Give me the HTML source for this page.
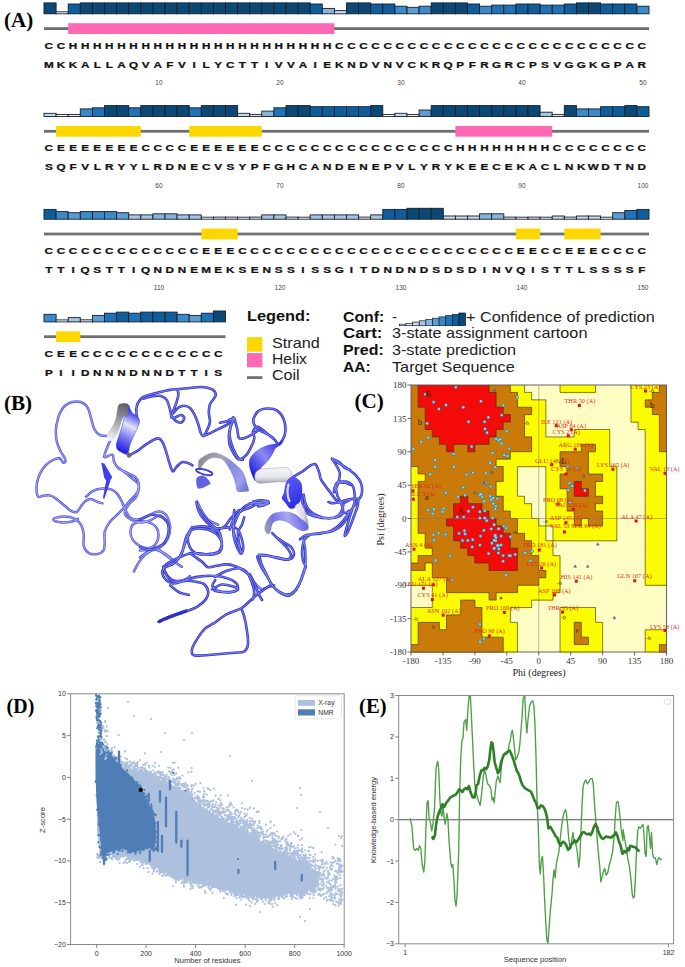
<!DOCTYPE html>
<html><head><meta charset="utf-8">
<style>
html,body{margin:0;padding:0;background:#fff;}
body{width:685px;height:967px;overflow:hidden;position:relative;font-family:"Liberation Sans",sans-serif;}
svg{position:absolute;left:0;top:0;}
.sl{font-family:"Liberation Sans",sans-serif;font-weight:bold;font-size:9.6px;fill:#111;stroke:#111;stroke-width:0.25px;text-anchor:middle;}
.nl{font-family:"Liberation Sans",sans-serif;font-size:6.5px;fill:#444;text-anchor:middle;}
.lg{font-family:"Liberation Sans",sans-serif;font-size:14px;fill:#111;}
.lt{font-family:"Liberation Sans",sans-serif;font-size:15px;fill:#222;}
.ax{font-family:"Liberation Serif",serif;font-size:9px;fill:#333;}
.axt{font-family:"Liberation Serif",serif;font-size:10px;fill:#222;}
.mp{font-family:"Liberation Sans",sans-serif;font-size:7px;fill:#333;}
.mpt{font-family:"Liberation Sans",sans-serif;font-size:7.6px;fill:#333;}
.mp2{font-family:"Liberation Sans",sans-serif;font-size:6.8px;fill:#333;}
.rl{font-family:"Liberation Serif",serif;font-size:6.3px;fill:#e02a1a;}
.rg{font-family:"Liberation Serif",serif;font-size:9px;fill:#3a2000;}
.rt{font-family:"Liberation Serif",serif;font-size:6px;fill:#3a2a00;}
.pl{font-family:"Liberation Serif",serif;font-weight:bold;font-size:20.5px;fill:#000;}
</style></head><body>
<svg width="685" height="967" viewBox="0 0 685 967">
<text x="4" y="26.5" class="pl" textLength="29.2" lengthAdjust="spacingAndGlyphs">(A)</text>
<rect x="44.00" y="2.90" width="12.10" height="10.90" fill="#0b4876" stroke="#15202c" stroke-width="0.9"/>
<rect x="56.10" y="11.80" width="12.10" height="2.00" fill="#ffffff" stroke="#15202c" stroke-width="0.9"/>
<rect x="68.20" y="4.00" width="12.10" height="9.80" fill="#0f5d9b" stroke="#15202c" stroke-width="0.9"/>
<rect x="80.30" y="2.90" width="12.10" height="10.90" fill="#0b4876" stroke="#15202c" stroke-width="0.9"/>
<rect x="92.40" y="2.90" width="12.10" height="10.90" fill="#0b4876" stroke="#15202c" stroke-width="0.9"/>
<rect x="104.50" y="2.90" width="12.10" height="10.90" fill="#0b4876" stroke="#15202c" stroke-width="0.9"/>
<rect x="116.60" y="2.90" width="12.10" height="10.90" fill="#0b4876" stroke="#15202c" stroke-width="0.9"/>
<rect x="128.70" y="2.90" width="12.10" height="10.90" fill="#0b4876" stroke="#15202c" stroke-width="0.9"/>
<rect x="140.80" y="2.90" width="12.10" height="10.90" fill="#0b4876" stroke="#15202c" stroke-width="0.9"/>
<rect x="152.90" y="2.90" width="12.10" height="10.90" fill="#0b4876" stroke="#15202c" stroke-width="0.9"/>
<rect x="165.00" y="2.90" width="12.10" height="10.90" fill="#0b4876" stroke="#15202c" stroke-width="0.9"/>
<rect x="177.10" y="2.90" width="12.10" height="10.90" fill="#0b4876" stroke="#15202c" stroke-width="0.9"/>
<rect x="189.20" y="2.90" width="12.10" height="10.90" fill="#0b4876" stroke="#15202c" stroke-width="0.9"/>
<rect x="201.30" y="2.90" width="12.10" height="10.90" fill="#0b4876" stroke="#15202c" stroke-width="0.9"/>
<rect x="213.40" y="2.90" width="12.10" height="10.90" fill="#0b4876" stroke="#15202c" stroke-width="0.9"/>
<rect x="225.50" y="2.90" width="12.10" height="10.90" fill="#0b4876" stroke="#15202c" stroke-width="0.9"/>
<rect x="237.60" y="2.90" width="12.10" height="10.90" fill="#0b4876" stroke="#15202c" stroke-width="0.9"/>
<rect x="249.70" y="2.90" width="12.10" height="10.90" fill="#0b4876" stroke="#15202c" stroke-width="0.9"/>
<rect x="261.80" y="2.90" width="12.10" height="10.90" fill="#0b4876" stroke="#15202c" stroke-width="0.9"/>
<rect x="273.90" y="2.90" width="12.10" height="10.90" fill="#0b4876" stroke="#15202c" stroke-width="0.9"/>
<rect x="286.00" y="2.90" width="12.10" height="10.90" fill="#0b4876" stroke="#15202c" stroke-width="0.9"/>
<rect x="298.10" y="2.90" width="12.10" height="10.90" fill="#0b4876" stroke="#15202c" stroke-width="0.9"/>
<rect x="310.20" y="4.00" width="12.10" height="9.80" fill="#0f5d9b" stroke="#15202c" stroke-width="0.9"/>
<rect x="322.30" y="8.40" width="12.10" height="5.40" fill="#88b3dd" stroke="#15202c" stroke-width="0.9"/>
<rect x="334.40" y="10.60" width="12.10" height="3.20" fill="#c9d5ea" stroke="#15202c" stroke-width="0.9"/>
<rect x="346.50" y="2.90" width="12.10" height="10.90" fill="#0b4876" stroke="#15202c" stroke-width="0.9"/>
<rect x="358.60" y="2.90" width="12.10" height="10.90" fill="#0b4876" stroke="#15202c" stroke-width="0.9"/>
<rect x="370.70" y="4.00" width="12.10" height="9.80" fill="#0f5d9b" stroke="#15202c" stroke-width="0.9"/>
<rect x="382.80" y="4.00" width="12.10" height="9.80" fill="#0f5d9b" stroke="#15202c" stroke-width="0.9"/>
<rect x="394.90" y="6.20" width="12.10" height="7.60" fill="#3b89c8" stroke="#15202c" stroke-width="0.9"/>
<rect x="407.00" y="7.30" width="12.10" height="6.50" fill="#5f9cd2" stroke="#15202c" stroke-width="0.9"/>
<rect x="419.10" y="6.20" width="12.10" height="7.60" fill="#3b89c8" stroke="#15202c" stroke-width="0.9"/>
<rect x="431.20" y="2.90" width="12.10" height="10.90" fill="#0b4876" stroke="#15202c" stroke-width="0.9"/>
<rect x="443.30" y="2.90" width="12.10" height="10.90" fill="#0b4876" stroke="#15202c" stroke-width="0.9"/>
<rect x="455.40" y="2.90" width="12.10" height="10.90" fill="#0b4876" stroke="#15202c" stroke-width="0.9"/>
<rect x="467.50" y="4.00" width="12.10" height="9.80" fill="#0f5d9b" stroke="#15202c" stroke-width="0.9"/>
<rect x="479.60" y="6.20" width="12.10" height="7.60" fill="#3b89c8" stroke="#15202c" stroke-width="0.9"/>
<rect x="491.70" y="5.10" width="12.10" height="8.70" fill="#1f72b5" stroke="#15202c" stroke-width="0.9"/>
<rect x="503.80" y="5.10" width="12.10" height="8.70" fill="#1f72b5" stroke="#15202c" stroke-width="0.9"/>
<rect x="515.90" y="4.00" width="12.10" height="9.80" fill="#0f5d9b" stroke="#15202c" stroke-width="0.9"/>
<rect x="528.00" y="4.00" width="12.10" height="9.80" fill="#0f5d9b" stroke="#15202c" stroke-width="0.9"/>
<rect x="540.10" y="5.10" width="12.10" height="8.70" fill="#1f72b5" stroke="#15202c" stroke-width="0.9"/>
<rect x="552.20" y="5.10" width="12.10" height="8.70" fill="#1f72b5" stroke="#15202c" stroke-width="0.9"/>
<rect x="564.30" y="4.00" width="12.10" height="9.80" fill="#0f5d9b" stroke="#15202c" stroke-width="0.9"/>
<rect x="576.40" y="2.90" width="12.10" height="10.90" fill="#0b4876" stroke="#15202c" stroke-width="0.9"/>
<rect x="588.50" y="2.90" width="12.10" height="10.90" fill="#0b4876" stroke="#15202c" stroke-width="0.9"/>
<rect x="600.60" y="4.00" width="12.10" height="9.80" fill="#0f5d9b" stroke="#15202c" stroke-width="0.9"/>
<rect x="612.70" y="4.00" width="12.10" height="9.80" fill="#0f5d9b" stroke="#15202c" stroke-width="0.9"/>
<rect x="624.80" y="4.00" width="12.10" height="9.80" fill="#0f5d9b" stroke="#15202c" stroke-width="0.9"/>
<rect x="636.90" y="6.20" width="12.10" height="7.60" fill="#3b89c8" stroke="#15202c" stroke-width="0.9"/>
<rect x="44.00" y="27.20" width="605.00" height="2.8" fill="#707070"/>
<rect x="68.20" y="23.20" width="266.20" height="10.8" fill="#ff69b4"/>
<text x="40.04" y="48.80" class="sl" transform="scale(1.22,1)">C</text>
<text x="49.96" y="48.80" class="sl" transform="scale(1.22,1)">C</text>
<text x="59.88" y="48.80" class="sl" transform="scale(1.22,1)">H</text>
<text x="69.80" y="48.80" class="sl" transform="scale(1.22,1)">H</text>
<text x="79.71" y="48.80" class="sl" transform="scale(1.22,1)">H</text>
<text x="89.63" y="48.80" class="sl" transform="scale(1.22,1)">H</text>
<text x="99.55" y="48.80" class="sl" transform="scale(1.22,1)">H</text>
<text x="109.47" y="48.80" class="sl" transform="scale(1.22,1)">H</text>
<text x="119.39" y="48.80" class="sl" transform="scale(1.22,1)">H</text>
<text x="129.30" y="48.80" class="sl" transform="scale(1.22,1)">H</text>
<text x="139.22" y="48.80" class="sl" transform="scale(1.22,1)">H</text>
<text x="149.14" y="48.80" class="sl" transform="scale(1.22,1)">H</text>
<text x="159.06" y="48.80" class="sl" transform="scale(1.22,1)">H</text>
<text x="168.98" y="48.80" class="sl" transform="scale(1.22,1)">H</text>
<text x="178.89" y="48.80" class="sl" transform="scale(1.22,1)">H</text>
<text x="188.81" y="48.80" class="sl" transform="scale(1.22,1)">H</text>
<text x="198.73" y="48.80" class="sl" transform="scale(1.22,1)">H</text>
<text x="208.65" y="48.80" class="sl" transform="scale(1.22,1)">H</text>
<text x="218.57" y="48.80" class="sl" transform="scale(1.22,1)">H</text>
<text x="228.48" y="48.80" class="sl" transform="scale(1.22,1)">H</text>
<text x="238.40" y="48.80" class="sl" transform="scale(1.22,1)">H</text>
<text x="248.32" y="48.80" class="sl" transform="scale(1.22,1)">H</text>
<text x="258.24" y="48.80" class="sl" transform="scale(1.22,1)">H</text>
<text x="268.16" y="48.80" class="sl" transform="scale(1.22,1)">H</text>
<text x="278.07" y="48.80" class="sl" transform="scale(1.22,1)">C</text>
<text x="287.99" y="48.80" class="sl" transform="scale(1.22,1)">C</text>
<text x="297.91" y="48.80" class="sl" transform="scale(1.22,1)">C</text>
<text x="307.83" y="48.80" class="sl" transform="scale(1.22,1)">C</text>
<text x="317.75" y="48.80" class="sl" transform="scale(1.22,1)">C</text>
<text x="327.66" y="48.80" class="sl" transform="scale(1.22,1)">C</text>
<text x="337.58" y="48.80" class="sl" transform="scale(1.22,1)">C</text>
<text x="347.50" y="48.80" class="sl" transform="scale(1.22,1)">C</text>
<text x="357.42" y="48.80" class="sl" transform="scale(1.22,1)">C</text>
<text x="367.34" y="48.80" class="sl" transform="scale(1.22,1)">C</text>
<text x="377.25" y="48.80" class="sl" transform="scale(1.22,1)">C</text>
<text x="387.17" y="48.80" class="sl" transform="scale(1.22,1)">C</text>
<text x="397.09" y="48.80" class="sl" transform="scale(1.22,1)">C</text>
<text x="407.01" y="48.80" class="sl" transform="scale(1.22,1)">C</text>
<text x="416.93" y="48.80" class="sl" transform="scale(1.22,1)">C</text>
<text x="426.84" y="48.80" class="sl" transform="scale(1.22,1)">C</text>
<text x="436.76" y="48.80" class="sl" transform="scale(1.22,1)">C</text>
<text x="446.68" y="48.80" class="sl" transform="scale(1.22,1)">C</text>
<text x="456.60" y="48.80" class="sl" transform="scale(1.22,1)">C</text>
<text x="466.52" y="48.80" class="sl" transform="scale(1.22,1)">C</text>
<text x="476.43" y="48.80" class="sl" transform="scale(1.22,1)">C</text>
<text x="486.35" y="48.80" class="sl" transform="scale(1.22,1)">C</text>
<text x="496.27" y="48.80" class="sl" transform="scale(1.22,1)">C</text>
<text x="506.19" y="48.80" class="sl" transform="scale(1.22,1)">C</text>
<text x="516.11" y="48.80" class="sl" transform="scale(1.22,1)">C</text>
<text x="526.02" y="48.80" class="sl" transform="scale(1.22,1)">C</text>
<text x="40.04" y="67.80" class="sl" transform="scale(1.22,1)">M</text>
<text x="49.96" y="67.80" class="sl" transform="scale(1.22,1)">K</text>
<text x="59.88" y="67.80" class="sl" transform="scale(1.22,1)">K</text>
<text x="69.80" y="67.80" class="sl" transform="scale(1.22,1)">A</text>
<text x="79.71" y="67.80" class="sl" transform="scale(1.22,1)">L</text>
<text x="89.63" y="67.80" class="sl" transform="scale(1.22,1)">L</text>
<text x="99.55" y="67.80" class="sl" transform="scale(1.22,1)">A</text>
<text x="109.47" y="67.80" class="sl" transform="scale(1.22,1)">Q</text>
<text x="119.39" y="67.80" class="sl" transform="scale(1.22,1)">V</text>
<text x="129.30" y="67.80" class="sl" transform="scale(1.22,1)">A</text>
<text x="139.22" y="67.80" class="sl" transform="scale(1.22,1)">F</text>
<text x="149.14" y="67.80" class="sl" transform="scale(1.22,1)">V</text>
<text x="159.06" y="67.80" class="sl" transform="scale(1.22,1)">I</text>
<text x="168.98" y="67.80" class="sl" transform="scale(1.22,1)">L</text>
<text x="178.89" y="67.80" class="sl" transform="scale(1.22,1)">Y</text>
<text x="188.81" y="67.80" class="sl" transform="scale(1.22,1)">C</text>
<text x="198.73" y="67.80" class="sl" transform="scale(1.22,1)">T</text>
<text x="208.65" y="67.80" class="sl" transform="scale(1.22,1)">T</text>
<text x="218.57" y="67.80" class="sl" transform="scale(1.22,1)">I</text>
<text x="228.48" y="67.80" class="sl" transform="scale(1.22,1)">V</text>
<text x="238.40" y="67.80" class="sl" transform="scale(1.22,1)">V</text>
<text x="248.32" y="67.80" class="sl" transform="scale(1.22,1)">A</text>
<text x="258.24" y="67.80" class="sl" transform="scale(1.22,1)">I</text>
<text x="268.16" y="67.80" class="sl" transform="scale(1.22,1)">E</text>
<text x="278.07" y="67.80" class="sl" transform="scale(1.22,1)">K</text>
<text x="287.99" y="67.80" class="sl" transform="scale(1.22,1)">N</text>
<text x="297.91" y="67.80" class="sl" transform="scale(1.22,1)">D</text>
<text x="307.83" y="67.80" class="sl" transform="scale(1.22,1)">V</text>
<text x="317.75" y="67.80" class="sl" transform="scale(1.22,1)">N</text>
<text x="327.66" y="67.80" class="sl" transform="scale(1.22,1)">V</text>
<text x="337.58" y="67.80" class="sl" transform="scale(1.22,1)">C</text>
<text x="347.50" y="67.80" class="sl" transform="scale(1.22,1)">K</text>
<text x="357.42" y="67.80" class="sl" transform="scale(1.22,1)">R</text>
<text x="367.34" y="67.80" class="sl" transform="scale(1.22,1)">Q</text>
<text x="377.25" y="67.80" class="sl" transform="scale(1.22,1)">P</text>
<text x="387.17" y="67.80" class="sl" transform="scale(1.22,1)">F</text>
<text x="397.09" y="67.80" class="sl" transform="scale(1.22,1)">R</text>
<text x="407.01" y="67.80" class="sl" transform="scale(1.22,1)">G</text>
<text x="416.93" y="67.80" class="sl" transform="scale(1.22,1)">R</text>
<text x="426.84" y="67.80" class="sl" transform="scale(1.22,1)">C</text>
<text x="436.76" y="67.80" class="sl" transform="scale(1.22,1)">P</text>
<text x="446.68" y="67.80" class="sl" transform="scale(1.22,1)">S</text>
<text x="456.60" y="67.80" class="sl" transform="scale(1.22,1)">V</text>
<text x="466.52" y="67.80" class="sl" transform="scale(1.22,1)">G</text>
<text x="476.43" y="67.80" class="sl" transform="scale(1.22,1)">G</text>
<text x="486.35" y="67.80" class="sl" transform="scale(1.22,1)">K</text>
<text x="496.27" y="67.80" class="sl" transform="scale(1.22,1)">G</text>
<text x="506.19" y="67.80" class="sl" transform="scale(1.22,1)">P</text>
<text x="516.11" y="67.80" class="sl" transform="scale(1.22,1)">A</text>
<text x="526.02" y="67.80" class="sl" transform="scale(1.22,1)">R</text>
<text x="158.95" y="84.80" class="nl">10</text>
<text x="279.95" y="84.80" class="nl">20</text>
<text x="400.95" y="84.80" class="nl">30</text>
<text x="521.95" y="84.80" class="nl">40</text>
<text x="642.95" y="84.80" class="nl">50</text>
<rect x="44.00" y="113.30" width="12.10" height="3.20" fill="#c9d5ea" stroke="#15202c" stroke-width="0.9"/>
<rect x="56.10" y="114.50" width="12.10" height="2.00" fill="#ffffff" stroke="#15202c" stroke-width="0.9"/>
<rect x="68.20" y="114.40" width="12.10" height="2.10" fill="#e4e6f2" stroke="#15202c" stroke-width="0.9"/>
<rect x="80.30" y="108.90" width="12.10" height="7.60" fill="#3b89c8" stroke="#15202c" stroke-width="0.9"/>
<rect x="92.40" y="107.80" width="12.10" height="8.70" fill="#1f72b5" stroke="#15202c" stroke-width="0.9"/>
<rect x="104.50" y="105.60" width="12.10" height="10.90" fill="#0b4876" stroke="#15202c" stroke-width="0.9"/>
<rect x="116.60" y="105.60" width="12.10" height="10.90" fill="#0b4876" stroke="#15202c" stroke-width="0.9"/>
<rect x="128.70" y="107.80" width="12.10" height="8.70" fill="#1f72b5" stroke="#15202c" stroke-width="0.9"/>
<rect x="140.80" y="105.60" width="12.10" height="10.90" fill="#0b4876" stroke="#15202c" stroke-width="0.9"/>
<rect x="152.90" y="105.60" width="12.10" height="10.90" fill="#0b4876" stroke="#15202c" stroke-width="0.9"/>
<rect x="165.00" y="105.60" width="12.10" height="10.90" fill="#0b4876" stroke="#15202c" stroke-width="0.9"/>
<rect x="177.10" y="105.60" width="12.10" height="10.90" fill="#0b4876" stroke="#15202c" stroke-width="0.9"/>
<rect x="189.20" y="107.80" width="12.10" height="8.70" fill="#1f72b5" stroke="#15202c" stroke-width="0.9"/>
<rect x="201.30" y="105.60" width="12.10" height="10.90" fill="#0b4876" stroke="#15202c" stroke-width="0.9"/>
<rect x="213.40" y="105.60" width="12.10" height="10.90" fill="#0b4876" stroke="#15202c" stroke-width="0.9"/>
<rect x="225.50" y="105.60" width="12.10" height="10.90" fill="#0b4876" stroke="#15202c" stroke-width="0.9"/>
<rect x="237.60" y="113.30" width="12.10" height="3.20" fill="#c9d5ea" stroke="#15202c" stroke-width="0.9"/>
<rect x="249.70" y="114.40" width="12.10" height="2.10" fill="#e4e6f2" stroke="#15202c" stroke-width="0.9"/>
<rect x="261.80" y="111.10" width="12.10" height="5.40" fill="#88b3dd" stroke="#15202c" stroke-width="0.9"/>
<rect x="273.90" y="107.80" width="12.10" height="8.70" fill="#1f72b5" stroke="#15202c" stroke-width="0.9"/>
<rect x="286.00" y="105.60" width="12.10" height="10.90" fill="#0b4876" stroke="#15202c" stroke-width="0.9"/>
<rect x="298.10" y="105.60" width="12.10" height="10.90" fill="#0b4876" stroke="#15202c" stroke-width="0.9"/>
<rect x="310.20" y="106.70" width="12.10" height="9.80" fill="#0f5d9b" stroke="#15202c" stroke-width="0.9"/>
<rect x="322.30" y="106.70" width="12.10" height="9.80" fill="#0f5d9b" stroke="#15202c" stroke-width="0.9"/>
<rect x="334.40" y="106.70" width="12.10" height="9.80" fill="#0f5d9b" stroke="#15202c" stroke-width="0.9"/>
<rect x="346.50" y="106.70" width="12.10" height="9.80" fill="#0f5d9b" stroke="#15202c" stroke-width="0.9"/>
<rect x="358.60" y="106.70" width="12.10" height="9.80" fill="#0f5d9b" stroke="#15202c" stroke-width="0.9"/>
<rect x="370.70" y="105.60" width="12.10" height="10.90" fill="#0b4876" stroke="#15202c" stroke-width="0.9"/>
<rect x="382.80" y="114.50" width="12.10" height="2.00" fill="#ffffff" stroke="#15202c" stroke-width="0.9"/>
<rect x="394.90" y="113.30" width="12.10" height="3.20" fill="#c9d5ea" stroke="#15202c" stroke-width="0.9"/>
<rect x="407.00" y="114.40" width="12.10" height="2.10" fill="#e4e6f2" stroke="#15202c" stroke-width="0.9"/>
<rect x="419.10" y="110.00" width="12.10" height="6.50" fill="#5f9cd2" stroke="#15202c" stroke-width="0.9"/>
<rect x="431.20" y="105.60" width="12.10" height="10.90" fill="#0b4876" stroke="#15202c" stroke-width="0.9"/>
<rect x="443.30" y="105.60" width="12.10" height="10.90" fill="#0b4876" stroke="#15202c" stroke-width="0.9"/>
<rect x="455.40" y="105.60" width="12.10" height="10.90" fill="#0b4876" stroke="#15202c" stroke-width="0.9"/>
<rect x="467.50" y="105.60" width="12.10" height="10.90" fill="#0b4876" stroke="#15202c" stroke-width="0.9"/>
<rect x="479.60" y="105.60" width="12.10" height="10.90" fill="#0b4876" stroke="#15202c" stroke-width="0.9"/>
<rect x="491.70" y="105.60" width="12.10" height="10.90" fill="#0b4876" stroke="#15202c" stroke-width="0.9"/>
<rect x="503.80" y="105.60" width="12.10" height="10.90" fill="#0b4876" stroke="#15202c" stroke-width="0.9"/>
<rect x="515.90" y="105.60" width="12.10" height="10.90" fill="#0b4876" stroke="#15202c" stroke-width="0.9"/>
<rect x="528.00" y="105.60" width="12.10" height="10.90" fill="#0b4876" stroke="#15202c" stroke-width="0.9"/>
<rect x="540.10" y="112.20" width="12.10" height="4.30" fill="#a9c5e5" stroke="#15202c" stroke-width="0.9"/>
<rect x="552.20" y="114.40" width="12.10" height="2.10" fill="#e4e6f2" stroke="#15202c" stroke-width="0.9"/>
<rect x="564.30" y="105.60" width="12.10" height="10.90" fill="#0b4876" stroke="#15202c" stroke-width="0.9"/>
<rect x="576.40" y="108.90" width="12.10" height="7.60" fill="#3b89c8" stroke="#15202c" stroke-width="0.9"/>
<rect x="588.50" y="108.90" width="12.10" height="7.60" fill="#3b89c8" stroke="#15202c" stroke-width="0.9"/>
<rect x="600.60" y="106.70" width="12.10" height="9.80" fill="#0f5d9b" stroke="#15202c" stroke-width="0.9"/>
<rect x="612.70" y="106.70" width="12.10" height="9.80" fill="#0f5d9b" stroke="#15202c" stroke-width="0.9"/>
<rect x="624.80" y="105.60" width="12.10" height="10.90" fill="#0b4876" stroke="#15202c" stroke-width="0.9"/>
<rect x="636.90" y="106.70" width="12.10" height="9.80" fill="#0f5d9b" stroke="#15202c" stroke-width="0.9"/>
<rect x="44.00" y="129.90" width="605.00" height="2.8" fill="#707070"/>
<rect x="56.10" y="125.90" width="84.70" height="10.8" fill="#ffd700"/>
<rect x="189.20" y="125.90" width="72.60" height="10.8" fill="#ffd700"/>
<rect x="455.40" y="125.90" width="96.80" height="10.8" fill="#ff69b4"/>
<text x="40.04" y="151.50" class="sl" transform="scale(1.22,1)">C</text>
<text x="49.96" y="151.50" class="sl" transform="scale(1.22,1)">E</text>
<text x="59.88" y="151.50" class="sl" transform="scale(1.22,1)">E</text>
<text x="69.80" y="151.50" class="sl" transform="scale(1.22,1)">E</text>
<text x="79.71" y="151.50" class="sl" transform="scale(1.22,1)">E</text>
<text x="89.63" y="151.50" class="sl" transform="scale(1.22,1)">E</text>
<text x="99.55" y="151.50" class="sl" transform="scale(1.22,1)">E</text>
<text x="109.47" y="151.50" class="sl" transform="scale(1.22,1)">E</text>
<text x="119.39" y="151.50" class="sl" transform="scale(1.22,1)">C</text>
<text x="129.30" y="151.50" class="sl" transform="scale(1.22,1)">C</text>
<text x="139.22" y="151.50" class="sl" transform="scale(1.22,1)">C</text>
<text x="149.14" y="151.50" class="sl" transform="scale(1.22,1)">C</text>
<text x="159.06" y="151.50" class="sl" transform="scale(1.22,1)">E</text>
<text x="168.98" y="151.50" class="sl" transform="scale(1.22,1)">E</text>
<text x="178.89" y="151.50" class="sl" transform="scale(1.22,1)">E</text>
<text x="188.81" y="151.50" class="sl" transform="scale(1.22,1)">E</text>
<text x="198.73" y="151.50" class="sl" transform="scale(1.22,1)">E</text>
<text x="208.65" y="151.50" class="sl" transform="scale(1.22,1)">E</text>
<text x="218.57" y="151.50" class="sl" transform="scale(1.22,1)">C</text>
<text x="228.48" y="151.50" class="sl" transform="scale(1.22,1)">C</text>
<text x="238.40" y="151.50" class="sl" transform="scale(1.22,1)">C</text>
<text x="248.32" y="151.50" class="sl" transform="scale(1.22,1)">C</text>
<text x="258.24" y="151.50" class="sl" transform="scale(1.22,1)">C</text>
<text x="268.16" y="151.50" class="sl" transform="scale(1.22,1)">C</text>
<text x="278.07" y="151.50" class="sl" transform="scale(1.22,1)">C</text>
<text x="287.99" y="151.50" class="sl" transform="scale(1.22,1)">C</text>
<text x="297.91" y="151.50" class="sl" transform="scale(1.22,1)">C</text>
<text x="307.83" y="151.50" class="sl" transform="scale(1.22,1)">C</text>
<text x="317.75" y="151.50" class="sl" transform="scale(1.22,1)">C</text>
<text x="327.66" y="151.50" class="sl" transform="scale(1.22,1)">C</text>
<text x="337.58" y="151.50" class="sl" transform="scale(1.22,1)">C</text>
<text x="347.50" y="151.50" class="sl" transform="scale(1.22,1)">C</text>
<text x="357.42" y="151.50" class="sl" transform="scale(1.22,1)">C</text>
<text x="367.34" y="151.50" class="sl" transform="scale(1.22,1)">C</text>
<text x="377.25" y="151.50" class="sl" transform="scale(1.22,1)">H</text>
<text x="387.17" y="151.50" class="sl" transform="scale(1.22,1)">H</text>
<text x="397.09" y="151.50" class="sl" transform="scale(1.22,1)">H</text>
<text x="407.01" y="151.50" class="sl" transform="scale(1.22,1)">H</text>
<text x="416.93" y="151.50" class="sl" transform="scale(1.22,1)">H</text>
<text x="426.84" y="151.50" class="sl" transform="scale(1.22,1)">H</text>
<text x="436.76" y="151.50" class="sl" transform="scale(1.22,1)">H</text>
<text x="446.68" y="151.50" class="sl" transform="scale(1.22,1)">H</text>
<text x="456.60" y="151.50" class="sl" transform="scale(1.22,1)">C</text>
<text x="466.52" y="151.50" class="sl" transform="scale(1.22,1)">C</text>
<text x="476.43" y="151.50" class="sl" transform="scale(1.22,1)">C</text>
<text x="486.35" y="151.50" class="sl" transform="scale(1.22,1)">C</text>
<text x="496.27" y="151.50" class="sl" transform="scale(1.22,1)">C</text>
<text x="506.19" y="151.50" class="sl" transform="scale(1.22,1)">C</text>
<text x="516.11" y="151.50" class="sl" transform="scale(1.22,1)">C</text>
<text x="526.02" y="151.50" class="sl" transform="scale(1.22,1)">C</text>
<text x="40.04" y="170.50" class="sl" transform="scale(1.22,1)">S</text>
<text x="49.96" y="170.50" class="sl" transform="scale(1.22,1)">Q</text>
<text x="59.88" y="170.50" class="sl" transform="scale(1.22,1)">F</text>
<text x="69.80" y="170.50" class="sl" transform="scale(1.22,1)">V</text>
<text x="79.71" y="170.50" class="sl" transform="scale(1.22,1)">L</text>
<text x="89.63" y="170.50" class="sl" transform="scale(1.22,1)">R</text>
<text x="99.55" y="170.50" class="sl" transform="scale(1.22,1)">Y</text>
<text x="109.47" y="170.50" class="sl" transform="scale(1.22,1)">Y</text>
<text x="119.39" y="170.50" class="sl" transform="scale(1.22,1)">L</text>
<text x="129.30" y="170.50" class="sl" transform="scale(1.22,1)">R</text>
<text x="139.22" y="170.50" class="sl" transform="scale(1.22,1)">D</text>
<text x="149.14" y="170.50" class="sl" transform="scale(1.22,1)">N</text>
<text x="159.06" y="170.50" class="sl" transform="scale(1.22,1)">E</text>
<text x="168.98" y="170.50" class="sl" transform="scale(1.22,1)">C</text>
<text x="178.89" y="170.50" class="sl" transform="scale(1.22,1)">V</text>
<text x="188.81" y="170.50" class="sl" transform="scale(1.22,1)">S</text>
<text x="198.73" y="170.50" class="sl" transform="scale(1.22,1)">Y</text>
<text x="208.65" y="170.50" class="sl" transform="scale(1.22,1)">P</text>
<text x="218.57" y="170.50" class="sl" transform="scale(1.22,1)">F</text>
<text x="228.48" y="170.50" class="sl" transform="scale(1.22,1)">G</text>
<text x="238.40" y="170.50" class="sl" transform="scale(1.22,1)">H</text>
<text x="248.32" y="170.50" class="sl" transform="scale(1.22,1)">C</text>
<text x="258.24" y="170.50" class="sl" transform="scale(1.22,1)">A</text>
<text x="268.16" y="170.50" class="sl" transform="scale(1.22,1)">N</text>
<text x="278.07" y="170.50" class="sl" transform="scale(1.22,1)">D</text>
<text x="287.99" y="170.50" class="sl" transform="scale(1.22,1)">E</text>
<text x="297.91" y="170.50" class="sl" transform="scale(1.22,1)">N</text>
<text x="307.83" y="170.50" class="sl" transform="scale(1.22,1)">E</text>
<text x="317.75" y="170.50" class="sl" transform="scale(1.22,1)">P</text>
<text x="327.66" y="170.50" class="sl" transform="scale(1.22,1)">V</text>
<text x="337.58" y="170.50" class="sl" transform="scale(1.22,1)">L</text>
<text x="347.50" y="170.50" class="sl" transform="scale(1.22,1)">Y</text>
<text x="357.42" y="170.50" class="sl" transform="scale(1.22,1)">R</text>
<text x="367.34" y="170.50" class="sl" transform="scale(1.22,1)">Y</text>
<text x="377.25" y="170.50" class="sl" transform="scale(1.22,1)">K</text>
<text x="387.17" y="170.50" class="sl" transform="scale(1.22,1)">E</text>
<text x="397.09" y="170.50" class="sl" transform="scale(1.22,1)">E</text>
<text x="407.01" y="170.50" class="sl" transform="scale(1.22,1)">C</text>
<text x="416.93" y="170.50" class="sl" transform="scale(1.22,1)">E</text>
<text x="426.84" y="170.50" class="sl" transform="scale(1.22,1)">K</text>
<text x="436.76" y="170.50" class="sl" transform="scale(1.22,1)">A</text>
<text x="446.68" y="170.50" class="sl" transform="scale(1.22,1)">C</text>
<text x="456.60" y="170.50" class="sl" transform="scale(1.22,1)">L</text>
<text x="466.52" y="170.50" class="sl" transform="scale(1.22,1)">N</text>
<text x="476.43" y="170.50" class="sl" transform="scale(1.22,1)">K</text>
<text x="486.35" y="170.50" class="sl" transform="scale(1.22,1)">W</text>
<text x="496.27" y="170.50" class="sl" transform="scale(1.22,1)">D</text>
<text x="506.19" y="170.50" class="sl" transform="scale(1.22,1)">T</text>
<text x="516.11" y="170.50" class="sl" transform="scale(1.22,1)">N</text>
<text x="526.02" y="170.50" class="sl" transform="scale(1.22,1)">D</text>
<text x="158.95" y="187.50" class="nl">60</text>
<text x="279.95" y="187.50" class="nl">70</text>
<text x="400.95" y="187.50" class="nl">80</text>
<text x="521.95" y="187.50" class="nl">90</text>
<text x="642.95" y="187.50" class="nl">100</text>
<rect x="44.00" y="209.40" width="12.10" height="9.80" fill="#0f5d9b" stroke="#15202c" stroke-width="0.9"/>
<rect x="56.10" y="211.60" width="12.10" height="7.60" fill="#3b89c8" stroke="#15202c" stroke-width="0.9"/>
<rect x="68.20" y="212.70" width="12.10" height="6.50" fill="#5f9cd2" stroke="#15202c" stroke-width="0.9"/>
<rect x="80.30" y="211.60" width="12.10" height="7.60" fill="#3b89c8" stroke="#15202c" stroke-width="0.9"/>
<rect x="92.40" y="211.60" width="12.10" height="7.60" fill="#3b89c8" stroke="#15202c" stroke-width="0.9"/>
<rect x="104.50" y="211.60" width="12.10" height="7.60" fill="#3b89c8" stroke="#15202c" stroke-width="0.9"/>
<rect x="116.60" y="212.70" width="12.10" height="6.50" fill="#5f9cd2" stroke="#15202c" stroke-width="0.9"/>
<rect x="128.70" y="214.90" width="12.10" height="4.30" fill="#a9c5e5" stroke="#15202c" stroke-width="0.9"/>
<rect x="140.80" y="214.90" width="12.10" height="4.30" fill="#a9c5e5" stroke="#15202c" stroke-width="0.9"/>
<rect x="152.90" y="213.80" width="12.10" height="5.40" fill="#88b3dd" stroke="#15202c" stroke-width="0.9"/>
<rect x="165.00" y="213.80" width="12.10" height="5.40" fill="#88b3dd" stroke="#15202c" stroke-width="0.9"/>
<rect x="177.10" y="214.90" width="12.10" height="4.30" fill="#a9c5e5" stroke="#15202c" stroke-width="0.9"/>
<rect x="189.20" y="214.90" width="12.10" height="4.30" fill="#a9c5e5" stroke="#15202c" stroke-width="0.9"/>
<rect x="201.30" y="217.20" width="12.10" height="2.00" fill="#ffffff" stroke="#15202c" stroke-width="0.9"/>
<rect x="213.40" y="217.10" width="12.10" height="2.10" fill="#e4e6f2" stroke="#15202c" stroke-width="0.9"/>
<rect x="225.50" y="217.10" width="12.10" height="2.10" fill="#e4e6f2" stroke="#15202c" stroke-width="0.9"/>
<rect x="237.60" y="217.20" width="12.10" height="2.00" fill="#ffffff" stroke="#15202c" stroke-width="0.9"/>
<rect x="249.70" y="217.10" width="12.10" height="2.10" fill="#e4e6f2" stroke="#15202c" stroke-width="0.9"/>
<rect x="261.80" y="214.90" width="12.10" height="4.30" fill="#a9c5e5" stroke="#15202c" stroke-width="0.9"/>
<rect x="273.90" y="214.90" width="12.10" height="4.30" fill="#a9c5e5" stroke="#15202c" stroke-width="0.9"/>
<rect x="286.00" y="217.10" width="12.10" height="2.10" fill="#e4e6f2" stroke="#15202c" stroke-width="0.9"/>
<rect x="298.10" y="217.20" width="12.10" height="2.00" fill="#ffffff" stroke="#15202c" stroke-width="0.9"/>
<rect x="310.20" y="214.90" width="12.10" height="4.30" fill="#a9c5e5" stroke="#15202c" stroke-width="0.9"/>
<rect x="322.30" y="214.90" width="12.10" height="4.30" fill="#a9c5e5" stroke="#15202c" stroke-width="0.9"/>
<rect x="334.40" y="214.90" width="12.10" height="4.30" fill="#a9c5e5" stroke="#15202c" stroke-width="0.9"/>
<rect x="346.50" y="214.90" width="12.10" height="4.30" fill="#a9c5e5" stroke="#15202c" stroke-width="0.9"/>
<rect x="358.60" y="217.10" width="12.10" height="2.10" fill="#e4e6f2" stroke="#15202c" stroke-width="0.9"/>
<rect x="370.70" y="214.90" width="12.10" height="4.30" fill="#a9c5e5" stroke="#15202c" stroke-width="0.9"/>
<rect x="382.80" y="209.40" width="12.10" height="9.80" fill="#0f5d9b" stroke="#15202c" stroke-width="0.9"/>
<rect x="394.90" y="209.40" width="12.10" height="9.80" fill="#0f5d9b" stroke="#15202c" stroke-width="0.9"/>
<rect x="407.00" y="208.30" width="12.10" height="10.90" fill="#0b4876" stroke="#15202c" stroke-width="0.9"/>
<rect x="419.10" y="208.30" width="12.10" height="10.90" fill="#0b4876" stroke="#15202c" stroke-width="0.9"/>
<rect x="431.20" y="208.30" width="12.10" height="10.90" fill="#0b4876" stroke="#15202c" stroke-width="0.9"/>
<rect x="443.30" y="216.00" width="12.10" height="3.20" fill="#c9d5ea" stroke="#15202c" stroke-width="0.9"/>
<rect x="455.40" y="216.00" width="12.10" height="3.20" fill="#c9d5ea" stroke="#15202c" stroke-width="0.9"/>
<rect x="467.50" y="216.00" width="12.10" height="3.20" fill="#c9d5ea" stroke="#15202c" stroke-width="0.9"/>
<rect x="479.60" y="213.80" width="12.10" height="5.40" fill="#88b3dd" stroke="#15202c" stroke-width="0.9"/>
<rect x="491.70" y="213.80" width="12.10" height="5.40" fill="#88b3dd" stroke="#15202c" stroke-width="0.9"/>
<rect x="503.80" y="217.10" width="12.10" height="2.10" fill="#e4e6f2" stroke="#15202c" stroke-width="0.9"/>
<rect x="515.90" y="217.20" width="12.10" height="2.00" fill="#ffffff" stroke="#15202c" stroke-width="0.9"/>
<rect x="528.00" y="217.10" width="12.10" height="2.10" fill="#e4e6f2" stroke="#15202c" stroke-width="0.9"/>
<rect x="540.10" y="217.20" width="12.10" height="2.00" fill="#ffffff" stroke="#15202c" stroke-width="0.9"/>
<rect x="552.20" y="216.00" width="12.10" height="3.20" fill="#c9d5ea" stroke="#15202c" stroke-width="0.9"/>
<rect x="564.30" y="217.10" width="12.10" height="2.10" fill="#e4e6f2" stroke="#15202c" stroke-width="0.9"/>
<rect x="576.40" y="216.00" width="12.10" height="3.20" fill="#c9d5ea" stroke="#15202c" stroke-width="0.9"/>
<rect x="588.50" y="216.00" width="12.10" height="3.20" fill="#c9d5ea" stroke="#15202c" stroke-width="0.9"/>
<rect x="600.60" y="217.20" width="12.10" height="2.00" fill="#ffffff" stroke="#15202c" stroke-width="0.9"/>
<rect x="612.70" y="212.70" width="12.10" height="6.50" fill="#5f9cd2" stroke="#15202c" stroke-width="0.9"/>
<rect x="624.80" y="210.50" width="12.10" height="8.70" fill="#1f72b5" stroke="#15202c" stroke-width="0.9"/>
<rect x="636.90" y="209.40" width="12.10" height="9.80" fill="#0f5d9b" stroke="#15202c" stroke-width="0.9"/>
<rect x="44.00" y="232.60" width="605.00" height="2.8" fill="#707070"/>
<rect x="201.30" y="228.60" width="36.30" height="10.8" fill="#ffd700"/>
<rect x="515.90" y="228.60" width="24.20" height="10.8" fill="#ffd700"/>
<rect x="564.30" y="228.60" width="36.30" height="10.8" fill="#ffd700"/>
<text x="40.04" y="254.20" class="sl" transform="scale(1.22,1)">C</text>
<text x="49.96" y="254.20" class="sl" transform="scale(1.22,1)">C</text>
<text x="59.88" y="254.20" class="sl" transform="scale(1.22,1)">C</text>
<text x="69.80" y="254.20" class="sl" transform="scale(1.22,1)">C</text>
<text x="79.71" y="254.20" class="sl" transform="scale(1.22,1)">C</text>
<text x="89.63" y="254.20" class="sl" transform="scale(1.22,1)">C</text>
<text x="99.55" y="254.20" class="sl" transform="scale(1.22,1)">C</text>
<text x="109.47" y="254.20" class="sl" transform="scale(1.22,1)">C</text>
<text x="119.39" y="254.20" class="sl" transform="scale(1.22,1)">C</text>
<text x="129.30" y="254.20" class="sl" transform="scale(1.22,1)">C</text>
<text x="139.22" y="254.20" class="sl" transform="scale(1.22,1)">C</text>
<text x="149.14" y="254.20" class="sl" transform="scale(1.22,1)">C</text>
<text x="159.06" y="254.20" class="sl" transform="scale(1.22,1)">C</text>
<text x="168.98" y="254.20" class="sl" transform="scale(1.22,1)">E</text>
<text x="178.89" y="254.20" class="sl" transform="scale(1.22,1)">E</text>
<text x="188.81" y="254.20" class="sl" transform="scale(1.22,1)">E</text>
<text x="198.73" y="254.20" class="sl" transform="scale(1.22,1)">C</text>
<text x="208.65" y="254.20" class="sl" transform="scale(1.22,1)">C</text>
<text x="218.57" y="254.20" class="sl" transform="scale(1.22,1)">C</text>
<text x="228.48" y="254.20" class="sl" transform="scale(1.22,1)">C</text>
<text x="238.40" y="254.20" class="sl" transform="scale(1.22,1)">C</text>
<text x="248.32" y="254.20" class="sl" transform="scale(1.22,1)">C</text>
<text x="258.24" y="254.20" class="sl" transform="scale(1.22,1)">C</text>
<text x="268.16" y="254.20" class="sl" transform="scale(1.22,1)">C</text>
<text x="278.07" y="254.20" class="sl" transform="scale(1.22,1)">C</text>
<text x="287.99" y="254.20" class="sl" transform="scale(1.22,1)">C</text>
<text x="297.91" y="254.20" class="sl" transform="scale(1.22,1)">C</text>
<text x="307.83" y="254.20" class="sl" transform="scale(1.22,1)">C</text>
<text x="317.75" y="254.20" class="sl" transform="scale(1.22,1)">C</text>
<text x="327.66" y="254.20" class="sl" transform="scale(1.22,1)">C</text>
<text x="337.58" y="254.20" class="sl" transform="scale(1.22,1)">C</text>
<text x="347.50" y="254.20" class="sl" transform="scale(1.22,1)">C</text>
<text x="357.42" y="254.20" class="sl" transform="scale(1.22,1)">C</text>
<text x="367.34" y="254.20" class="sl" transform="scale(1.22,1)">C</text>
<text x="377.25" y="254.20" class="sl" transform="scale(1.22,1)">C</text>
<text x="387.17" y="254.20" class="sl" transform="scale(1.22,1)">C</text>
<text x="397.09" y="254.20" class="sl" transform="scale(1.22,1)">C</text>
<text x="407.01" y="254.20" class="sl" transform="scale(1.22,1)">C</text>
<text x="416.93" y="254.20" class="sl" transform="scale(1.22,1)">C</text>
<text x="426.84" y="254.20" class="sl" transform="scale(1.22,1)">E</text>
<text x="436.76" y="254.20" class="sl" transform="scale(1.22,1)">E</text>
<text x="446.68" y="254.20" class="sl" transform="scale(1.22,1)">C</text>
<text x="456.60" y="254.20" class="sl" transform="scale(1.22,1)">C</text>
<text x="466.52" y="254.20" class="sl" transform="scale(1.22,1)">E</text>
<text x="476.43" y="254.20" class="sl" transform="scale(1.22,1)">E</text>
<text x="486.35" y="254.20" class="sl" transform="scale(1.22,1)">E</text>
<text x="496.27" y="254.20" class="sl" transform="scale(1.22,1)">C</text>
<text x="506.19" y="254.20" class="sl" transform="scale(1.22,1)">C</text>
<text x="516.11" y="254.20" class="sl" transform="scale(1.22,1)">C</text>
<text x="526.02" y="254.20" class="sl" transform="scale(1.22,1)">C</text>
<text x="40.04" y="273.20" class="sl" transform="scale(1.22,1)">T</text>
<text x="49.96" y="273.20" class="sl" transform="scale(1.22,1)">T</text>
<text x="59.88" y="273.20" class="sl" transform="scale(1.22,1)">I</text>
<text x="69.80" y="273.20" class="sl" transform="scale(1.22,1)">Q</text>
<text x="79.71" y="273.20" class="sl" transform="scale(1.22,1)">S</text>
<text x="89.63" y="273.20" class="sl" transform="scale(1.22,1)">T</text>
<text x="99.55" y="273.20" class="sl" transform="scale(1.22,1)">T</text>
<text x="109.47" y="273.20" class="sl" transform="scale(1.22,1)">I</text>
<text x="119.39" y="273.20" class="sl" transform="scale(1.22,1)">Q</text>
<text x="129.30" y="273.20" class="sl" transform="scale(1.22,1)">N</text>
<text x="139.22" y="273.20" class="sl" transform="scale(1.22,1)">D</text>
<text x="149.14" y="273.20" class="sl" transform="scale(1.22,1)">N</text>
<text x="159.06" y="273.20" class="sl" transform="scale(1.22,1)">E</text>
<text x="168.98" y="273.20" class="sl" transform="scale(1.22,1)">M</text>
<text x="178.89" y="273.20" class="sl" transform="scale(1.22,1)">E</text>
<text x="188.81" y="273.20" class="sl" transform="scale(1.22,1)">K</text>
<text x="198.73" y="273.20" class="sl" transform="scale(1.22,1)">S</text>
<text x="208.65" y="273.20" class="sl" transform="scale(1.22,1)">E</text>
<text x="218.57" y="273.20" class="sl" transform="scale(1.22,1)">N</text>
<text x="228.48" y="273.20" class="sl" transform="scale(1.22,1)">S</text>
<text x="238.40" y="273.20" class="sl" transform="scale(1.22,1)">S</text>
<text x="248.32" y="273.20" class="sl" transform="scale(1.22,1)">I</text>
<text x="258.24" y="273.20" class="sl" transform="scale(1.22,1)">S</text>
<text x="268.16" y="273.20" class="sl" transform="scale(1.22,1)">S</text>
<text x="278.07" y="273.20" class="sl" transform="scale(1.22,1)">G</text>
<text x="287.99" y="273.20" class="sl" transform="scale(1.22,1)">I</text>
<text x="297.91" y="273.20" class="sl" transform="scale(1.22,1)">T</text>
<text x="307.83" y="273.20" class="sl" transform="scale(1.22,1)">D</text>
<text x="317.75" y="273.20" class="sl" transform="scale(1.22,1)">N</text>
<text x="327.66" y="273.20" class="sl" transform="scale(1.22,1)">D</text>
<text x="337.58" y="273.20" class="sl" transform="scale(1.22,1)">N</text>
<text x="347.50" y="273.20" class="sl" transform="scale(1.22,1)">D</text>
<text x="357.42" y="273.20" class="sl" transform="scale(1.22,1)">S</text>
<text x="367.34" y="273.20" class="sl" transform="scale(1.22,1)">D</text>
<text x="377.25" y="273.20" class="sl" transform="scale(1.22,1)">S</text>
<text x="387.17" y="273.20" class="sl" transform="scale(1.22,1)">D</text>
<text x="397.09" y="273.20" class="sl" transform="scale(1.22,1)">I</text>
<text x="407.01" y="273.20" class="sl" transform="scale(1.22,1)">N</text>
<text x="416.93" y="273.20" class="sl" transform="scale(1.22,1)">V</text>
<text x="426.84" y="273.20" class="sl" transform="scale(1.22,1)">Q</text>
<text x="436.76" y="273.20" class="sl" transform="scale(1.22,1)">I</text>
<text x="446.68" y="273.20" class="sl" transform="scale(1.22,1)">S</text>
<text x="456.60" y="273.20" class="sl" transform="scale(1.22,1)">T</text>
<text x="466.52" y="273.20" class="sl" transform="scale(1.22,1)">T</text>
<text x="476.43" y="273.20" class="sl" transform="scale(1.22,1)">L</text>
<text x="486.35" y="273.20" class="sl" transform="scale(1.22,1)">S</text>
<text x="496.27" y="273.20" class="sl" transform="scale(1.22,1)">S</text>
<text x="506.19" y="273.20" class="sl" transform="scale(1.22,1)">S</text>
<text x="516.11" y="273.20" class="sl" transform="scale(1.22,1)">S</text>
<text x="526.02" y="273.20" class="sl" transform="scale(1.22,1)">F</text>
<text x="158.95" y="290.20" class="nl">110</text>
<text x="279.95" y="290.20" class="nl">120</text>
<text x="400.95" y="290.20" class="nl">130</text>
<text x="521.95" y="290.20" class="nl">140</text>
<text x="642.95" y="290.20" class="nl">150</text>
<rect x="44.00" y="314.30" width="12.10" height="7.60" fill="#3b89c8" stroke="#15202c" stroke-width="0.9"/>
<rect x="56.10" y="319.90" width="12.10" height="2.00" fill="#ffffff" stroke="#15202c" stroke-width="0.9"/>
<rect x="68.20" y="317.60" width="12.10" height="4.30" fill="#a9c5e5" stroke="#15202c" stroke-width="0.9"/>
<rect x="80.30" y="319.80" width="12.10" height="2.10" fill="#e4e6f2" stroke="#15202c" stroke-width="0.9"/>
<rect x="92.40" y="315.40" width="12.10" height="6.50" fill="#5f9cd2" stroke="#15202c" stroke-width="0.9"/>
<rect x="104.50" y="313.20" width="12.10" height="8.70" fill="#1f72b5" stroke="#15202c" stroke-width="0.9"/>
<rect x="116.60" y="312.10" width="12.10" height="9.80" fill="#0f5d9b" stroke="#15202c" stroke-width="0.9"/>
<rect x="128.70" y="313.20" width="12.10" height="8.70" fill="#1f72b5" stroke="#15202c" stroke-width="0.9"/>
<rect x="140.80" y="312.10" width="12.10" height="9.80" fill="#0f5d9b" stroke="#15202c" stroke-width="0.9"/>
<rect x="152.90" y="312.10" width="12.10" height="9.80" fill="#0f5d9b" stroke="#15202c" stroke-width="0.9"/>
<rect x="165.00" y="312.10" width="12.10" height="9.80" fill="#0f5d9b" stroke="#15202c" stroke-width="0.9"/>
<rect x="177.10" y="314.30" width="12.10" height="7.60" fill="#3b89c8" stroke="#15202c" stroke-width="0.9"/>
<rect x="189.20" y="315.40" width="12.10" height="6.50" fill="#5f9cd2" stroke="#15202c" stroke-width="0.9"/>
<rect x="201.30" y="313.20" width="12.10" height="8.70" fill="#1f72b5" stroke="#15202c" stroke-width="0.9"/>
<rect x="213.40" y="311.00" width="12.10" height="10.90" fill="#0b4876" stroke="#15202c" stroke-width="0.9"/>
<rect x="44.00" y="335.30" width="181.50" height="2.8" fill="#707070"/>
<rect x="56.10" y="331.30" width="24.20" height="10.8" fill="#ffd700"/>
<text x="40.04" y="356.90" class="sl" transform="scale(1.22,1)">C</text>
<text x="49.96" y="356.90" class="sl" transform="scale(1.22,1)">E</text>
<text x="59.88" y="356.90" class="sl" transform="scale(1.22,1)">E</text>
<text x="69.80" y="356.90" class="sl" transform="scale(1.22,1)">C</text>
<text x="79.71" y="356.90" class="sl" transform="scale(1.22,1)">C</text>
<text x="89.63" y="356.90" class="sl" transform="scale(1.22,1)">C</text>
<text x="99.55" y="356.90" class="sl" transform="scale(1.22,1)">C</text>
<text x="109.47" y="356.90" class="sl" transform="scale(1.22,1)">C</text>
<text x="119.39" y="356.90" class="sl" transform="scale(1.22,1)">C</text>
<text x="129.30" y="356.90" class="sl" transform="scale(1.22,1)">C</text>
<text x="139.22" y="356.90" class="sl" transform="scale(1.22,1)">C</text>
<text x="149.14" y="356.90" class="sl" transform="scale(1.22,1)">C</text>
<text x="159.06" y="356.90" class="sl" transform="scale(1.22,1)">C</text>
<text x="168.98" y="356.90" class="sl" transform="scale(1.22,1)">C</text>
<text x="178.89" y="356.90" class="sl" transform="scale(1.22,1)">C</text>
<text x="40.04" y="375.90" class="sl" transform="scale(1.22,1)">P</text>
<text x="49.96" y="375.90" class="sl" transform="scale(1.22,1)">I</text>
<text x="59.88" y="375.90" class="sl" transform="scale(1.22,1)">I</text>
<text x="69.80" y="375.90" class="sl" transform="scale(1.22,1)">D</text>
<text x="79.71" y="375.90" class="sl" transform="scale(1.22,1)">N</text>
<text x="89.63" y="375.90" class="sl" transform="scale(1.22,1)">N</text>
<text x="99.55" y="375.90" class="sl" transform="scale(1.22,1)">N</text>
<text x="109.47" y="375.90" class="sl" transform="scale(1.22,1)">D</text>
<text x="119.39" y="375.90" class="sl" transform="scale(1.22,1)">N</text>
<text x="129.30" y="375.90" class="sl" transform="scale(1.22,1)">N</text>
<text x="139.22" y="375.90" class="sl" transform="scale(1.22,1)">D</text>
<text x="149.14" y="375.90" class="sl" transform="scale(1.22,1)">T</text>
<text x="159.06" y="375.90" class="sl" transform="scale(1.22,1)">T</text>
<text x="168.98" y="375.90" class="sl" transform="scale(1.22,1)">I</text>
<text x="178.89" y="375.90" class="sl" transform="scale(1.22,1)">S</text>

<text x="247" y="321.4" class="lg" font-weight="bold" textLength="63.5" lengthAdjust="spacingAndGlyphs">Legend:</text>
<rect x="247" y="337.1" width="15.4" height="14.6" fill="#ffd700"/>
<rect x="247" y="353.1" width="15.4" height="14.2" fill="#ff69b4"/>
<rect x="247" y="376.2" width="15.4" height="2.8" fill="#707070"/>
<text x="272" y="348.2" class="lt" textLength="47.7" lengthAdjust="spacingAndGlyphs">Strand</text>
<text x="272" y="364" class="lt" textLength="35" lengthAdjust="spacingAndGlyphs">Helix</text>
<text x="272" y="380.2" class="lt" textLength="27.7" lengthAdjust="spacingAndGlyphs">Coil</text>
<text x="343" y="322.3" class="lg" font-weight="bold" textLength="41.2" lengthAdjust="spacingAndGlyphs">Conf:</text>
<text x="343" y="338.3" class="lg" font-weight="bold" textLength="39.4" lengthAdjust="spacingAndGlyphs">Cart:</text>
<text x="343" y="355.2" class="lg" font-weight="bold" textLength="40.7" lengthAdjust="spacingAndGlyphs">Pred:</text>
<text x="343" y="371.5" class="lg" font-weight="bold" textLength="27.6" lengthAdjust="spacingAndGlyphs">AA:</text>
<text x="392" y="322.3" class="lt">-</text>
<text x="466" y="322.3" class="lt" textLength="188.7" lengthAdjust="spacingAndGlyphs">+ Confidence of prediction</text>
<text x="392" y="338.3" class="lt" textLength="195.4" lengthAdjust="spacingAndGlyphs">3-state assignment cartoon</text>
<text x="392" y="355.2" class="lt" textLength="124" lengthAdjust="spacingAndGlyphs">3-state prediction</text>
<text x="392" y="371.5" class="lt" textLength="122.7" lengthAdjust="spacingAndGlyphs">Target Sequence</text>
<rect x="399.40" y="324.20" width="6.62" height="1.50" fill="#ffffff" stroke="#15202c" stroke-width="0.7"/>
<rect x="406.02" y="323.40" width="6.62" height="2.30" fill="#e4e6f2" stroke="#15202c" stroke-width="0.7"/>
<rect x="412.64" y="322.10" width="6.62" height="3.60" fill="#c9d5ea" stroke="#15202c" stroke-width="0.7"/>
<rect x="419.26" y="320.80" width="6.62" height="4.90" fill="#a9c5e5" stroke="#15202c" stroke-width="0.7"/>
<rect x="425.88" y="319.50" width="6.62" height="6.20" fill="#88b3dd" stroke="#15202c" stroke-width="0.7"/>
<rect x="432.50" y="318.20" width="6.62" height="7.50" fill="#5f9cd2" stroke="#15202c" stroke-width="0.7"/>
<rect x="439.12" y="316.90" width="6.62" height="8.80" fill="#3b89c8" stroke="#15202c" stroke-width="0.7"/>
<rect x="445.74" y="315.60" width="6.62" height="10.10" fill="#1f72b5" stroke="#15202c" stroke-width="0.7"/>
<rect x="452.36" y="314.30" width="6.62" height="11.40" fill="#0f5d9b" stroke="#15202c" stroke-width="0.7"/>
<rect x="458.98" y="313.00" width="6.62" height="12.70" fill="#0b4876" stroke="#15202c" stroke-width="0.7"/>
<g>
<path d="M107.1 436.1C105.9 435.9 102.2 436.2 100.1 435.1C98.0 434.0 95.9 432.1 94.5 429.5C93.0 427.0 92.4 423.1 91.4 419.7C90.4 416.3 89.7 411.9 88.4 409.2C87.1 406.5 85.7 404.6 83.7 403.4C81.8 402.1 79.2 401.5 76.7 401.5C74.2 401.5 71.0 402.1 68.5 403.4C66.1 404.6 63.8 406.7 62.0 409.2C60.2 411.7 59.0 415.0 58.0 418.5C57.0 422.0 56.1 426.3 55.9 430.2C55.7 434.1 56.1 438.4 56.9 441.9C57.6 445.4 59.3 448.6 60.6 451.2C61.9 453.9 63.8 456.1 64.6 457.8C65.4 459.5 65.7 460.5 65.5 461.3C65.3 462.1 63.9 463.0 63.2 462.7C62.4 462.4 61.7 460.2 60.8 459.4C60.0 458.7 59.9 457.8 58.0 458.2C56.2 458.6 52.4 459.9 49.9 461.7C47.3 463.4 44.8 466.0 42.8 468.7C40.9 471.4 39.2 474.9 38.2 478.0C37.1 481.1 36.5 484.3 36.5 487.4C36.5 490.5 36.9 495.4 38.2 496.7C39.4 498.1 41.9 495.7 44.0 495.6C46.2 495.4 48.7 494.8 51.0 495.6C53.4 496.3 55.7 498.5 58.0 500.2C60.4 502.0 62.8 504.2 65.0 506.1C67.3 507.9 69.6 510.2 71.6 511.2C73.5 512.2 75.2 512.7 76.7 511.9C78.3 511.1 79.4 508.4 80.9 506.5C82.4 504.7 84.0 502.2 85.6 500.9C87.2 499.7 88.8 498.9 90.7 499.1C92.7 499.2 95.3 501.2 97.3 501.9C99.2 502.6 101.6 503.0 102.4 503.3 M110.6 439.6C110.0 440.9 108.1 444.8 107.1 447.7C106.0 450.7 103.4 455.9 104.3 457.1C105.1 458.2 110.6 453.9 112.2 454.7C113.9 455.4 113.1 459.5 114.1 461.7C115.1 463.9 116.4 466.2 118.3 468.0C120.2 469.7 123.0 470.7 125.8 472.2C128.6 473.7 133.0 475.1 135.1 476.9C137.3 478.6 138.2 480.2 138.6 482.7C139.0 485.2 138.8 489.1 137.5 492.0C136.1 495.0 132.8 497.5 130.4 500.2C128.1 502.9 125.8 505.9 123.4 508.4C121.1 510.9 118.8 513.1 116.4 515.4C114.1 517.7 111.4 519.7 109.4 522.4C107.5 525.1 105.5 528.3 104.7 531.8C104.0 535.3 104.9 540.3 104.7 543.4C104.6 546.6 104.7 548.7 103.6 550.4C102.4 552.2 100.3 553.6 97.7 553.9C95.2 554.3 90.7 554.1 88.4 552.8C86.1 551.4 84.5 548.9 83.7 545.8C82.9 542.7 84.3 537.8 83.7 534.1C83.1 530.4 82.2 526.3 80.2 523.6C78.3 520.9 74.6 518.9 72.0 517.7C69.5 516.6 67.4 516.7 65.0 516.6C62.7 516.5 60.0 516.8 58.0 517.3C56.1 517.7 53.4 518.6 53.4 519.4C53.4 520.2 56.1 521.4 58.0 521.9C60.0 522.5 62.5 522.5 65.0 522.4C67.6 522.3 71.1 521.8 73.2 521.2C75.4 520.7 77.1 519.3 77.9 518.9 M86.1 496.7C87.2 495.7 90.3 492.2 93.1 490.9C95.8 489.5 99.3 488.7 102.4 488.5C105.5 488.3 109.2 488.7 111.8 489.7C114.3 490.7 115.8 492.2 117.6 494.4C119.3 496.5 120.9 499.8 122.3 502.6C123.6 505.3 124.4 508.2 125.8 510.7C127.1 513.3 128.5 516.3 130.4 517.7C132.4 519.2 134.7 519.8 137.5 519.6C140.2 519.4 143.7 517.9 146.8 516.6C149.9 515.3 153.4 512.6 156.1 511.9C158.9 511.2 161.2 511.6 163.1 512.6C165.1 513.6 166.7 515.3 167.8 517.7C169.0 520.2 170.2 523.6 170.2 527.1C170.2 530.6 169.4 535.5 167.8 538.8C166.3 542.1 163.1 545.2 160.8 546.9C158.5 548.7 155.9 548.3 153.8 549.3C151.7 550.2 149.9 551.3 148.0 552.8C146.0 554.2 143.9 556.0 142.1 557.9C140.4 559.9 138.8 562.2 137.5 564.5C136.1 566.7 134.5 570.3 133.9 571.5 M139.8 521.2C138.6 521.8 134.3 523.0 132.8 524.7C131.2 526.5 130.4 529.2 130.4 531.8C130.4 534.3 131.2 537.6 132.8 539.9C134.3 542.3 137.1 544.4 139.8 545.8C142.5 547.1 146.4 548.5 149.1 548.1C151.9 547.7 154.6 545.7 156.1 543.4C157.7 541.2 158.5 537.3 158.5 534.6C158.5 531.8 157.7 529.1 156.1 527.1C154.6 525.1 151.9 523.4 149.1 522.4C146.4 521.4 141.3 521.4 139.8 521.2 M139.8 550.4C141.0 550.4 144.1 550.4 146.8 550.0C149.5 549.6 153.0 547.3 156.1 548.1C159.3 549.0 162.4 552.8 165.5 555.1C168.6 557.5 172.1 560.2 174.8 562.1C177.6 564.1 180.7 566.0 181.8 566.8 M163.1 566.8C163.9 568.4 165.9 573.8 167.8 576.1C169.8 578.5 172.1 580.2 174.8 580.8C177.6 581.4 181.6 580.4 184.2 579.6C186.7 578.9 189.0 576.7 190.0 576.1 M120.0 468.8C121.9 470.3 128.6 475.4 131.7 478.1C134.8 480.8 137.9 482.0 138.7 485.1C139.5 488.2 137.9 493.7 136.4 496.8C134.8 499.9 131.3 501.1 129.3 503.8C127.4 506.5 124.3 510.4 124.7 513.1C125.1 515.9 129.0 518.6 131.7 520.2C134.4 521.7 137.9 522.5 141.0 522.5C144.1 522.5 147.3 521.3 150.4 520.2C153.5 519.0 157.2 515.5 159.7 515.5C162.2 515.5 164.6 519.4 165.6 520.2 M197.1 501.5C197.9 503.0 199.8 507.7 201.8 510.8C203.7 513.9 206.0 517.8 208.8 520.2C211.5 522.5 216.6 524.0 218.1 524.8 M250.0 574.1C250.6 575.3 251.9 579.0 253.7 581.5C255.6 584.0 258.7 588.0 261.2 589.0C263.7 589.9 266.4 587.7 268.6 587.1C270.8 586.5 273.3 585.6 274.2 585.3 M140.0 557.2C141.2 556.3 145.0 553.4 147.4 552.2C149.9 551.0 152.4 549.7 154.9 549.7C157.4 549.7 159.9 551.0 162.3 552.2C164.8 553.4 167.7 555.5 169.8 557.2C171.9 558.8 173.9 561.3 174.7 562.1" stroke="#5458d8" stroke-width="2.5" fill="none" stroke-linecap="round" stroke-linejoin="round"/>
<path d="M107.1 436.1C105.9 435.9 102.2 436.2 100.1 435.1C98.0 434.0 95.9 432.1 94.5 429.5C93.0 427.0 92.4 423.1 91.4 419.7C90.4 416.3 89.7 411.9 88.4 409.2C87.1 406.5 85.7 404.6 83.7 403.4C81.8 402.1 79.2 401.5 76.7 401.5C74.2 401.5 71.0 402.1 68.5 403.4C66.1 404.6 63.8 406.7 62.0 409.2C60.2 411.7 59.0 415.0 58.0 418.5C57.0 422.0 56.1 426.3 55.9 430.2C55.7 434.1 56.1 438.4 56.9 441.9C57.6 445.4 59.3 448.6 60.6 451.2C61.9 453.9 63.8 456.1 64.6 457.8C65.4 459.5 65.7 460.5 65.5 461.3C65.3 462.1 63.9 463.0 63.2 462.7C62.4 462.4 61.7 460.2 60.8 459.4C60.0 458.7 59.9 457.8 58.0 458.2C56.2 458.6 52.4 459.9 49.9 461.7C47.3 463.4 44.8 466.0 42.8 468.7C40.9 471.4 39.2 474.9 38.2 478.0C37.1 481.1 36.5 484.3 36.5 487.4C36.5 490.5 36.9 495.4 38.2 496.7C39.4 498.1 41.9 495.7 44.0 495.6C46.2 495.4 48.7 494.8 51.0 495.6C53.4 496.3 55.7 498.5 58.0 500.2C60.4 502.0 62.8 504.2 65.0 506.1C67.3 507.9 69.6 510.2 71.6 511.2C73.5 512.2 75.2 512.7 76.7 511.9C78.3 511.1 79.4 508.4 80.9 506.5C82.4 504.7 84.0 502.2 85.6 500.9C87.2 499.7 88.8 498.9 90.7 499.1C92.7 499.2 95.3 501.2 97.3 501.9C99.2 502.6 101.6 503.0 102.4 503.3 M110.6 439.6C110.0 440.9 108.1 444.8 107.1 447.7C106.0 450.7 103.4 455.9 104.3 457.1C105.1 458.2 110.6 453.9 112.2 454.7C113.9 455.4 113.1 459.5 114.1 461.7C115.1 463.9 116.4 466.2 118.3 468.0C120.2 469.7 123.0 470.7 125.8 472.2C128.6 473.7 133.0 475.1 135.1 476.9C137.3 478.6 138.2 480.2 138.6 482.7C139.0 485.2 138.8 489.1 137.5 492.0C136.1 495.0 132.8 497.5 130.4 500.2C128.1 502.9 125.8 505.9 123.4 508.4C121.1 510.9 118.8 513.1 116.4 515.4C114.1 517.7 111.4 519.7 109.4 522.4C107.5 525.1 105.5 528.3 104.7 531.8C104.0 535.3 104.9 540.3 104.7 543.4C104.6 546.6 104.7 548.7 103.6 550.4C102.4 552.2 100.3 553.6 97.7 553.9C95.2 554.3 90.7 554.1 88.4 552.8C86.1 551.4 84.5 548.9 83.7 545.8C82.9 542.7 84.3 537.8 83.7 534.1C83.1 530.4 82.2 526.3 80.2 523.6C78.3 520.9 74.6 518.9 72.0 517.7C69.5 516.6 67.4 516.7 65.0 516.6C62.7 516.5 60.0 516.8 58.0 517.3C56.1 517.7 53.4 518.6 53.4 519.4C53.4 520.2 56.1 521.4 58.0 521.9C60.0 522.5 62.5 522.5 65.0 522.4C67.6 522.3 71.1 521.8 73.2 521.2C75.4 520.7 77.1 519.3 77.9 518.9 M86.1 496.7C87.2 495.7 90.3 492.2 93.1 490.9C95.8 489.5 99.3 488.7 102.4 488.5C105.5 488.3 109.2 488.7 111.8 489.7C114.3 490.7 115.8 492.2 117.6 494.4C119.3 496.5 120.9 499.8 122.3 502.6C123.6 505.3 124.4 508.2 125.8 510.7C127.1 513.3 128.5 516.3 130.4 517.7C132.4 519.2 134.7 519.8 137.5 519.6C140.2 519.4 143.7 517.9 146.8 516.6C149.9 515.3 153.4 512.6 156.1 511.9C158.9 511.2 161.2 511.6 163.1 512.6C165.1 513.6 166.7 515.3 167.8 517.7C169.0 520.2 170.2 523.6 170.2 527.1C170.2 530.6 169.4 535.5 167.8 538.8C166.3 542.1 163.1 545.2 160.8 546.9C158.5 548.7 155.9 548.3 153.8 549.3C151.7 550.2 149.9 551.3 148.0 552.8C146.0 554.2 143.9 556.0 142.1 557.9C140.4 559.9 138.8 562.2 137.5 564.5C136.1 566.7 134.5 570.3 133.9 571.5 M139.8 521.2C138.6 521.8 134.3 523.0 132.8 524.7C131.2 526.5 130.4 529.2 130.4 531.8C130.4 534.3 131.2 537.6 132.8 539.9C134.3 542.3 137.1 544.4 139.8 545.8C142.5 547.1 146.4 548.5 149.1 548.1C151.9 547.7 154.6 545.7 156.1 543.4C157.7 541.2 158.5 537.3 158.5 534.6C158.5 531.8 157.7 529.1 156.1 527.1C154.6 525.1 151.9 523.4 149.1 522.4C146.4 521.4 141.3 521.4 139.8 521.2 M139.8 550.4C141.0 550.4 144.1 550.4 146.8 550.0C149.5 549.6 153.0 547.3 156.1 548.1C159.3 549.0 162.4 552.8 165.5 555.1C168.6 557.5 172.1 560.2 174.8 562.1C177.6 564.1 180.7 566.0 181.8 566.8 M163.1 566.8C163.9 568.4 165.9 573.8 167.8 576.1C169.8 578.5 172.1 580.2 174.8 580.8C177.6 581.4 181.6 580.4 184.2 579.6C186.7 578.9 189.0 576.7 190.0 576.1 M120.0 468.8C121.9 470.3 128.6 475.4 131.7 478.1C134.8 480.8 137.9 482.0 138.7 485.1C139.5 488.2 137.9 493.7 136.4 496.8C134.8 499.9 131.3 501.1 129.3 503.8C127.4 506.5 124.3 510.4 124.7 513.1C125.1 515.9 129.0 518.6 131.7 520.2C134.4 521.7 137.9 522.5 141.0 522.5C144.1 522.5 147.3 521.3 150.4 520.2C153.5 519.0 157.2 515.5 159.7 515.5C162.2 515.5 164.6 519.4 165.6 520.2 M197.1 501.5C197.9 503.0 199.8 507.7 201.8 510.8C203.7 513.9 206.0 517.8 208.8 520.2C211.5 522.5 216.6 524.0 218.1 524.8 M250.0 574.1C250.6 575.3 251.9 579.0 253.7 581.5C255.6 584.0 258.7 588.0 261.2 589.0C263.7 589.9 266.4 587.7 268.6 587.1C270.8 586.5 273.3 585.6 274.2 585.3 M140.0 557.2C141.2 556.3 145.0 553.4 147.4 552.2C149.9 551.0 152.4 549.7 154.9 549.7C157.4 549.7 159.9 551.0 162.3 552.2C164.8 553.4 167.7 555.5 169.8 557.2C171.9 558.8 173.9 561.3 174.7 562.1" stroke="#aeb2f2" stroke-width="0.9" fill="none" stroke-linecap="round" stroke-linejoin="round"/>
<path d="M170.2 585.5C171.7 586.7 176.4 590.9 179.5 592.5C182.6 594.0 187.3 594.4 188.8 594.8 M137.5 422.0C137.3 419.7 135.8 411.9 136.4 408.0C136.9 404.1 139.1 400.8 141.0 398.7C143.0 396.5 145.3 396.2 148.0 395.2C150.8 394.2 154.3 393.6 157.4 392.8C160.5 392.1 163.6 391.1 166.7 390.5C169.8 389.9 174.1 388.8 176.1 389.3C178.0 389.9 178.4 391.7 178.4 394.0C178.4 396.4 177.2 399.9 176.1 403.4C175.0 406.9 172.2 412.6 171.9 415.0C171.5 417.5 172.7 417.8 174.2 417.8C175.7 417.8 179.1 415.0 180.7 415.0C182.4 415.0 184.2 416.6 184.2 417.8C184.3 419.1 182.6 422.0 181.2 422.5C179.8 423.1 177.5 422.0 176.1 421.1C174.6 420.3 173.1 418.0 172.6 417.4 M143.4 398.7C144.7 398.3 148.6 396.8 151.5 396.4C154.5 395.9 158.3 395.3 160.9 395.9C163.4 396.5 165.2 397.4 166.7 399.9C168.3 402.3 169.4 407.4 170.2 410.4C171.0 413.3 171.2 416.2 171.4 417.4 M176.1 389.3C178.0 389.1 183.5 388.6 187.7 388.2C192.0 387.8 197.7 386.8 201.8 387.0C205.8 387.2 209.9 388.1 212.3 389.3C214.6 390.6 215.6 392.8 215.8 394.5C216.0 396.1 214.4 397.5 213.4 399.2C212.5 400.8 210.7 402.3 209.9 404.5C209.2 406.8 208.8 409.8 208.8 412.7C208.8 415.6 210.3 418.9 209.9 422.0C209.5 425.2 207.6 429.1 206.4 431.4C205.3 433.7 203.9 435.9 202.9 436.1C202.0 436.3 201.4 434.5 200.6 432.6C199.8 430.6 199.2 427.3 198.3 424.4C197.3 421.5 196.1 417.8 194.7 415.0C193.4 412.3 191.8 409.6 190.1 408.0C188.3 406.5 186.2 405.8 184.2 405.7C182.3 405.6 180.1 406.4 178.4 407.6C176.6 408.7 174.5 411.8 173.7 412.7 M202.9 436.1C203.9 435.7 206.2 434.9 208.8 433.7C211.3 432.6 215.0 430.6 218.1 429.1C221.2 427.5 224.9 426.3 227.5 424.4C230.0 422.4 232.8 417.0 233.3 417.4C233.8 417.8 231.0 423.6 230.3 426.7C229.5 429.8 228.9 432.9 228.9 436.1C228.8 439.2 228.9 442.3 229.8 445.4C230.7 448.5 232.9 452.4 234.5 454.7C236.0 457.1 237.2 459.3 239.1 459.4C241.1 459.5 244.2 457.2 246.1 455.2C248.1 453.3 249.4 450.5 250.8 447.7C252.2 444.9 253.9 441.1 254.3 438.4C254.7 435.7 252.6 433.3 253.1 431.4C253.7 429.4 255.7 426.5 257.8 426.7C260.0 426.9 263.5 430.6 266.0 432.6C268.5 434.5 271.8 437.4 273.0 438.4 M130.5 454.7C131.9 454.0 135.8 452.0 138.7 450.1C141.6 448.1 144.9 445.0 148.0 443.1C151.1 441.1 155.0 438.7 157.4 438.4C159.7 438.1 160.7 439.3 162.0 441.2C163.4 443.1 164.4 446.7 165.6 450.1C166.7 453.5 167.9 458.3 169.1 461.8C170.2 465.3 171.3 470.2 172.6 471.1C173.8 472.0 175.0 468.4 176.5 466.9C178.1 465.4 180.0 462.9 181.9 462.2C183.8 461.6 186.0 462.4 187.7 462.9C189.5 463.4 191.6 464.9 192.4 465.3 M253.1 501.5C254.3 501.3 257.6 500.3 260.2 500.3C262.7 500.3 267.6 500.8 268.3 501.5C269.1 502.1 266.6 503.9 264.8 504.3C263.1 504.7 260.2 503.3 257.8 503.8C255.5 504.3 253.5 506.1 250.8 507.3C248.1 508.5 243.8 509.4 241.5 510.8C239.1 512.2 238.4 513.5 236.8 515.5C235.2 517.4 233.3 520.2 232.1 522.5C231.0 524.8 230.2 528.3 229.8 529.5 M272.3 533.1C273.6 534.4 277.3 538.1 279.8 540.6C282.3 543.0 285.4 545.5 287.2 548.0C289.1 550.5 291.0 553.6 291.0 555.5C291.0 557.3 289.7 558.9 287.2 559.2C284.8 559.5 279.8 557.9 276.1 557.3C272.3 556.7 268.0 555.6 264.9 555.5C261.8 555.3 258.1 554.5 257.4 556.4C256.8 558.2 259.6 563.4 261.2 566.6C262.7 569.9 264.9 572.8 266.8 575.9C268.6 579.0 270.5 582.8 272.3 585.3C274.2 587.7 275.5 589.3 277.9 590.8C280.4 592.4 284.5 594.6 287.2 594.6C290.0 594.6 292.5 593.0 294.7 590.8C296.9 588.7 298.7 584.9 300.3 581.5C301.8 578.1 303.1 572.8 304.0 570.4C304.9 567.9 306.0 568.2 305.9 566.6C305.7 565.1 303.7 563.5 303.1 561.0C302.5 558.6 302.0 555.1 302.1 551.7C302.3 548.3 302.8 543.4 304.0 540.6C305.2 537.8 306.8 536.2 309.6 535.0C312.4 533.7 317.0 533.7 320.8 533.1C324.5 532.5 328.5 532.5 331.9 531.2C335.4 530.0 338.8 527.8 341.2 525.7C343.7 523.5 345.6 520.7 346.8 518.2C348.1 515.7 348.4 512.0 348.7 510.8 M292.8 477.2C294.4 476.3 299.3 473.5 302.1 471.7C304.9 469.8 307.4 467.3 309.6 466.1C311.8 464.8 313.6 463.3 315.2 464.2C316.7 465.1 318.0 469.2 318.9 471.7C319.8 474.1 319.8 476.9 320.8 479.1C321.7 481.3 322.9 482.5 324.5 484.7C326.0 486.9 328.2 489.7 330.1 492.1C331.9 494.6 333.8 497.7 335.7 499.6C337.5 501.5 339.4 503.0 341.2 503.3C343.1 503.6 345.4 502.1 346.8 501.5C348.3 500.8 349.5 499.9 350.0 499.6 M302.1 507.0C302.8 508.0 303.7 511.1 305.9 512.6C308.0 514.2 311.5 515.4 315.2 516.4C318.9 517.3 324.2 518.2 328.2 518.2C332.2 518.2 336.9 517.6 339.4 516.4C341.9 515.1 342.8 512.9 343.1 510.8C343.4 508.6 342.2 505.8 341.2 503.3C340.3 500.8 338.5 498.7 337.5 495.9C336.6 493.1 335.7 488.7 335.7 486.6C335.7 484.4 336.0 483.5 337.5 482.8C339.1 482.2 342.9 482.5 345.0 482.8C347.1 483.1 349.2 484.4 350.0 484.7 M331.9 458.6C333.2 459.2 337.2 460.8 339.4 462.3C341.6 463.9 343.2 466.7 345.0 467.9C346.7 469.2 349.2 469.5 350.0 469.8 M250.0 503.3C251.6 503.2 256.5 502.7 259.3 502.4C262.1 502.1 265.2 501.3 266.8 501.5C268.3 501.6 269.2 502.8 268.6 503.3C268.0 503.8 265.2 504.5 263.0 504.6C260.9 504.8 256.8 504.3 255.6 504.2 M253.2 419.0C254.0 417.7 255.6 413.1 258.0 411.4C260.3 409.6 264.3 408.7 267.4 408.5C270.6 408.4 274.2 408.7 276.9 410.4C279.6 412.2 282.2 415.7 283.6 419.0C285.0 422.3 285.6 426.9 285.5 430.4C285.3 433.8 284.1 437.3 282.6 439.9C281.2 442.4 278.8 444.5 276.9 445.5C275.0 446.6 273.1 445.5 271.2 445.9C269.3 446.3 266.5 447.5 265.5 447.8 M253.2 419.0C253.4 419.9 253.1 422.8 254.2 424.7C255.3 426.6 257.6 428.8 259.9 430.4C262.1 431.9 265.2 432.9 267.4 434.2C269.7 435.4 271.6 436.5 273.1 438.0C274.7 439.4 276.3 441.9 276.9 442.7 M220.0 422.8C221.3 422.5 225.2 421.7 227.6 420.9C230.0 420.1 233.6 417.4 234.2 418.0C234.9 418.7 232.2 422.0 231.4 424.7C230.6 427.4 229.5 431.0 229.5 434.2C229.5 437.3 230.4 440.5 231.4 443.7C232.3 446.8 233.9 450.6 235.2 453.1C236.4 455.7 237.7 457.7 239.0 458.8C240.2 459.9 242.1 459.6 242.8 459.8 M234.2 418.0C234.7 419.8 236.3 425.1 237.1 428.5C237.9 431.8 237.7 436.4 239.0 438.0C240.2 439.5 242.5 438.6 244.7 438.0C246.9 437.3 250.0 435.4 252.3 434.2C254.5 432.9 257.0 431.0 258.0 430.4 M301.6 494.9C301.9 496.8 301.9 503.1 303.5 506.3C305.1 509.4 307.9 512.0 311.1 513.9C314.3 515.8 318.7 517.0 322.5 517.7C326.3 518.3 330.7 518.3 333.9 517.7C337.0 517.0 338.8 514.8 341.5 513.9C344.2 512.9 348.6 512.3 350.0 512.0 M258.0 506.3C259.5 505.6 266.3 502.7 267.4 502.5C268.6 502.3 266.0 504.3 264.6 505.0C263.2 505.6 259.9 506.1 258.9 506.3 M239.0 510.1C237.7 511.3 233.6 515.1 231.4 517.7C229.2 520.2 227.6 523.4 225.7 525.3C223.8 527.2 220.9 528.4 220.0 529.1 M214.5 622.9C212.8 624.0 207.4 626.4 204.5 629.1C201.6 631.8 199.2 635.8 197.1 639.1C195.0 642.4 192.7 646.3 192.1 649.0C191.5 651.7 191.3 654.2 193.4 655.2C195.4 656.2 200.2 655.4 204.5 655.2C208.9 655.0 214.5 654.4 219.4 654.0C224.4 653.5 230.2 653.1 234.3 652.7C238.5 652.3 242.0 652.9 244.2 651.5C246.5 650.0 247.6 647.8 248.0 644.0C248.4 640.3 247.3 633.7 246.7 629.1C246.1 624.6 245.1 620.0 244.2 616.7C243.4 613.4 242.2 610.5 241.8 609.3 M214.5 622.9C216.5 621.5 222.3 616.7 226.9 614.2C231.4 611.8 237.2 610.9 241.8 608.0C246.3 605.1 250.4 600.0 254.2 596.9C257.9 593.8 261.2 591.5 264.1 589.4C267.0 587.4 270.3 585.3 271.5 584.5 M158.6 621.7C160.5 620.9 165.4 618.4 169.8 616.7C174.1 615.1 180.1 613.4 184.7 611.8C189.2 610.1 193.6 608.9 197.1 606.8C200.6 604.7 203.9 601.8 205.8 599.4C207.6 596.9 208.5 594.4 208.3 591.9C208.0 589.4 206.4 586.1 204.5 584.5C202.7 582.8 200.0 582.6 197.1 582.0C194.2 581.4 190.5 580.7 187.2 580.7C183.8 580.7 180.1 582.2 177.2 582.0C174.3 581.8 171.9 581.2 169.8 579.5C167.7 577.8 165.9 574.1 164.8 572.1C163.8 570.0 162.8 568.7 163.6 567.1C164.4 565.4 167.1 563.8 169.8 562.1C172.5 560.5 176.4 558.6 179.7 557.2C183.0 555.7 186.3 554.1 189.6 553.4C192.9 552.8 196.3 553.2 199.6 553.4C202.9 553.6 206.2 554.9 209.5 554.7C212.8 554.5 217.4 553.8 219.4 552.2C221.5 550.5 221.9 547.2 221.9 544.7C221.9 542.3 221.1 539.6 219.4 537.3C217.8 535.0 214.9 532.5 212.0 531.1C209.1 529.6 205.4 528.8 202.1 528.6C198.7 528.4 194.6 528.8 192.1 529.9C189.6 530.9 188.4 532.8 187.2 534.8C185.9 536.9 185.5 539.4 184.7 542.3C183.8 545.2 183.4 549.3 182.2 552.2C181.0 555.1 178.9 557.6 177.2 559.6C175.6 561.7 173.1 563.8 172.3 564.6 M212.0 589.4C213.6 588.6 218.2 584.9 221.9 584.5C225.6 584.0 231.6 586.1 234.3 586.9C237.0 587.8 238.5 588.6 238.0 589.4C237.6 590.3 234.5 591.5 231.8 591.9C229.1 592.3 224.8 592.1 221.9 591.9C219.0 591.7 215.7 590.9 214.5 590.7 M214.5 577.0C216.5 576.0 222.7 572.3 226.9 570.8C231.0 569.4 236.0 568.1 239.3 568.3C242.6 568.5 244.7 569.8 246.7 572.1C248.8 574.3 250.4 578.7 251.7 582.0C252.9 585.3 254.0 589.0 254.2 591.9C254.4 594.8 253.1 598.1 252.9 599.4 M140.0 519.9C141.7 519.1 146.6 515.6 149.9 515.0C153.2 514.3 157.0 515.0 159.9 516.2C162.8 517.4 165.9 519.7 167.3 522.4C168.7 525.1 169.0 529.0 168.5 532.3C168.1 535.6 166.7 539.8 164.8 542.3C163.0 544.7 159.9 546.0 157.4 547.2C154.9 548.5 152.8 549.7 149.9 549.7C147.0 549.7 141.7 547.6 140.0 547.2 M199.6 510.0C200.4 511.2 202.5 515.0 204.5 517.4C206.6 519.9 209.5 522.4 212.0 524.9C214.5 527.4 217.8 529.4 219.4 532.3C221.1 535.2 221.5 540.6 221.9 542.3 M234.3 510.0C234.1 512.1 233.1 518.3 233.1 522.4C233.1 526.5 233.3 530.7 234.3 534.8C235.4 539.0 238.0 544.1 239.3 547.2C240.5 550.3 241.8 553.8 241.8 553.4C241.8 553.0 239.9 548.3 239.3 544.7C238.7 541.2 237.6 535.6 238.0 532.3C238.5 529.0 240.7 527.4 241.8 524.9C242.8 522.4 243.8 518.7 244.2 517.4 M259.1 554.7C260.8 554.9 265.8 555.3 269.1 555.9C272.4 556.5 275.7 557.8 279.0 558.4C282.3 559.0 286.4 560.3 288.9 559.6C291.4 559.0 293.5 556.7 293.9 554.7C294.3 552.6 293.1 549.3 291.4 547.2C289.7 545.2 286.4 543.9 284.0 542.3C281.5 540.6 277.8 538.1 276.5 537.3 M259.1 554.7C259.5 556.3 260.4 561.3 261.6 564.6C262.9 567.9 264.9 571.2 266.6 574.5C268.2 577.8 269.5 581.6 271.5 584.5C273.6 587.4 276.1 590.0 279.0 591.9C281.9 593.8 286.0 596.0 288.9 595.6C291.8 595.2 294.3 592.1 296.4 589.4C298.4 586.7 299.9 583.2 301.3 579.5C302.8 575.8 304.4 572.1 305.1 567.1C305.7 562.1 305.3 554.3 305.1 549.7C304.8 545.2 303.4 542.3 303.8 539.8C304.2 537.3 306.9 535.6 307.5 534.8 M196.4 501.9C196.7 503.2 197.2 507.2 198.2 509.8C199.2 512.4 200.7 515.2 202.6 517.7C204.5 520.1 207.2 522.9 209.6 524.7C211.9 526.4 213.9 527.7 216.6 528.2C219.2 528.7 222.6 528.0 225.3 527.7C228.1 527.3 231.3 527.6 233.2 525.9C235.1 524.2 235.3 520.5 236.7 517.7C238.2 514.8 239.8 511.2 242.0 508.9C244.2 506.6 247.1 504.7 249.9 503.7C252.6 502.6 255.8 502.7 258.6 502.4C261.4 502.1 265.2 502.0 266.5 501.9 M233.2 525.9C233.3 527.6 233.2 532.6 233.7 536.1C234.3 539.5 235.5 543.7 236.7 546.6C237.9 549.5 240.0 553.4 241.1 553.6C242.2 553.7 243.1 550.1 243.2 547.4C243.3 544.8 242.2 540.6 241.5 537.8C240.7 535.0 239.6 532.6 238.5 530.8C237.3 529.0 235.1 527.6 234.4 527.0 M192.0 527.3C193.5 527.2 197.9 526.4 200.8 526.4C203.7 526.4 206.9 526.6 209.6 527.3C212.2 528.0 214.7 529.1 216.6 530.8C218.5 532.6 220.1 535.3 221.0 537.8C221.8 540.3 221.9 543.4 221.5 545.7C221.0 548.0 220.3 550.5 218.3 551.8C216.3 553.2 212.8 553.5 209.6 553.9C206.4 554.3 202.0 554.9 199.1 554.3C196.1 553.6 193.5 552.1 191.7 550.1C189.9 548.1 188.7 545.0 188.2 542.2C187.7 539.4 187.9 535.9 188.5 533.4C189.2 531.0 191.5 528.3 192.0 527.3 M190.6 530.8C189.9 532.6 187.3 538.0 185.9 541.3C184.5 544.7 183.7 548.0 182.4 551.0C181.1 553.9 179.8 556.9 178.0 559.2C176.3 561.4 174.2 563.0 171.9 564.4C169.6 565.9 166.0 566.5 164.4 567.9C162.8 569.4 162.0 571.2 162.3 573.2C162.5 575.2 164.0 578.2 165.8 579.9C167.5 581.6 170.1 583.1 172.8 583.4C175.4 583.7 178.6 582.4 181.5 581.6C184.5 580.8 187.1 579.3 190.3 578.5C193.5 577.6 197.3 576.8 200.8 576.4C204.3 575.9 207.8 575.6 211.3 575.7C214.8 575.7 218.4 575.9 221.8 576.7C225.3 577.5 229.4 578.8 232.0 580.2C234.6 581.7 237.0 583.7 237.6 585.5C238.2 587.2 237.6 589.6 235.8 590.7C234.1 591.9 230.2 592.5 227.1 592.5C223.9 592.4 219.4 591.5 216.9 590.4C214.5 589.2 212.7 587.2 212.4 585.5C212.1 583.8 214.7 581.1 215.2 580.2 M190.6 553.6C191.5 554.2 193.9 556.0 195.9 557.4C197.9 558.9 200.5 560.7 202.6 562.3C204.6 564.0 205.8 566.7 208.2 567.2C210.5 567.8 213.7 566.3 216.6 565.8C219.4 565.4 222.4 564.4 225.3 564.4C228.3 564.4 230.9 564.7 234.1 565.8C237.3 567.0 241.7 569.1 244.6 571.1C247.5 573.1 249.9 575.8 251.6 578.1C253.4 580.4 253.9 582.5 255.1 585.1C256.3 587.7 257.5 591.4 258.6 593.9C259.8 596.4 261.5 599.0 262.1 600.0 M332.3 459.6C333.5 460.3 337.0 462.0 339.7 463.6C342.4 465.2 345.7 467.2 348.4 469.2C351.1 471.1 353.8 473.1 355.9 475.4C357.9 477.6 359.8 480.2 360.8 482.8C361.9 485.4 362.3 488.3 362.1 490.9C361.9 493.5 360.8 497.1 359.6 498.3C358.3 499.6 356.7 498.3 354.6 498.6C352.5 498.8 349.6 499.2 347.2 499.8C344.7 500.4 342.0 501.5 339.7 502.1C337.4 502.6 335.4 503.3 333.5 503.3C331.6 503.3 329.4 502.3 328.5 502.1 M332.3 459.6C332.9 460.5 334.8 462.7 336.0 464.8C337.2 466.9 339.2 469.8 339.7 472.3C340.2 474.8 339.6 477.2 339.1 479.7C338.6 482.2 337.4 485.1 336.6 487.2C335.8 489.2 334.4 492.1 334.1 492.1C333.8 492.1 334.2 488.7 334.8 487.2C335.3 485.6 335.8 483.8 337.2 482.8C338.7 481.9 341.4 481.6 343.4 481.6C345.5 481.6 348.0 481.9 349.6 482.8C351.3 483.8 352.5 485.2 353.4 487.2C354.2 489.1 354.4 492.1 354.6 494.6C354.8 497.1 355.0 499.6 354.6 502.1C354.2 504.5 353.0 507.0 352.1 509.5C351.3 512.0 350.5 514.3 349.6 517.0C348.8 519.6 348.0 522.5 347.2 525.6C346.3 528.7 344.6 534.5 344.7 535.6C344.8 536.6 346.8 533.7 347.8 531.8C348.8 530.0 349.7 527.3 350.9 524.4C352.0 521.5 353.5 517.6 354.6 514.5C355.7 511.4 357.1 508.3 357.7 505.8C358.3 503.3 358.2 500.6 358.3 499.6 M303.7 494.6C303.9 495.9 304.1 499.6 305.0 502.1C305.8 504.5 307.0 507.4 308.7 509.5C310.3 511.6 312.6 513.1 314.9 514.5C317.2 515.8 319.7 517.0 322.3 517.6C325.0 518.2 328.3 518.5 331.0 518.2C333.7 517.9 336.6 517.2 338.5 515.7C340.3 514.3 341.4 511.4 342.2 509.5C343.0 507.6 343.2 505.4 343.4 504.5 M300.0 539.3C300.8 538.7 302.9 536.4 305.0 535.6C307.0 534.7 309.5 534.7 312.4 534.3C315.3 533.9 319.2 533.7 322.3 533.1C325.4 532.5 328.5 531.6 331.0 530.6C333.5 529.6 335.4 528.3 337.2 526.9C339.1 525.4 340.8 523.6 342.2 521.9C343.6 520.3 344.7 518.6 345.9 517.0C347.2 515.3 348.4 513.6 349.6 512.0C350.9 510.3 352.1 508.9 353.4 507.0C354.6 505.2 356.5 501.9 357.1 500.8" stroke="#3034cc" stroke-width="2.6" fill="none" stroke-linecap="round" stroke-linejoin="round"/>
<path d="M170.2 585.5C171.7 586.7 176.4 590.9 179.5 592.5C182.6 594.0 187.3 594.4 188.8 594.8 M137.5 422.0C137.3 419.7 135.8 411.9 136.4 408.0C136.9 404.1 139.1 400.8 141.0 398.7C143.0 396.5 145.3 396.2 148.0 395.2C150.8 394.2 154.3 393.6 157.4 392.8C160.5 392.1 163.6 391.1 166.7 390.5C169.8 389.9 174.1 388.8 176.1 389.3C178.0 389.9 178.4 391.7 178.4 394.0C178.4 396.4 177.2 399.9 176.1 403.4C175.0 406.9 172.2 412.6 171.9 415.0C171.5 417.5 172.7 417.8 174.2 417.8C175.7 417.8 179.1 415.0 180.7 415.0C182.4 415.0 184.2 416.6 184.2 417.8C184.3 419.1 182.6 422.0 181.2 422.5C179.8 423.1 177.5 422.0 176.1 421.1C174.6 420.3 173.1 418.0 172.6 417.4 M143.4 398.7C144.7 398.3 148.6 396.8 151.5 396.4C154.5 395.9 158.3 395.3 160.9 395.9C163.4 396.5 165.2 397.4 166.7 399.9C168.3 402.3 169.4 407.4 170.2 410.4C171.0 413.3 171.2 416.2 171.4 417.4 M176.1 389.3C178.0 389.1 183.5 388.6 187.7 388.2C192.0 387.8 197.7 386.8 201.8 387.0C205.8 387.2 209.9 388.1 212.3 389.3C214.6 390.6 215.6 392.8 215.8 394.5C216.0 396.1 214.4 397.5 213.4 399.2C212.5 400.8 210.7 402.3 209.9 404.5C209.2 406.8 208.8 409.8 208.8 412.7C208.8 415.6 210.3 418.9 209.9 422.0C209.5 425.2 207.6 429.1 206.4 431.4C205.3 433.7 203.9 435.9 202.9 436.1C202.0 436.3 201.4 434.5 200.6 432.6C199.8 430.6 199.2 427.3 198.3 424.4C197.3 421.5 196.1 417.8 194.7 415.0C193.4 412.3 191.8 409.6 190.1 408.0C188.3 406.5 186.2 405.8 184.2 405.7C182.3 405.6 180.1 406.4 178.4 407.6C176.6 408.7 174.5 411.8 173.7 412.7 M202.9 436.1C203.9 435.7 206.2 434.9 208.8 433.7C211.3 432.6 215.0 430.6 218.1 429.1C221.2 427.5 224.9 426.3 227.5 424.4C230.0 422.4 232.8 417.0 233.3 417.4C233.8 417.8 231.0 423.6 230.3 426.7C229.5 429.8 228.9 432.9 228.9 436.1C228.8 439.2 228.9 442.3 229.8 445.4C230.7 448.5 232.9 452.4 234.5 454.7C236.0 457.1 237.2 459.3 239.1 459.4C241.1 459.5 244.2 457.2 246.1 455.2C248.1 453.3 249.4 450.5 250.8 447.7C252.2 444.9 253.9 441.1 254.3 438.4C254.7 435.7 252.6 433.3 253.1 431.4C253.7 429.4 255.7 426.5 257.8 426.7C260.0 426.9 263.5 430.6 266.0 432.6C268.5 434.5 271.8 437.4 273.0 438.4 M130.5 454.7C131.9 454.0 135.8 452.0 138.7 450.1C141.6 448.1 144.9 445.0 148.0 443.1C151.1 441.1 155.0 438.7 157.4 438.4C159.7 438.1 160.7 439.3 162.0 441.2C163.4 443.1 164.4 446.7 165.6 450.1C166.7 453.5 167.9 458.3 169.1 461.8C170.2 465.3 171.3 470.2 172.6 471.1C173.8 472.0 175.0 468.4 176.5 466.9C178.1 465.4 180.0 462.9 181.9 462.2C183.8 461.6 186.0 462.4 187.7 462.9C189.5 463.4 191.6 464.9 192.4 465.3 M253.1 501.5C254.3 501.3 257.6 500.3 260.2 500.3C262.7 500.3 267.6 500.8 268.3 501.5C269.1 502.1 266.6 503.9 264.8 504.3C263.1 504.7 260.2 503.3 257.8 503.8C255.5 504.3 253.5 506.1 250.8 507.3C248.1 508.5 243.8 509.4 241.5 510.8C239.1 512.2 238.4 513.5 236.8 515.5C235.2 517.4 233.3 520.2 232.1 522.5C231.0 524.8 230.2 528.3 229.8 529.5 M272.3 533.1C273.6 534.4 277.3 538.1 279.8 540.6C282.3 543.0 285.4 545.5 287.2 548.0C289.1 550.5 291.0 553.6 291.0 555.5C291.0 557.3 289.7 558.9 287.2 559.2C284.8 559.5 279.8 557.9 276.1 557.3C272.3 556.7 268.0 555.6 264.9 555.5C261.8 555.3 258.1 554.5 257.4 556.4C256.8 558.2 259.6 563.4 261.2 566.6C262.7 569.9 264.9 572.8 266.8 575.9C268.6 579.0 270.5 582.8 272.3 585.3C274.2 587.7 275.5 589.3 277.9 590.8C280.4 592.4 284.5 594.6 287.2 594.6C290.0 594.6 292.5 593.0 294.7 590.8C296.9 588.7 298.7 584.9 300.3 581.5C301.8 578.1 303.1 572.8 304.0 570.4C304.9 567.9 306.0 568.2 305.9 566.6C305.7 565.1 303.7 563.5 303.1 561.0C302.5 558.6 302.0 555.1 302.1 551.7C302.3 548.3 302.8 543.4 304.0 540.6C305.2 537.8 306.8 536.2 309.6 535.0C312.4 533.7 317.0 533.7 320.8 533.1C324.5 532.5 328.5 532.5 331.9 531.2C335.4 530.0 338.8 527.8 341.2 525.7C343.7 523.5 345.6 520.7 346.8 518.2C348.1 515.7 348.4 512.0 348.7 510.8 M292.8 477.2C294.4 476.3 299.3 473.5 302.1 471.7C304.9 469.8 307.4 467.3 309.6 466.1C311.8 464.8 313.6 463.3 315.2 464.2C316.7 465.1 318.0 469.2 318.9 471.7C319.8 474.1 319.8 476.9 320.8 479.1C321.7 481.3 322.9 482.5 324.5 484.7C326.0 486.9 328.2 489.7 330.1 492.1C331.9 494.6 333.8 497.7 335.7 499.6C337.5 501.5 339.4 503.0 341.2 503.3C343.1 503.6 345.4 502.1 346.8 501.5C348.3 500.8 349.5 499.9 350.0 499.6 M302.1 507.0C302.8 508.0 303.7 511.1 305.9 512.6C308.0 514.2 311.5 515.4 315.2 516.4C318.9 517.3 324.2 518.2 328.2 518.2C332.2 518.2 336.9 517.6 339.4 516.4C341.9 515.1 342.8 512.9 343.1 510.8C343.4 508.6 342.2 505.8 341.2 503.3C340.3 500.8 338.5 498.7 337.5 495.9C336.6 493.1 335.7 488.7 335.7 486.6C335.7 484.4 336.0 483.5 337.5 482.8C339.1 482.2 342.9 482.5 345.0 482.8C347.1 483.1 349.2 484.4 350.0 484.7 M331.9 458.6C333.2 459.2 337.2 460.8 339.4 462.3C341.6 463.9 343.2 466.7 345.0 467.9C346.7 469.2 349.2 469.5 350.0 469.8 M250.0 503.3C251.6 503.2 256.5 502.7 259.3 502.4C262.1 502.1 265.2 501.3 266.8 501.5C268.3 501.6 269.2 502.8 268.6 503.3C268.0 503.8 265.2 504.5 263.0 504.6C260.9 504.8 256.8 504.3 255.6 504.2 M253.2 419.0C254.0 417.7 255.6 413.1 258.0 411.4C260.3 409.6 264.3 408.7 267.4 408.5C270.6 408.4 274.2 408.7 276.9 410.4C279.6 412.2 282.2 415.7 283.6 419.0C285.0 422.3 285.6 426.9 285.5 430.4C285.3 433.8 284.1 437.3 282.6 439.9C281.2 442.4 278.8 444.5 276.9 445.5C275.0 446.6 273.1 445.5 271.2 445.9C269.3 446.3 266.5 447.5 265.5 447.8 M253.2 419.0C253.4 419.9 253.1 422.8 254.2 424.7C255.3 426.6 257.6 428.8 259.9 430.4C262.1 431.9 265.2 432.9 267.4 434.2C269.7 435.4 271.6 436.5 273.1 438.0C274.7 439.4 276.3 441.9 276.9 442.7 M220.0 422.8C221.3 422.5 225.2 421.7 227.6 420.9C230.0 420.1 233.6 417.4 234.2 418.0C234.9 418.7 232.2 422.0 231.4 424.7C230.6 427.4 229.5 431.0 229.5 434.2C229.5 437.3 230.4 440.5 231.4 443.7C232.3 446.8 233.9 450.6 235.2 453.1C236.4 455.7 237.7 457.7 239.0 458.8C240.2 459.9 242.1 459.6 242.8 459.8 M234.2 418.0C234.7 419.8 236.3 425.1 237.1 428.5C237.9 431.8 237.7 436.4 239.0 438.0C240.2 439.5 242.5 438.6 244.7 438.0C246.9 437.3 250.0 435.4 252.3 434.2C254.5 432.9 257.0 431.0 258.0 430.4 M301.6 494.9C301.9 496.8 301.9 503.1 303.5 506.3C305.1 509.4 307.9 512.0 311.1 513.9C314.3 515.8 318.7 517.0 322.5 517.7C326.3 518.3 330.7 518.3 333.9 517.7C337.0 517.0 338.8 514.8 341.5 513.9C344.2 512.9 348.6 512.3 350.0 512.0 M258.0 506.3C259.5 505.6 266.3 502.7 267.4 502.5C268.6 502.3 266.0 504.3 264.6 505.0C263.2 505.6 259.9 506.1 258.9 506.3 M239.0 510.1C237.7 511.3 233.6 515.1 231.4 517.7C229.2 520.2 227.6 523.4 225.7 525.3C223.8 527.2 220.9 528.4 220.0 529.1 M214.5 622.9C212.8 624.0 207.4 626.4 204.5 629.1C201.6 631.8 199.2 635.8 197.1 639.1C195.0 642.4 192.7 646.3 192.1 649.0C191.5 651.7 191.3 654.2 193.4 655.2C195.4 656.2 200.2 655.4 204.5 655.2C208.9 655.0 214.5 654.4 219.4 654.0C224.4 653.5 230.2 653.1 234.3 652.7C238.5 652.3 242.0 652.9 244.2 651.5C246.5 650.0 247.6 647.8 248.0 644.0C248.4 640.3 247.3 633.7 246.7 629.1C246.1 624.6 245.1 620.0 244.2 616.7C243.4 613.4 242.2 610.5 241.8 609.3 M214.5 622.9C216.5 621.5 222.3 616.7 226.9 614.2C231.4 611.8 237.2 610.9 241.8 608.0C246.3 605.1 250.4 600.0 254.2 596.9C257.9 593.8 261.2 591.5 264.1 589.4C267.0 587.4 270.3 585.3 271.5 584.5 M158.6 621.7C160.5 620.9 165.4 618.4 169.8 616.7C174.1 615.1 180.1 613.4 184.7 611.8C189.2 610.1 193.6 608.9 197.1 606.8C200.6 604.7 203.9 601.8 205.8 599.4C207.6 596.9 208.5 594.4 208.3 591.9C208.0 589.4 206.4 586.1 204.5 584.5C202.7 582.8 200.0 582.6 197.1 582.0C194.2 581.4 190.5 580.7 187.2 580.7C183.8 580.7 180.1 582.2 177.2 582.0C174.3 581.8 171.9 581.2 169.8 579.5C167.7 577.8 165.9 574.1 164.8 572.1C163.8 570.0 162.8 568.7 163.6 567.1C164.4 565.4 167.1 563.8 169.8 562.1C172.5 560.5 176.4 558.6 179.7 557.2C183.0 555.7 186.3 554.1 189.6 553.4C192.9 552.8 196.3 553.2 199.6 553.4C202.9 553.6 206.2 554.9 209.5 554.7C212.8 554.5 217.4 553.8 219.4 552.2C221.5 550.5 221.9 547.2 221.9 544.7C221.9 542.3 221.1 539.6 219.4 537.3C217.8 535.0 214.9 532.5 212.0 531.1C209.1 529.6 205.4 528.8 202.1 528.6C198.7 528.4 194.6 528.8 192.1 529.9C189.6 530.9 188.4 532.8 187.2 534.8C185.9 536.9 185.5 539.4 184.7 542.3C183.8 545.2 183.4 549.3 182.2 552.2C181.0 555.1 178.9 557.6 177.2 559.6C175.6 561.7 173.1 563.8 172.3 564.6 M212.0 589.4C213.6 588.6 218.2 584.9 221.9 584.5C225.6 584.0 231.6 586.1 234.3 586.9C237.0 587.8 238.5 588.6 238.0 589.4C237.6 590.3 234.5 591.5 231.8 591.9C229.1 592.3 224.8 592.1 221.9 591.9C219.0 591.7 215.7 590.9 214.5 590.7 M214.5 577.0C216.5 576.0 222.7 572.3 226.9 570.8C231.0 569.4 236.0 568.1 239.3 568.3C242.6 568.5 244.7 569.8 246.7 572.1C248.8 574.3 250.4 578.7 251.7 582.0C252.9 585.3 254.0 589.0 254.2 591.9C254.4 594.8 253.1 598.1 252.9 599.4 M140.0 519.9C141.7 519.1 146.6 515.6 149.9 515.0C153.2 514.3 157.0 515.0 159.9 516.2C162.8 517.4 165.9 519.7 167.3 522.4C168.7 525.1 169.0 529.0 168.5 532.3C168.1 535.6 166.7 539.8 164.8 542.3C163.0 544.7 159.9 546.0 157.4 547.2C154.9 548.5 152.8 549.7 149.9 549.7C147.0 549.7 141.7 547.6 140.0 547.2 M199.6 510.0C200.4 511.2 202.5 515.0 204.5 517.4C206.6 519.9 209.5 522.4 212.0 524.9C214.5 527.4 217.8 529.4 219.4 532.3C221.1 535.2 221.5 540.6 221.9 542.3 M234.3 510.0C234.1 512.1 233.1 518.3 233.1 522.4C233.1 526.5 233.3 530.7 234.3 534.8C235.4 539.0 238.0 544.1 239.3 547.2C240.5 550.3 241.8 553.8 241.8 553.4C241.8 553.0 239.9 548.3 239.3 544.7C238.7 541.2 237.6 535.6 238.0 532.3C238.5 529.0 240.7 527.4 241.8 524.9C242.8 522.4 243.8 518.7 244.2 517.4 M259.1 554.7C260.8 554.9 265.8 555.3 269.1 555.9C272.4 556.5 275.7 557.8 279.0 558.4C282.3 559.0 286.4 560.3 288.9 559.6C291.4 559.0 293.5 556.7 293.9 554.7C294.3 552.6 293.1 549.3 291.4 547.2C289.7 545.2 286.4 543.9 284.0 542.3C281.5 540.6 277.8 538.1 276.5 537.3 M259.1 554.7C259.5 556.3 260.4 561.3 261.6 564.6C262.9 567.9 264.9 571.2 266.6 574.5C268.2 577.8 269.5 581.6 271.5 584.5C273.6 587.4 276.1 590.0 279.0 591.9C281.9 593.8 286.0 596.0 288.9 595.6C291.8 595.2 294.3 592.1 296.4 589.4C298.4 586.7 299.9 583.2 301.3 579.5C302.8 575.8 304.4 572.1 305.1 567.1C305.7 562.1 305.3 554.3 305.1 549.7C304.8 545.2 303.4 542.3 303.8 539.8C304.2 537.3 306.9 535.6 307.5 534.8 M196.4 501.9C196.7 503.2 197.2 507.2 198.2 509.8C199.2 512.4 200.7 515.2 202.6 517.7C204.5 520.1 207.2 522.9 209.6 524.7C211.9 526.4 213.9 527.7 216.6 528.2C219.2 528.7 222.6 528.0 225.3 527.7C228.1 527.3 231.3 527.6 233.2 525.9C235.1 524.2 235.3 520.5 236.7 517.7C238.2 514.8 239.8 511.2 242.0 508.9C244.2 506.6 247.1 504.7 249.9 503.7C252.6 502.6 255.8 502.7 258.6 502.4C261.4 502.1 265.2 502.0 266.5 501.9 M233.2 525.9C233.3 527.6 233.2 532.6 233.7 536.1C234.3 539.5 235.5 543.7 236.7 546.6C237.9 549.5 240.0 553.4 241.1 553.6C242.2 553.7 243.1 550.1 243.2 547.4C243.3 544.8 242.2 540.6 241.5 537.8C240.7 535.0 239.6 532.6 238.5 530.8C237.3 529.0 235.1 527.6 234.4 527.0 M192.0 527.3C193.5 527.2 197.9 526.4 200.8 526.4C203.7 526.4 206.9 526.6 209.6 527.3C212.2 528.0 214.7 529.1 216.6 530.8C218.5 532.6 220.1 535.3 221.0 537.8C221.8 540.3 221.9 543.4 221.5 545.7C221.0 548.0 220.3 550.5 218.3 551.8C216.3 553.2 212.8 553.5 209.6 553.9C206.4 554.3 202.0 554.9 199.1 554.3C196.1 553.6 193.5 552.1 191.7 550.1C189.9 548.1 188.7 545.0 188.2 542.2C187.7 539.4 187.9 535.9 188.5 533.4C189.2 531.0 191.5 528.3 192.0 527.3 M190.6 530.8C189.9 532.6 187.3 538.0 185.9 541.3C184.5 544.7 183.7 548.0 182.4 551.0C181.1 553.9 179.8 556.9 178.0 559.2C176.3 561.4 174.2 563.0 171.9 564.4C169.6 565.9 166.0 566.5 164.4 567.9C162.8 569.4 162.0 571.2 162.3 573.2C162.5 575.2 164.0 578.2 165.8 579.9C167.5 581.6 170.1 583.1 172.8 583.4C175.4 583.7 178.6 582.4 181.5 581.6C184.5 580.8 187.1 579.3 190.3 578.5C193.5 577.6 197.3 576.8 200.8 576.4C204.3 575.9 207.8 575.6 211.3 575.7C214.8 575.7 218.4 575.9 221.8 576.7C225.3 577.5 229.4 578.8 232.0 580.2C234.6 581.7 237.0 583.7 237.6 585.5C238.2 587.2 237.6 589.6 235.8 590.7C234.1 591.9 230.2 592.5 227.1 592.5C223.9 592.4 219.4 591.5 216.9 590.4C214.5 589.2 212.7 587.2 212.4 585.5C212.1 583.8 214.7 581.1 215.2 580.2 M190.6 553.6C191.5 554.2 193.9 556.0 195.9 557.4C197.9 558.9 200.5 560.7 202.6 562.3C204.6 564.0 205.8 566.7 208.2 567.2C210.5 567.8 213.7 566.3 216.6 565.8C219.4 565.4 222.4 564.4 225.3 564.4C228.3 564.4 230.9 564.7 234.1 565.8C237.3 567.0 241.7 569.1 244.6 571.1C247.5 573.1 249.9 575.8 251.6 578.1C253.4 580.4 253.9 582.5 255.1 585.1C256.3 587.7 257.5 591.4 258.6 593.9C259.8 596.4 261.5 599.0 262.1 600.0 M332.3 459.6C333.5 460.3 337.0 462.0 339.7 463.6C342.4 465.2 345.7 467.2 348.4 469.2C351.1 471.1 353.8 473.1 355.9 475.4C357.9 477.6 359.8 480.2 360.8 482.8C361.9 485.4 362.3 488.3 362.1 490.9C361.9 493.5 360.8 497.1 359.6 498.3C358.3 499.6 356.7 498.3 354.6 498.6C352.5 498.8 349.6 499.2 347.2 499.8C344.7 500.4 342.0 501.5 339.7 502.1C337.4 502.6 335.4 503.3 333.5 503.3C331.6 503.3 329.4 502.3 328.5 502.1 M332.3 459.6C332.9 460.5 334.8 462.7 336.0 464.8C337.2 466.9 339.2 469.8 339.7 472.3C340.2 474.8 339.6 477.2 339.1 479.7C338.6 482.2 337.4 485.1 336.6 487.2C335.8 489.2 334.4 492.1 334.1 492.1C333.8 492.1 334.2 488.7 334.8 487.2C335.3 485.6 335.8 483.8 337.2 482.8C338.7 481.9 341.4 481.6 343.4 481.6C345.5 481.6 348.0 481.9 349.6 482.8C351.3 483.8 352.5 485.2 353.4 487.2C354.2 489.1 354.4 492.1 354.6 494.6C354.8 497.1 355.0 499.6 354.6 502.1C354.2 504.5 353.0 507.0 352.1 509.5C351.3 512.0 350.5 514.3 349.6 517.0C348.8 519.6 348.0 522.5 347.2 525.6C346.3 528.7 344.6 534.5 344.7 535.6C344.8 536.6 346.8 533.7 347.8 531.8C348.8 530.0 349.7 527.3 350.9 524.4C352.0 521.5 353.5 517.6 354.6 514.5C355.7 511.4 357.1 508.3 357.7 505.8C358.3 503.3 358.2 500.6 358.3 499.6 M303.7 494.6C303.9 495.9 304.1 499.6 305.0 502.1C305.8 504.5 307.0 507.4 308.7 509.5C310.3 511.6 312.6 513.1 314.9 514.5C317.2 515.8 319.7 517.0 322.3 517.6C325.0 518.2 328.3 518.5 331.0 518.2C333.7 517.9 336.6 517.2 338.5 515.7C340.3 514.3 341.4 511.4 342.2 509.5C343.0 507.6 343.2 505.4 343.4 504.5 M300.0 539.3C300.8 538.7 302.9 536.4 305.0 535.6C307.0 534.7 309.5 534.7 312.4 534.3C315.3 533.9 319.2 533.7 322.3 533.1C325.4 532.5 328.5 531.6 331.0 530.6C333.5 529.6 335.4 528.3 337.2 526.9C339.1 525.4 340.8 523.6 342.2 521.9C343.6 520.3 344.7 518.6 345.9 517.0C347.2 515.3 348.4 513.6 349.6 512.0C350.9 510.3 352.1 508.9 353.4 507.0C354.6 505.2 356.5 501.9 357.1 500.8" stroke="#8a8eec" stroke-width="0.9" fill="none" stroke-linecap="round" stroke-linejoin="round"/>
<defs>
<linearGradient id="gGray1" gradientUnits="userSpaceOnUse" x1="124" y1="404" x2="109" y2="440"><stop offset="0" stop-color="#5e5e66"/><stop offset="0.35" stop-color="#8e8e96"/><stop offset="1" stop-color="#f6f6fa"/></linearGradient>
<linearGradient id="gBlue1" gradientUnits="userSpaceOnUse" x1="138" y1="414" x2="120" y2="450"><stop offset="0" stop-color="#3030e6"/><stop offset="0.35" stop-color="#e4e4fa"/><stop offset="0.7" stop-color="#7070ee"/><stop offset="1" stop-color="#2020e8"/></linearGradient>
<linearGradient id="gH2" gradientUnits="userSpaceOnUse" x1="200" y1="460" x2="248" y2="490"><stop offset="0" stop-color="#8e8e98"/><stop offset="0.3" stop-color="#a8a8b4"/><stop offset="0.5" stop-color="#8488e4"/><stop offset="0.8" stop-color="#9a9eec"/><stop offset="1" stop-color="#6a6ed8"/></linearGradient>
<linearGradient id="gH3a" gradientUnits="userSpaceOnUse" x1="250" y1="470" x2="280" y2="445"><stop offset="0" stop-color="#2424e0"/><stop offset="0.5" stop-color="#8a8af2"/><stop offset="1" stop-color="#3434e8"/></linearGradient>
<linearGradient id="gH3b" gradientUnits="userSpaceOnUse" x1="284" y1="480" x2="300" y2="506"><stop offset="0" stop-color="#5a5af0"/><stop offset="0.4" stop-color="#4848f2"/><stop offset="1" stop-color="#2a2ae0"/></linearGradient>
<linearGradient id="gWhite" gradientUnits="userSpaceOnUse" x1="0" y1="0" x2="0" y2="1" gradientTransform="translate(0 468) scale(1 15)"><stop offset="0" stop-color="#f4f4f8"/><stop offset="0.6" stop-color="#e6e6ee"/><stop offset="1" stop-color="#a8a8b0"/></linearGradient>
<linearGradient id="gWhite2" x1="0" y1="0" x2="1" y2="0"><stop offset="0" stop-color="#f2f2f6"/><stop offset="0.6" stop-color="#dcdce4"/><stop offset="1" stop-color="#a4a4ac"/></linearGradient>
<linearGradient id="gH4" gradientUnits="userSpaceOnUse" x1="266" y1="530" x2="308" y2="520"><stop offset="0" stop-color="#a0a0a8"/><stop offset="0.2" stop-color="#7476e6"/><stop offset="0.55" stop-color="#a6a8f2"/><stop offset="1" stop-color="#5c5ee0"/></linearGradient>
</defs>
<path d="M159.5 621.5C166 618 175 615 186 611" stroke="#2c30c8" stroke-width="3.4" fill="none" stroke-linecap="round"/>
<path d="M118.3 405.4C119.1 403.7 120.2 403.7 121.5 403.4C122.8 403.1 125.1 403.1 126.3 403.4C127.5 403.7 128.4 403.4 128.7 405.4C129.0 407.3 128.6 413.2 127.9 415.1C127.2 417.0 125.6 416.0 124.7 416.7C123.8 417.4 123.1 417.4 122.3 419.1C121.5 420.8 120.7 424.6 119.9 427.1C119.1 429.7 118.6 432.2 117.5 434.4C116.4 436.5 114.8 438.9 113.5 440.0C112.2 441.1 110.6 441.1 109.5 440.8C108.4 440.5 107.2 439.7 107.0 438.4C106.8 437.1 107.5 434.7 108.3 432.8C109.1 430.9 110.8 429.1 111.9 427.1C113.0 425.1 114.3 423.0 115.1 420.7C115.9 418.4 116.2 416.1 116.7 413.5C117.2 410.9 117.5 407.1 118.3 405.4Z" fill="url(#gGray1)" stroke="none" stroke-width="0"/>
<path d="M128.7 405.4C129.1 404.5 129.6 408.1 130.3 409.5C131.0 410.9 131.6 412.3 132.8 413.5C134.0 414.7 136.5 415.5 137.6 416.7C138.7 417.9 139.5 419.2 139.6 420.7C139.7 422.2 139.1 423.5 138.4 425.5C137.7 427.5 136.3 430.4 135.2 432.8C134.1 435.2 132.8 437.7 131.9 440.0C131.0 442.3 130.0 444.5 129.5 446.4C129.0 448.3 129.1 449.9 128.7 451.2C128.3 452.5 128.2 454.1 127.1 454.4C126.0 454.7 123.9 453.6 122.3 452.8C120.7 452.0 118.5 450.9 117.5 449.6C116.5 448.3 116.3 446.4 116.3 444.8C116.3 443.2 116.9 442.0 117.5 440.0C118.1 438.0 119.1 435.2 119.9 432.8C120.7 430.4 121.6 427.8 122.3 425.5C123.0 423.2 123.4 420.6 123.9 419.1C124.4 417.6 124.8 417.4 125.5 416.7C126.2 416.0 127.4 417.0 127.9 415.1C128.4 413.2 128.3 406.3 128.7 405.4Z" fill="url(#gBlue1)" stroke="#3a3ad8" stroke-width="0.5"/>
<path d="M127.1 452.8C127.7 452.2 129.7 452.8 130.5 453.2C131.3 453.6 132.2 454.8 132.0 455.5C131.8 456.2 130.3 457.5 129.5 457.7C128.7 457.9 127.4 457.3 127.0 456.5C126.6 455.7 126.5 453.4 127.1 452.8Z" fill="#6a6a72" stroke="none" stroke-width="0"/>
<path d="M101.2 462.8 L104.3 463.5 L112.2 476.9 L110.6 479.9 L104.3 499.1 L102.9 497.9 L106.2 480.4 L104.3 478.0Z" fill="#4040ea"/>
<path d="M198.5 461.1C199.1 458.9 200.7 458.5 202.3 457.3C203.9 456.1 206.1 454.8 208.0 454.0C209.9 453.2 211.9 452.7 213.7 452.6C215.4 452.5 216.9 453.0 218.5 453.5C220.1 454.0 221.6 454.6 223.2 455.4C224.8 456.2 226.4 457.2 228.0 458.3C229.6 459.4 231.1 460.8 232.7 462.1C234.3 463.4 235.8 464.5 237.4 465.9C239.0 467.3 240.9 468.9 242.2 470.6C243.5 472.3 244.2 474.2 245.0 476.3C245.8 478.4 246.3 480.6 246.9 483.0C247.5 485.4 249.0 489.1 248.8 490.5C248.7 491.9 247.9 491.3 246.0 491.5C244.1 491.7 239.2 492.6 237.4 491.5C235.7 490.4 236.1 487.0 235.5 484.8C234.9 482.6 234.4 480.4 233.6 478.2C232.8 476.0 231.9 473.8 230.8 471.6C229.7 469.4 228.3 466.8 227.0 464.9C225.7 463.0 224.6 461.3 223.2 460.2C221.8 459.1 220.1 458.7 218.5 458.3C216.9 457.9 215.3 457.7 213.7 457.8C212.1 457.9 210.4 458.5 209.0 459.2C207.6 459.9 206.3 461.0 205.2 462.1C204.1 463.2 203.1 464.8 202.3 465.9C201.5 467.0 201.0 467.9 200.4 468.7C199.8 469.5 198.8 471.9 198.5 470.6C198.2 469.3 197.9 463.3 198.5 461.1Z" fill="url(#gH2)" stroke="none" stroke-width="0"/>
<path d="M196.6 478.2C197.5 476.3 200.6 475.4 202.3 475.4C204.1 475.4 205.8 476.9 207.1 478.2C208.4 479.5 210.1 481.9 210.4 483.0C210.7 484.1 210.7 483.9 209.0 484.8C207.3 485.7 202.4 488.3 200.4 488.6C198.4 488.9 197.7 488.4 197.1 486.7C196.5 485.0 195.7 480.1 196.6 478.2Z" fill="#6064e4" stroke="none" stroke-width="0"/>
<ellipse cx="204.2" cy="472" rx="8.5" ry="2.4" transform="rotate(15 204.2 472)" fill="none" stroke="#3c40d8" stroke-width="1.8"/>
<path d="M249.1 462.5C249.3 460.3 249.7 458.4 251.1 456.3C252.5 454.2 254.9 451.9 257.3 450.2C259.7 448.5 262.7 447.1 265.4 446.1C268.1 445.1 271.4 444.6 273.6 444.1C275.8 443.6 277.2 443.8 278.7 443.1C280.2 442.4 282.3 439.8 282.8 440.0C283.3 440.2 283.0 442.7 281.8 444.1C280.6 445.5 277.2 446.5 275.7 448.2C274.2 449.9 273.8 452.3 272.6 454.3C271.4 456.3 270.2 458.3 268.5 460.4C266.8 462.4 263.9 464.9 262.4 466.6C260.9 468.3 260.3 469.4 259.3 470.7C258.3 472.0 256.9 473.0 256.2 474.7C255.5 476.4 255.7 480.4 255.2 480.9C254.7 481.4 254.0 479.7 253.2 477.8C252.3 475.9 250.8 472.2 250.1 469.6C249.4 467.1 248.9 464.7 249.1 462.5Z" fill="url(#gH3a)" stroke="none" stroke-width="0"/>
<path d="M255.2 473.7C255.9 472.0 257.6 470.5 259.3 469.6C261.0 468.8 262.7 468.9 265.4 468.6C268.1 468.4 272.3 468.3 275.7 468.1C279.1 467.9 283.5 467.4 285.9 467.6C288.3 467.9 289.0 468.6 290.0 469.6C291.0 470.6 292.0 471.8 292.0 473.7C292.0 475.6 291.4 479.5 290.0 480.9C288.6 482.3 286.2 481.7 283.8 481.9C281.4 482.1 278.8 481.7 275.7 481.9C272.6 482.1 268.3 482.7 265.4 482.9C262.5 483.1 260.0 483.4 258.3 482.9C256.6 482.4 255.7 481.4 255.2 479.9C254.7 478.4 254.5 475.4 255.2 473.7Z" fill="url(#gWhite)" stroke="#888" stroke-width="0.4"/>
<path d="M283.8 493.1C284.5 490.6 284.7 485.6 285.9 482.9C287.1 480.2 289.3 477.6 291.0 476.8C292.7 476.0 294.4 476.8 296.1 477.8C297.8 478.8 300.2 480.7 301.2 482.9C302.2 485.1 302.4 488.0 302.2 491.1C302.0 494.2 301.4 498.6 300.2 501.3C299.0 504.0 296.8 506.2 295.1 507.4C293.4 508.6 291.5 509.2 290.0 508.5C288.5 507.8 287.3 505.1 285.9 503.4C284.5 501.7 282.1 499.9 281.8 498.2C281.5 496.5 283.1 495.7 283.8 493.1Z" fill="url(#gH3b)" stroke="none" stroke-width="0"/>
<path d="M288.5 484.5C287 490 287.5 497 289.5 501" stroke="#dcdcf6" stroke-width="2.2" fill="none" stroke-linecap="round"/>
<path d="M295.1 506.4C295.5 504.7 298.7 502.9 300.2 503.4C301.7 503.9 303.1 507.1 304.3 509.5C305.5 511.9 306.6 515.2 307.3 517.7C308.0 520.2 308.9 524.1 308.4 524.8C307.9 525.5 306.0 523.7 304.3 521.8C302.6 519.9 299.6 516.2 298.1 513.6C296.6 511.0 294.8 508.1 295.1 506.4Z" fill="url(#gWhite2)" stroke="none" stroke-width="0"/>
<path d="M264.4 527.9C264.6 525.2 266.6 520.2 268.5 517.7C270.4 515.2 272.8 513.6 275.7 512.6C278.6 511.6 282.8 511.3 285.9 511.5C288.9 511.7 291.4 512.4 294.0 513.6C296.6 514.8 299.0 517.0 301.2 518.7C303.4 520.4 306.1 522.1 307.3 523.8C308.5 525.5 309.2 527.7 308.4 528.9C307.5 530.1 304.6 531.2 302.2 530.9C299.8 530.6 296.7 528.4 294.0 526.9C291.3 525.4 288.6 522.8 285.9 521.8C283.2 520.8 279.9 520.4 277.7 520.7C275.5 521.0 273.8 521.9 272.6 523.8C271.4 525.7 271.4 530.3 270.5 532.0C269.6 533.7 268.5 534.7 267.5 534.0C266.5 533.3 264.2 530.6 264.4 527.9Z" fill="url(#gH4)" stroke="none" stroke-width="0"/>
</g>
<rect x="411.0" y="385.0" width="255.5" height="267.0" fill="#fefec4"/>
<rect x="411.00" y="385.00" width="7.50" height="8.22" fill="#c97a08"/>
<rect x="418.10" y="385.00" width="71.37" height="8.22" fill="#f50a0a"/>
<rect x="489.07" y="385.00" width="21.69" height="8.22" fill="#c97a08"/>
<rect x="510.36" y="385.00" width="14.59" height="8.22" fill="#fcfc00"/>
<rect x="560.04" y="385.00" width="35.89" height="8.22" fill="#fcfc00"/>
<rect x="631.01" y="385.00" width="28.79" height="8.22" fill="#fcfc00"/>
<rect x="659.40" y="385.00" width="7.50" height="8.22" fill="#c97a08"/>
<rect x="411.00" y="392.42" width="7.50" height="8.22" fill="#c97a08"/>
<rect x="418.10" y="392.42" width="78.47" height="8.22" fill="#f50a0a"/>
<rect x="496.17" y="392.42" width="21.69" height="8.22" fill="#c97a08"/>
<rect x="517.46" y="392.42" width="14.59" height="8.22" fill="#fcfc00"/>
<rect x="631.01" y="392.42" width="21.69" height="8.22" fill="#fcfc00"/>
<rect x="652.31" y="392.42" width="14.59" height="8.22" fill="#c97a08"/>
<rect x="411.00" y="399.83" width="7.50" height="8.22" fill="#c97a08"/>
<rect x="418.10" y="399.83" width="78.47" height="8.22" fill="#f50a0a"/>
<rect x="496.17" y="399.83" width="21.69" height="8.22" fill="#c97a08"/>
<rect x="517.46" y="399.83" width="28.79" height="8.22" fill="#fcfc00"/>
<rect x="631.01" y="399.83" width="14.59" height="8.22" fill="#fcfc00"/>
<rect x="645.21" y="399.83" width="21.69" height="8.22" fill="#c97a08"/>
<rect x="411.00" y="407.25" width="14.59" height="8.22" fill="#c97a08"/>
<rect x="425.19" y="407.25" width="78.47" height="8.22" fill="#f50a0a"/>
<rect x="503.26" y="407.25" width="28.79" height="8.22" fill="#c97a08"/>
<rect x="531.65" y="407.25" width="14.59" height="8.22" fill="#fcfc00"/>
<rect x="631.01" y="407.25" width="21.69" height="8.22" fill="#fcfc00"/>
<rect x="652.31" y="407.25" width="14.59" height="8.22" fill="#c97a08"/>
<rect x="411.00" y="414.67" width="14.59" height="8.22" fill="#c97a08"/>
<rect x="425.19" y="414.67" width="85.57" height="8.22" fill="#f50a0a"/>
<rect x="510.36" y="414.67" width="14.59" height="8.22" fill="#c97a08"/>
<rect x="524.56" y="414.67" width="21.69" height="8.22" fill="#fcfc00"/>
<rect x="631.01" y="414.67" width="28.79" height="8.22" fill="#fcfc00"/>
<rect x="659.40" y="414.67" width="7.50" height="8.22" fill="#c97a08"/>
<rect x="411.00" y="422.08" width="14.59" height="8.22" fill="#c97a08"/>
<rect x="425.19" y="422.08" width="78.47" height="8.22" fill="#f50a0a"/>
<rect x="503.26" y="422.08" width="21.69" height="8.22" fill="#c97a08"/>
<rect x="524.56" y="422.08" width="21.69" height="8.22" fill="#fcfc00"/>
<rect x="638.11" y="422.08" width="21.69" height="8.22" fill="#fcfc00"/>
<rect x="659.40" y="422.08" width="7.50" height="8.22" fill="#c97a08"/>
<rect x="411.00" y="429.50" width="21.69" height="8.22" fill="#c97a08"/>
<rect x="432.29" y="429.50" width="64.28" height="8.22" fill="#f50a0a"/>
<rect x="496.17" y="429.50" width="28.79" height="8.22" fill="#c97a08"/>
<rect x="524.56" y="429.50" width="21.69" height="8.22" fill="#fcfc00"/>
<rect x="574.24" y="429.50" width="35.89" height="8.22" fill="#fcfc00"/>
<rect x="645.21" y="429.50" width="14.59" height="8.22" fill="#fcfc00"/>
<rect x="659.40" y="429.50" width="7.50" height="8.22" fill="#c97a08"/>
<rect x="411.00" y="436.92" width="28.79" height="8.22" fill="#c97a08"/>
<rect x="439.39" y="436.92" width="50.08" height="8.22" fill="#f50a0a"/>
<rect x="489.07" y="436.92" width="42.98" height="8.22" fill="#c97a08"/>
<rect x="531.65" y="436.92" width="78.47" height="8.22" fill="#fcfc00"/>
<rect x="645.21" y="436.92" width="14.59" height="8.22" fill="#fcfc00"/>
<rect x="659.40" y="436.92" width="7.50" height="8.22" fill="#c97a08"/>
<rect x="411.00" y="444.33" width="35.89" height="8.22" fill="#c97a08"/>
<rect x="446.49" y="444.33" width="7.50" height="8.22" fill="#f50a0a"/>
<rect x="453.58" y="444.33" width="14.59" height="8.22" fill="#c97a08"/>
<rect x="467.78" y="444.33" width="7.50" height="8.22" fill="#f50a0a"/>
<rect x="474.88" y="444.33" width="57.18" height="8.22" fill="#c97a08"/>
<rect x="531.65" y="444.33" width="50.08" height="8.22" fill="#fcfc00"/>
<rect x="581.33" y="444.33" width="14.59" height="8.22" fill="#c97a08"/>
<rect x="595.53" y="444.33" width="14.59" height="8.22" fill="#fcfc00"/>
<rect x="645.21" y="444.33" width="14.59" height="8.22" fill="#fcfc00"/>
<rect x="659.40" y="444.33" width="7.50" height="8.22" fill="#c97a08"/>
<rect x="411.00" y="451.75" width="99.76" height="8.22" fill="#c97a08"/>
<rect x="510.36" y="451.75" width="50.08" height="8.22" fill="#fcfc00"/>
<rect x="560.04" y="451.75" width="28.79" height="8.22" fill="#c97a08"/>
<rect x="588.43" y="451.75" width="21.69" height="8.22" fill="#fcfc00"/>
<rect x="645.21" y="451.75" width="21.69" height="8.22" fill="#fcfc00"/>
<rect x="411.00" y="459.17" width="85.57" height="8.22" fill="#c97a08"/>
<rect x="496.17" y="459.17" width="64.28" height="8.22" fill="#fcfc00"/>
<rect x="560.04" y="459.17" width="28.79" height="8.22" fill="#c97a08"/>
<rect x="588.43" y="459.17" width="21.69" height="8.22" fill="#fcfc00"/>
<rect x="645.21" y="459.17" width="21.69" height="8.22" fill="#fcfc00"/>
<rect x="411.00" y="466.58" width="7.50" height="8.22" fill="#fcfc00"/>
<rect x="418.10" y="466.58" width="85.57" height="8.22" fill="#c97a08"/>
<rect x="503.26" y="466.58" width="14.59" height="8.22" fill="#fcfc00"/>
<rect x="545.85" y="466.58" width="21.69" height="8.22" fill="#fcfc00"/>
<rect x="567.14" y="466.58" width="21.69" height="8.22" fill="#c97a08"/>
<rect x="588.43" y="466.58" width="28.79" height="8.22" fill="#fcfc00"/>
<rect x="645.21" y="466.58" width="21.69" height="8.22" fill="#fcfc00"/>
<rect x="411.00" y="474.00" width="14.59" height="8.22" fill="#fcfc00"/>
<rect x="425.19" y="474.00" width="78.47" height="8.22" fill="#c97a08"/>
<rect x="503.26" y="474.00" width="14.59" height="8.22" fill="#fcfc00"/>
<rect x="545.85" y="474.00" width="14.59" height="8.22" fill="#fcfc00"/>
<rect x="560.04" y="474.00" width="42.98" height="8.22" fill="#c97a08"/>
<rect x="602.62" y="474.00" width="14.59" height="8.22" fill="#fcfc00"/>
<rect x="645.21" y="474.00" width="21.69" height="8.22" fill="#fcfc00"/>
<rect x="411.00" y="481.42" width="7.50" height="8.22" fill="#fcfc00"/>
<rect x="418.10" y="481.42" width="78.47" height="8.22" fill="#c97a08"/>
<rect x="496.17" y="481.42" width="21.69" height="8.22" fill="#fcfc00"/>
<rect x="545.85" y="481.42" width="14.59" height="8.22" fill="#fcfc00"/>
<rect x="560.04" y="481.42" width="14.59" height="8.22" fill="#c97a08"/>
<rect x="574.24" y="481.42" width="7.50" height="8.22" fill="#f50a0a"/>
<rect x="581.33" y="481.42" width="14.59" height="8.22" fill="#c97a08"/>
<rect x="595.53" y="481.42" width="21.69" height="8.22" fill="#fcfc00"/>
<rect x="645.21" y="481.42" width="21.69" height="8.22" fill="#fcfc00"/>
<rect x="411.00" y="488.83" width="7.50" height="8.22" fill="#fcfc00"/>
<rect x="418.10" y="488.83" width="78.47" height="8.22" fill="#c97a08"/>
<rect x="496.17" y="488.83" width="21.69" height="8.22" fill="#fcfc00"/>
<rect x="545.85" y="488.83" width="21.69" height="8.22" fill="#fcfc00"/>
<rect x="567.14" y="488.83" width="7.50" height="8.22" fill="#c97a08"/>
<rect x="574.24" y="488.83" width="14.59" height="8.22" fill="#f50a0a"/>
<rect x="588.43" y="488.83" width="7.50" height="8.22" fill="#c97a08"/>
<rect x="595.53" y="488.83" width="21.69" height="8.22" fill="#fcfc00"/>
<rect x="645.21" y="488.83" width="21.69" height="8.22" fill="#fcfc00"/>
<rect x="411.00" y="496.25" width="7.50" height="8.22" fill="#fcfc00"/>
<rect x="418.10" y="496.25" width="42.98" height="8.22" fill="#c97a08"/>
<rect x="460.68" y="496.25" width="7.50" height="8.22" fill="#f50a0a"/>
<rect x="467.78" y="496.25" width="35.89" height="8.22" fill="#c97a08"/>
<rect x="503.26" y="496.25" width="21.69" height="8.22" fill="#fcfc00"/>
<rect x="545.85" y="496.25" width="21.69" height="8.22" fill="#fcfc00"/>
<rect x="567.14" y="496.25" width="35.89" height="8.22" fill="#c97a08"/>
<rect x="602.62" y="496.25" width="14.59" height="8.22" fill="#fcfc00"/>
<rect x="645.21" y="496.25" width="21.69" height="8.22" fill="#fcfc00"/>
<rect x="411.00" y="503.67" width="7.50" height="8.22" fill="#fcfc00"/>
<rect x="418.10" y="503.67" width="35.89" height="8.22" fill="#c97a08"/>
<rect x="453.58" y="503.67" width="28.79" height="8.22" fill="#f50a0a"/>
<rect x="481.97" y="503.67" width="21.69" height="8.22" fill="#c97a08"/>
<rect x="503.26" y="503.67" width="28.79" height="8.22" fill="#fcfc00"/>
<rect x="545.85" y="503.67" width="21.69" height="8.22" fill="#fcfc00"/>
<rect x="567.14" y="503.67" width="28.79" height="8.22" fill="#c97a08"/>
<rect x="595.53" y="503.67" width="21.69" height="8.22" fill="#fcfc00"/>
<rect x="645.21" y="503.67" width="21.69" height="8.22" fill="#fcfc00"/>
<rect x="411.00" y="511.08" width="7.50" height="8.22" fill="#fcfc00"/>
<rect x="418.10" y="511.08" width="35.89" height="8.22" fill="#c97a08"/>
<rect x="453.58" y="511.08" width="35.89" height="8.22" fill="#f50a0a"/>
<rect x="489.07" y="511.08" width="21.69" height="8.22" fill="#c97a08"/>
<rect x="510.36" y="511.08" width="21.69" height="8.22" fill="#fcfc00"/>
<rect x="545.85" y="511.08" width="28.79" height="8.22" fill="#fcfc00"/>
<rect x="574.24" y="511.08" width="28.79" height="8.22" fill="#c97a08"/>
<rect x="602.62" y="511.08" width="14.59" height="8.22" fill="#fcfc00"/>
<rect x="645.21" y="511.08" width="21.69" height="8.22" fill="#fcfc00"/>
<rect x="411.00" y="518.50" width="7.50" height="8.22" fill="#fcfc00"/>
<rect x="418.10" y="518.50" width="28.79" height="8.22" fill="#c97a08"/>
<rect x="446.49" y="518.50" width="50.08" height="8.22" fill="#f50a0a"/>
<rect x="496.17" y="518.50" width="21.69" height="8.22" fill="#c97a08"/>
<rect x="517.46" y="518.50" width="21.69" height="8.22" fill="#fcfc00"/>
<rect x="545.85" y="518.50" width="28.79" height="8.22" fill="#fcfc00"/>
<rect x="574.24" y="518.50" width="7.50" height="8.22" fill="#c97a08"/>
<rect x="581.33" y="518.50" width="7.50" height="8.22" fill="#fcfc00"/>
<rect x="588.43" y="518.50" width="14.59" height="8.22" fill="#c97a08"/>
<rect x="602.62" y="518.50" width="14.59" height="8.22" fill="#fcfc00"/>
<rect x="645.21" y="518.50" width="21.69" height="8.22" fill="#fcfc00"/>
<rect x="411.00" y="525.92" width="7.50" height="8.22" fill="#fcfc00"/>
<rect x="418.10" y="525.92" width="35.89" height="8.22" fill="#c97a08"/>
<rect x="453.58" y="525.92" width="50.08" height="8.22" fill="#f50a0a"/>
<rect x="503.26" y="525.92" width="14.59" height="8.22" fill="#c97a08"/>
<rect x="517.46" y="525.92" width="28.79" height="8.22" fill="#fcfc00"/>
<rect x="552.94" y="525.92" width="64.28" height="8.22" fill="#fcfc00"/>
<rect x="645.21" y="525.92" width="21.69" height="8.22" fill="#fcfc00"/>
<rect x="411.00" y="533.33" width="14.59" height="8.22" fill="#fcfc00"/>
<rect x="425.19" y="533.33" width="28.79" height="8.22" fill="#c97a08"/>
<rect x="453.58" y="533.33" width="57.18" height="8.22" fill="#f50a0a"/>
<rect x="510.36" y="533.33" width="14.59" height="8.22" fill="#c97a08"/>
<rect x="524.56" y="533.33" width="21.69" height="8.22" fill="#fcfc00"/>
<rect x="552.94" y="533.33" width="64.28" height="8.22" fill="#fcfc00"/>
<rect x="645.21" y="533.33" width="21.69" height="8.22" fill="#fcfc00"/>
<rect x="411.00" y="540.75" width="14.59" height="8.22" fill="#fcfc00"/>
<rect x="425.19" y="540.75" width="35.89" height="8.22" fill="#c97a08"/>
<rect x="460.68" y="540.75" width="50.08" height="8.22" fill="#f50a0a"/>
<rect x="510.36" y="540.75" width="21.69" height="8.22" fill="#c97a08"/>
<rect x="531.65" y="540.75" width="21.69" height="8.22" fill="#fcfc00"/>
<rect x="645.21" y="540.75" width="21.69" height="8.22" fill="#fcfc00"/>
<rect x="411.00" y="548.17" width="21.69" height="8.22" fill="#fcfc00"/>
<rect x="432.29" y="548.17" width="35.89" height="8.22" fill="#c97a08"/>
<rect x="467.78" y="548.17" width="50.08" height="8.22" fill="#f50a0a"/>
<rect x="517.46" y="548.17" width="14.59" height="8.22" fill="#c97a08"/>
<rect x="531.65" y="548.17" width="21.69" height="8.22" fill="#fcfc00"/>
<rect x="645.21" y="548.17" width="21.69" height="8.22" fill="#fcfc00"/>
<rect x="411.00" y="555.58" width="7.50" height="8.22" fill="#fcfc00"/>
<rect x="418.10" y="555.58" width="57.18" height="8.22" fill="#c97a08"/>
<rect x="474.88" y="555.58" width="42.98" height="8.22" fill="#f50a0a"/>
<rect x="517.46" y="555.58" width="21.69" height="8.22" fill="#c97a08"/>
<rect x="538.75" y="555.58" width="21.69" height="8.22" fill="#fcfc00"/>
<rect x="645.21" y="555.58" width="21.69" height="8.22" fill="#fcfc00"/>
<rect x="411.00" y="563.00" width="14.59" height="8.22" fill="#c97a08"/>
<rect x="425.19" y="563.00" width="7.50" height="8.22" fill="#fcfc00"/>
<rect x="432.29" y="563.00" width="57.18" height="8.22" fill="#c97a08"/>
<rect x="489.07" y="563.00" width="28.79" height="8.22" fill="#f50a0a"/>
<rect x="517.46" y="563.00" width="21.69" height="8.22" fill="#c97a08"/>
<rect x="538.75" y="563.00" width="21.69" height="8.22" fill="#fcfc00"/>
<rect x="645.21" y="563.00" width="21.69" height="8.22" fill="#fcfc00"/>
<rect x="411.00" y="570.42" width="21.69" height="8.22" fill="#fcfc00"/>
<rect x="432.29" y="570.42" width="113.96" height="8.22" fill="#c97a08"/>
<rect x="545.85" y="570.42" width="14.59" height="8.22" fill="#fcfc00"/>
<rect x="645.21" y="570.42" width="21.69" height="8.22" fill="#fcfc00"/>
<rect x="411.00" y="577.83" width="35.89" height="8.22" fill="#fcfc00"/>
<rect x="446.49" y="577.83" width="92.66" height="8.22" fill="#c97a08"/>
<rect x="538.75" y="577.83" width="21.69" height="8.22" fill="#fcfc00"/>
<rect x="645.21" y="577.83" width="21.69" height="8.22" fill="#fcfc00"/>
<rect x="432.29" y="585.25" width="14.59" height="8.22" fill="#fcfc00"/>
<rect x="446.49" y="585.25" width="71.37" height="8.22" fill="#c97a08"/>
<rect x="517.46" y="585.25" width="42.98" height="8.22" fill="#fcfc00"/>
<rect x="432.29" y="592.67" width="57.18" height="8.22" fill="#fcfc00"/>
<rect x="489.07" y="592.67" width="7.50" height="8.22" fill="#c97a08"/>
<rect x="496.17" y="592.67" width="57.18" height="8.22" fill="#fcfc00"/>
<rect x="432.29" y="600.08" width="28.79" height="8.22" fill="#fcfc00"/>
<rect x="460.68" y="600.08" width="14.59" height="8.22" fill="#c97a08"/>
<rect x="474.88" y="600.08" width="57.18" height="8.22" fill="#fcfc00"/>
<rect x="411.00" y="607.50" width="50.08" height="8.22" fill="#fcfc00"/>
<rect x="460.68" y="607.50" width="21.69" height="8.22" fill="#c97a08"/>
<rect x="481.97" y="607.50" width="28.79" height="8.22" fill="#fcfc00"/>
<rect x="560.04" y="607.50" width="35.89" height="8.22" fill="#fcfc00"/>
<rect x="411.00" y="614.92" width="35.89" height="8.22" fill="#fcfc00"/>
<rect x="446.49" y="614.92" width="35.89" height="8.22" fill="#c97a08"/>
<rect x="481.97" y="614.92" width="28.79" height="8.22" fill="#fcfc00"/>
<rect x="560.04" y="614.92" width="35.89" height="8.22" fill="#fcfc00"/>
<rect x="411.00" y="622.33" width="7.50" height="8.22" fill="#fcfc00"/>
<rect x="418.10" y="622.33" width="21.69" height="8.22" fill="#c97a08"/>
<rect x="439.39" y="622.33" width="7.50" height="8.22" fill="#fcfc00"/>
<rect x="446.49" y="622.33" width="35.89" height="8.22" fill="#c97a08"/>
<rect x="481.97" y="622.33" width="35.89" height="8.22" fill="#fcfc00"/>
<rect x="560.04" y="622.33" width="14.59" height="8.22" fill="#fcfc00"/>
<rect x="574.24" y="622.33" width="7.50" height="8.22" fill="#c97a08"/>
<rect x="581.33" y="622.33" width="21.69" height="8.22" fill="#fcfc00"/>
<rect x="411.00" y="629.75" width="7.50" height="8.22" fill="#fcfc00"/>
<rect x="418.10" y="629.75" width="64.28" height="8.22" fill="#c97a08"/>
<rect x="481.97" y="629.75" width="35.89" height="8.22" fill="#fcfc00"/>
<rect x="560.04" y="629.75" width="14.59" height="8.22" fill="#fcfc00"/>
<rect x="574.24" y="629.75" width="7.50" height="8.22" fill="#c97a08"/>
<rect x="581.33" y="629.75" width="21.69" height="8.22" fill="#fcfc00"/>
<rect x="645.21" y="629.75" width="21.69" height="8.22" fill="#fcfc00"/>
<rect x="411.00" y="637.17" width="7.50" height="8.22" fill="#fcfc00"/>
<rect x="418.10" y="637.17" width="85.57" height="8.22" fill="#c97a08"/>
<rect x="503.26" y="637.17" width="14.59" height="8.22" fill="#fcfc00"/>
<rect x="560.04" y="637.17" width="14.59" height="8.22" fill="#fcfc00"/>
<rect x="574.24" y="637.17" width="14.59" height="8.22" fill="#c97a08"/>
<rect x="588.43" y="637.17" width="14.59" height="8.22" fill="#fcfc00"/>
<rect x="645.21" y="637.17" width="21.69" height="8.22" fill="#fcfc00"/>
<rect x="411.00" y="644.58" width="92.66" height="8.22" fill="#c97a08"/>
<rect x="503.26" y="644.58" width="14.59" height="8.22" fill="#fcfc00"/>
<rect x="560.04" y="644.58" width="42.98" height="8.22" fill="#fcfc00"/>
<rect x="645.21" y="644.58" width="14.59" height="8.22" fill="#fcfc00"/>
<rect x="659.40" y="644.58" width="7.50" height="8.22" fill="#c97a08"/>
<path d="M418.10 385.00v7.42M489.07 385.00v7.42M489.07 392.42h7.10M510.36 385.00v7.42M510.36 392.42h7.10M524.56 385.00v7.42M524.56 392.42h7.10M560.04 385.00v7.42M560.04 392.42h7.10M567.14 392.42h7.10M574.24 392.42h7.10M581.33 392.42h7.10M595.53 385.00v7.42M588.43 392.42h7.10M631.01 385.00v7.42M659.40 385.00v7.42M652.31 392.42h7.10M418.10 392.42v7.42M496.17 392.42v7.42M517.46 392.42v7.42M531.65 392.42v7.42M531.65 399.83h7.10M538.75 399.83h7.10M631.01 392.42v7.42M652.31 392.42v7.42M645.21 399.83h7.10M418.10 399.83v7.42M418.10 407.25h7.10M496.17 399.83v7.42M496.17 407.25h7.10M517.46 399.83v7.42M517.46 407.25h7.10M524.56 407.25h7.10M545.85 399.83v7.42M631.01 399.83v7.42M645.21 399.83v7.42M645.21 407.25h7.10M425.19 407.25v7.42M503.26 407.25v7.42M503.26 414.67h7.10M531.65 407.25v7.42M524.56 414.67h7.10M545.85 407.25v7.42M631.01 407.25v7.42M652.31 407.25v7.42M652.31 414.67h7.10M425.19 414.67v7.42M510.36 414.67v7.42M503.26 422.08h7.10M524.56 414.67v7.42M545.85 414.67v7.42M631.01 414.67v7.42M631.01 422.08h7.10M659.40 414.67v7.42M425.19 422.08v7.42M425.19 429.50h7.10M503.26 422.08v7.42M496.17 429.50h7.10M524.56 422.08v7.42M545.85 422.08v7.42M574.24 429.50h7.10M581.33 429.50h7.10M588.43 429.50h7.10M595.53 429.50h7.10M602.62 429.50h7.10M638.11 422.08v7.42M638.11 429.50h7.10M659.40 422.08v7.42M432.29 429.50v7.42M432.29 436.92h7.10M496.17 429.50v7.42M489.07 436.92h7.10M524.56 429.50v7.42M524.56 436.92h7.10M545.85 429.50v7.42M545.85 436.92h7.10M552.94 436.92h7.10M560.04 436.92h7.10M574.24 429.50v7.42M567.14 436.92h7.10M609.72 429.50v7.42M645.21 429.50v7.42M659.40 429.50v7.42M439.39 436.92v7.42M439.39 444.33h7.10M453.58 444.33h7.10M460.68 444.33h7.10M474.88 444.33h7.10M489.07 436.92v7.42M481.97 444.33h7.10M531.65 436.92v7.42M581.33 444.33h7.10M588.43 444.33h7.10M609.72 436.92v7.42M645.21 436.92v7.42M659.40 436.92v7.42M446.49 444.33v7.42M453.58 444.33v7.42M446.49 451.75h7.10M467.78 444.33v7.42M474.88 444.33v7.42M467.78 451.75h7.10M510.36 451.75h7.10M517.46 451.75h7.10M531.65 444.33v7.42M524.56 451.75h7.10M560.04 451.75h7.10M567.14 451.75h7.10M581.33 444.33v7.42M574.24 451.75h7.10M595.53 444.33v7.42M588.43 451.75h7.10M609.72 444.33v7.42M645.21 444.33v7.42M659.40 444.33v7.42M659.40 451.75h7.10M496.17 459.17h7.10M510.36 451.75v7.42M503.26 459.17h7.10M560.04 451.75v7.42M588.43 451.75v7.42M609.72 451.75v7.42M645.21 451.75v7.42M411.00 466.58h7.10M496.17 459.17v7.42M496.17 466.58h7.10M517.46 466.58h7.10M524.56 466.58h7.10M531.65 466.58h7.10M538.75 466.58h7.10M560.04 459.17v7.42M560.04 466.58h7.10M588.43 459.17v7.42M609.72 459.17v7.42M609.72 466.58h7.10M645.21 459.17v7.42M418.10 466.58v7.42M418.10 474.00h7.10M503.26 466.58v7.42M517.46 466.58v7.42M545.85 466.58v7.42M567.14 466.58v7.42M560.04 474.00h7.10M588.43 466.58v7.42M588.43 474.00h7.10M595.53 474.00h7.10M616.82 466.58v7.42M645.21 466.58v7.42M425.19 474.00v7.42M418.10 481.42h7.10M503.26 474.00v7.42M496.17 481.42h7.10M517.46 474.00v7.42M545.85 474.00v7.42M560.04 474.00v7.42M574.24 481.42h7.10M602.62 474.00v7.42M595.53 481.42h7.10M616.82 474.00v7.42M645.21 474.00v7.42M418.10 481.42v7.42M496.17 481.42v7.42M517.46 481.42v7.42M545.85 481.42v7.42M560.04 481.42v7.42M560.04 488.83h7.10M574.24 481.42v7.42M581.33 481.42v7.42M581.33 488.83h7.10M595.53 481.42v7.42M616.82 481.42v7.42M645.21 481.42v7.42M418.10 488.83v7.42M460.68 496.25h7.10M496.17 488.83v7.42M496.17 496.25h7.10M517.46 488.83v7.42M517.46 496.25h7.10M545.85 488.83v7.42M567.14 488.83v7.42M574.24 488.83v7.42M574.24 496.25h7.10M588.43 488.83v7.42M581.33 496.25h7.10M595.53 488.83v7.42M595.53 496.25h7.10M616.82 488.83v7.42M645.21 488.83v7.42M418.10 496.25v7.42M460.68 496.25v7.42M453.58 503.67h7.10M467.78 496.25v7.42M467.78 503.67h7.10M474.88 503.67h7.10M503.26 496.25v7.42M524.56 496.25v7.42M524.56 503.67h7.10M545.85 496.25v7.42M567.14 496.25v7.42M602.62 496.25v7.42M595.53 503.67h7.10M616.82 496.25v7.42M645.21 496.25v7.42M418.10 503.67v7.42M453.58 503.67v7.42M481.97 503.67v7.42M481.97 511.08h7.10M503.26 503.67v7.42M503.26 511.08h7.10M531.65 503.67v7.42M545.85 503.67v7.42M567.14 503.67v7.42M567.14 511.08h7.10M595.53 503.67v7.42M595.53 511.08h7.10M616.82 503.67v7.42M645.21 503.67v7.42M418.10 511.08v7.42M453.58 511.08v7.42M446.49 518.50h7.10M489.07 511.08v7.42M489.07 518.50h7.10M510.36 511.08v7.42M510.36 518.50h7.10M531.65 511.08v7.42M531.65 518.50h7.10M545.85 511.08v7.42M574.24 511.08v7.42M581.33 518.50h7.10M602.62 511.08v7.42M616.82 511.08v7.42M645.21 511.08v7.42M418.10 518.50v7.42M446.49 518.50v7.42M446.49 525.92h7.10M496.17 518.50v7.42M496.17 525.92h7.10M517.46 518.50v7.42M538.75 518.50v7.42M545.85 518.50v7.42M538.75 525.92h7.10M545.85 525.92h7.10M574.24 518.50v7.42M581.33 518.50v7.42M574.24 525.92h7.10M588.43 518.50v7.42M588.43 525.92h7.10M602.62 518.50v7.42M595.53 525.92h7.10M616.82 518.50v7.42M645.21 518.50v7.42M418.10 525.92v7.42M418.10 533.33h7.10M453.58 525.92v7.42M503.26 525.92v7.42M503.26 533.33h7.10M517.46 525.92v7.42M517.46 533.33h7.10M545.85 525.92v7.42M552.94 525.92v7.42M616.82 525.92v7.42M645.21 525.92v7.42M425.19 533.33v7.42M453.58 533.33v7.42M453.58 540.75h7.10M510.36 533.33v7.42M524.56 533.33v7.42M524.56 540.75h7.10M545.85 533.33v7.42M552.94 533.33v7.42M545.85 540.75h7.10M552.94 540.75h7.10M560.04 540.75h7.10M567.14 540.75h7.10M574.24 540.75h7.10M581.33 540.75h7.10M588.43 540.75h7.10M595.53 540.75h7.10M602.62 540.75h7.10M616.82 533.33v7.42M609.72 540.75h7.10M645.21 533.33v7.42M425.19 540.75v7.42M425.19 548.17h7.10M460.68 540.75v7.42M460.68 548.17h7.10M510.36 540.75v7.42M510.36 548.17h7.10M531.65 540.75v7.42M552.94 540.75v7.42M645.21 540.75v7.42M418.10 555.58h7.10M432.29 548.17v7.42M425.19 555.58h7.10M467.78 548.17v7.42M467.78 555.58h7.10M517.46 548.17v7.42M531.65 548.17v7.42M531.65 555.58h7.10M552.94 548.17v7.42M552.94 555.58h7.10M645.21 548.17v7.42M418.10 555.58v7.42M411.00 563.00h7.10M425.19 563.00h7.10M474.88 555.58v7.42M474.88 563.00h7.10M481.97 563.00h7.10M517.46 555.58v7.42M538.75 555.58v7.42M560.04 555.58v7.42M645.21 555.58v7.42M411.00 570.42h7.10M425.19 563.00v7.42M418.10 570.42h7.10M432.29 563.00v7.42M489.07 563.00v7.42M489.07 570.42h7.10M496.17 570.42h7.10M503.26 570.42h7.10M517.46 563.00v7.42M510.36 570.42h7.10M538.75 563.00v7.42M538.75 570.42h7.10M560.04 563.00v7.42M645.21 563.00v7.42M432.29 570.42v7.42M432.29 577.83h7.10M439.39 577.83h7.10M545.85 570.42v7.42M538.75 577.83h7.10M560.04 570.42v7.42M645.21 570.42v7.42M411.00 585.25h7.10M418.10 585.25h7.10M425.19 585.25h7.10M446.49 577.83v7.42M517.46 585.25h7.10M524.56 585.25h7.10M538.75 577.83v7.42M531.65 585.25h7.10M560.04 577.83v7.42M645.21 577.83v7.42M645.21 585.25h7.10M652.31 585.25h7.10M659.40 585.25h7.10M432.29 585.25v7.42M446.49 585.25v7.42M446.49 592.67h7.10M453.58 592.67h7.10M460.68 592.67h7.10M467.78 592.67h7.10M474.88 592.67h7.10M481.97 592.67h7.10M496.17 592.67h7.10M503.26 592.67h7.10M517.46 585.25v7.42M510.36 592.67h7.10M560.04 585.25v7.42M552.94 592.67h7.10M432.29 592.67v7.42M460.68 600.08h7.10M467.78 600.08h7.10M489.07 592.67v7.42M496.17 592.67v7.42M489.07 600.08h7.10M531.65 600.08h7.10M538.75 600.08h7.10M552.94 592.67v7.42M545.85 600.08h7.10M411.00 607.50h7.10M418.10 607.50h7.10M432.29 600.08v7.42M425.19 607.50h7.10M460.68 600.08v7.42M474.88 600.08v7.42M474.88 607.50h7.10M510.36 607.50h7.10M517.46 607.50h7.10M531.65 600.08v7.42M524.56 607.50h7.10M560.04 607.50h7.10M567.14 607.50h7.10M574.24 607.50h7.10M581.33 607.50h7.10M588.43 607.50h7.10M446.49 614.92h7.10M460.68 607.50v7.42M453.58 614.92h7.10M481.97 607.50v7.42M510.36 607.50v7.42M560.04 607.50v7.42M595.53 607.50v7.42M418.10 622.33h7.10M425.19 622.33h7.10M432.29 622.33h7.10M446.49 614.92v7.42M481.97 614.92v7.42M510.36 614.92v7.42M510.36 622.33h7.10M560.04 614.92v7.42M574.24 622.33h7.10M595.53 614.92v7.42M595.53 622.33h7.10M418.10 622.33v7.42M439.39 622.33v7.42M446.49 622.33v7.42M439.39 629.75h7.10M481.97 622.33v7.42M517.46 622.33v7.42M560.04 622.33v7.42M574.24 622.33v7.42M581.33 622.33v7.42M602.62 622.33v7.42M645.21 629.75h7.10M652.31 629.75h7.10M659.40 629.75h7.10M418.10 629.75v7.42M481.97 629.75v7.42M481.97 637.17h7.10M489.07 637.17h7.10M496.17 637.17h7.10M517.46 629.75v7.42M560.04 629.75v7.42M574.24 629.75v7.42M581.33 629.75v7.42M581.33 637.17h7.10M602.62 629.75v7.42M645.21 629.75v7.42M418.10 637.17v7.42M411.00 644.58h7.10M503.26 637.17v7.42M517.46 637.17v7.42M560.04 637.17v7.42M574.24 637.17v7.42M574.24 644.58h7.10M588.43 637.17v7.42M581.33 644.58h7.10M602.62 637.17v7.42M645.21 637.17v7.42M659.40 644.58h7.10M503.26 644.58v7.42M517.46 644.58v7.42M560.04 644.58v7.42M602.62 644.58v7.42M645.21 644.58v7.42M659.40 644.58v7.42" stroke="#3a2a00" stroke-width="0.8" stroke-opacity="0.75" fill="none"/>
<line x1="538.75" y1="385.0" x2="538.75" y2="652.0" stroke="#777" stroke-width="0.7" stroke-opacity="0.7"/>
<line x1="411.0" y1="518.50" x2="666.5" y2="518.50" stroke="#777" stroke-width="0.7" stroke-opacity="0.7"/>
<path d="M455.8 387.3h0.01M425.3 394.2h0.01M433.6 402.1h0.01M446.0 405.0h0.01M438.9 409.0h0.01M463.3 407.2h0.01M480.9 401.3h0.01M517.3 397.3h0.01M503.5 405.2h0.01M501.6 415.1h0.01M488.4 417.4h0.01M484.6 421.8h0.01M468.5 421.8h0.01M427.1 423.4h0.01M485.0 428.9h0.01M487.0 432.8h0.01M506.7 431.2h0.01M496.1 438.7h0.01M498.6 440.3h0.01M501.6 443.5h0.01M500.4 439.1h0.01M428.3 437.7h0.01M421.2 441.7h0.01M413.3 449.0h0.01M471.6 446.6h0.01M509.1 448.6h0.01M492.5 452.9h0.01M504.3 454.9h0.01M507.5 456.1h0.01M453.5 453.9h0.01M435.2 460.0h0.01M435.2 466.7h0.01M453.9 466.7h0.01M490.1 462.8h0.01M495.3 467.3h0.01M430.2 474.2h0.01M466.5 474.6h0.01M473.0 472.6h0.01M485.8 473.2h0.01M484.8 483.5h0.01M485.8 482.9h0.01M490.7 486.4h0.01M463.3 487.4h0.01M445.8 492.7h0.01M457.8 496.7h0.01M465.1 495.3h0.01M479.9 494.7h0.01M482.3 496.7h0.01M481.1 493.9h0.01M490.3 496.3h0.01M493.3 497.9h0.01M497.2 498.6h0.01M491.3 499.8h0.01M484.2 501.2h0.01M493.3 503.8h0.01M495.9 506.1h0.01M495.3 509.1h0.01M468.5 511.3h0.01M473.0 507.1h0.01M427.9 510.1h0.01M433.8 509.3h0.01M432.6 513.6h0.01M442.4 511.7h0.01M443.6 508.5h0.01M479.9 511.7h0.01M484.8 510.7h0.01M457.2 517.0h0.01M463.7 517.0h0.01M479.9 518.0h0.01M484.8 518.0h0.01M492.7 518.0h0.01M486.6 520.7h0.01M494.0 524.7h0.01M491.3 529.0h0.01M498.7 528.7h0.01M459.0 533.4h0.01M464.4 530.8h0.01M465.1 533.9h0.01M483.9 530.4h0.01M480.5 536.1h0.01M495.3 535.2h0.01M433.5 534.8h0.01M438.6 533.0h0.01M445.6 534.4h0.01M434.2 540.2h0.01M462.4 540.6h0.01M467.8 540.4h0.01M472.7 539.8h0.01M496.0 537.5h0.01M494.0 540.2h0.01M491.9 543.3h0.01M472.2 546.9h0.01M479.9 545.1h0.01M497.3 545.5h0.01M494.0 548.6h0.01M498.7 548.9h0.01M488.6 553.6h0.01M449.9 555.6h0.01M435.5 560.3h0.01M494.3 524.7h0.01M498.4 528.7h0.01M503.7 526.1h0.01M506.4 528.1h0.01M501.1 536.1h0.01M510.5 536.8h0.01M495.0 536.1h0.01M495.7 540.8h0.01M498.4 545.5h0.01M501.1 544.9h0.01M494.3 548.2h0.01M498.4 552.9h0.01M503.1 555.6h0.01M509.1 555.6h0.01M510.5 555.6h0.01M515.2 554.5h0.01M503.1 561.2h0.01M525.2 552.9h0.01M531.9 551.3h0.01M530.6 560.7h0.01M567.7 466.7h0.01M576.8 468.3h0.01M569.5 483.3h0.01M572.3 485.9h0.01M568.3 490.0h0.01M584.9 490.5h0.01M570.2 502.4h0.01M435.5 560.7h0.01M451.6 579.7h0.01M479.9 624.2h0.01M483.9 638.6h0.01M480.1 641.7h0.01M503.1 561.3h0.01M505.8 575.0h0.01" stroke="#2f7fa8" stroke-width="3.6" stroke-linecap="round" fill="none"/>
<path d="M455.8 387.3h0.01M425.3 394.2h0.01M433.6 402.1h0.01M446.0 405.0h0.01M438.9 409.0h0.01M463.3 407.2h0.01M480.9 401.3h0.01M517.3 397.3h0.01M503.5 405.2h0.01M501.6 415.1h0.01M488.4 417.4h0.01M484.6 421.8h0.01M468.5 421.8h0.01M427.1 423.4h0.01M485.0 428.9h0.01M487.0 432.8h0.01M506.7 431.2h0.01M496.1 438.7h0.01M498.6 440.3h0.01M501.6 443.5h0.01M500.4 439.1h0.01M428.3 437.7h0.01M421.2 441.7h0.01M413.3 449.0h0.01M471.6 446.6h0.01M509.1 448.6h0.01M492.5 452.9h0.01M504.3 454.9h0.01M507.5 456.1h0.01M453.5 453.9h0.01M435.2 460.0h0.01M435.2 466.7h0.01M453.9 466.7h0.01M490.1 462.8h0.01M495.3 467.3h0.01M430.2 474.2h0.01M466.5 474.6h0.01M473.0 472.6h0.01M485.8 473.2h0.01M484.8 483.5h0.01M485.8 482.9h0.01M490.7 486.4h0.01M463.3 487.4h0.01M445.8 492.7h0.01M457.8 496.7h0.01M465.1 495.3h0.01M479.9 494.7h0.01M482.3 496.7h0.01M481.1 493.9h0.01M490.3 496.3h0.01M493.3 497.9h0.01M497.2 498.6h0.01M491.3 499.8h0.01M484.2 501.2h0.01M493.3 503.8h0.01M495.9 506.1h0.01M495.3 509.1h0.01M468.5 511.3h0.01M473.0 507.1h0.01M427.9 510.1h0.01M433.8 509.3h0.01M432.6 513.6h0.01M442.4 511.7h0.01M443.6 508.5h0.01M479.9 511.7h0.01M484.8 510.7h0.01M457.2 517.0h0.01M463.7 517.0h0.01M479.9 518.0h0.01M484.8 518.0h0.01M492.7 518.0h0.01M486.6 520.7h0.01M494.0 524.7h0.01M491.3 529.0h0.01M498.7 528.7h0.01M459.0 533.4h0.01M464.4 530.8h0.01M465.1 533.9h0.01M483.9 530.4h0.01M480.5 536.1h0.01M495.3 535.2h0.01M433.5 534.8h0.01M438.6 533.0h0.01M445.6 534.4h0.01M434.2 540.2h0.01M462.4 540.6h0.01M467.8 540.4h0.01M472.7 539.8h0.01M496.0 537.5h0.01M494.0 540.2h0.01M491.9 543.3h0.01M472.2 546.9h0.01M479.9 545.1h0.01M497.3 545.5h0.01M494.0 548.6h0.01M498.7 548.9h0.01M488.6 553.6h0.01M449.9 555.6h0.01M435.5 560.3h0.01M494.3 524.7h0.01M498.4 528.7h0.01M503.7 526.1h0.01M506.4 528.1h0.01M501.1 536.1h0.01M510.5 536.8h0.01M495.0 536.1h0.01M495.7 540.8h0.01M498.4 545.5h0.01M501.1 544.9h0.01M494.3 548.2h0.01M498.4 552.9h0.01M503.1 555.6h0.01M509.1 555.6h0.01M510.5 555.6h0.01M515.2 554.5h0.01M503.1 561.2h0.01M525.2 552.9h0.01M531.9 551.3h0.01M530.6 560.7h0.01M567.7 466.7h0.01M576.8 468.3h0.01M569.5 483.3h0.01M572.3 485.9h0.01M568.3 490.0h0.01M584.9 490.5h0.01M570.2 502.4h0.01M435.5 560.7h0.01M451.6 579.7h0.01M479.9 624.2h0.01M483.9 638.6h0.01M480.1 641.7h0.01M503.1 561.3h0.01M505.8 575.0h0.01" stroke="#7fd8f2" stroke-width="2.4" stroke-linecap="round" fill="none"/>
<path d="M494.7 388.5l1.3 2.4h-2.6zM491.7 470.8l1.3 2.4h-2.6zM475.0 491.3l1.3 2.4h-2.6zM484.6 481.7l1.3 2.4h-2.6zM597.8 542.8l1.3 2.4h-2.6zM575.1 564.9l1.3 2.4h-2.6zM587.7 564.9l1.3 2.4h-2.6zM614.4 616.3l1.3 2.4h-2.6zM501.0 596.6l1.3 2.4h-2.6zM584.0 474.6l1.3 2.4h-2.6zM560.5 460.6l1.3 2.4h-2.6z" fill="#5aa0b8" stroke="#2a4a60" stroke-width="0.5"/>
<rect x="644.0" y="389.5" width="3" height="3" fill="#dd1111"/>
<text x="630.0" y="389.0" class="rl">CYS 23 (A)</text>
<rect x="577.8" y="404.0" width="3" height="3" fill="#dd1111"/>
<text x="564.5" y="403.0" class="rl">THR 50 (A)</text>
<rect x="554.7" y="424.1" width="3" height="3" fill="#dd1111"/>
<text x="541.0" y="423.5" class="rl">ILE 121 (A)</text>
<rect x="569.8" y="428.2" width="3" height="3" fill="#dd1111"/>
<text x="556.5" y="427.5" class="rl">ASP 64 (A)</text>
<rect x="566.8" y="434.2" width="3" height="3" fill="#dd1111"/>
<text x="552.5" y="433.5" class="rl">CYS 2 (A)</text>
<rect x="573.8" y="447.7" width="3" height="3" fill="#dd1111"/>
<text x="558.5" y="447.0" class="rl">ARG 166 (A)</text>
<rect x="550.3" y="463.1" width="3" height="3" fill="#dd1111"/>
<text x="535.0" y="462.5" class="rl">GLU 148 (A)</text>
<rect x="564.4" y="472.5" width="3" height="3" fill="#dd1111"/>
<text x="551.0" y="471.0" class="rl">CYS 39 (A)</text>
<rect x="611.4" y="467.8" width="3" height="3" fill="#dd1111"/>
<text x="596.8" y="467.0" class="rl">LYS 165 (A)</text>
<rect x="663.5" y="471.8" width="3" height="3" fill="#dd1111"/>
<text x="649.5" y="470.6" class="rl">VAL 13 (A)</text>
<rect x="411.4" y="489.3" width="3" height="3" fill="#dd1111"/>
<text x="411.0" y="488.4" class="rl">SER 92 (A)</text>
<rect x="411.8" y="497.7" width="3" height="3" fill="#dd1111"/>
<text x="411.0" y="496.3" class="rl">ILE 3 (A)</text>
<rect x="556.6" y="502.4" width="3" height="3" fill="#dd1111"/>
<text x="542.9" y="502.4" class="rl">PRO 68 (A)</text>
<rect x="571.8" y="507.8" width="3" height="3" fill="#dd1111"/>
<text x="554.6" y="507.3" class="rl">VAL 120 (A)</text>
<rect x="564.4" y="521.1" width="3" height="3" fill="#dd1111"/>
<text x="549.7" y="519.6" class="rl">ASP 145 (A)</text>
<rect x="563.0" y="530.4" width="3" height="3" fill="#dd1111"/>
<text x="549.7" y="527.5" class="rl">VAL 53 SER 64 (A)</text>
<rect x="634.6" y="519.5" width="3" height="3" fill="#dd1111"/>
<text x="621.3" y="518.6" class="rl">ALA 47 (A)</text>
<rect x="412.5" y="547.7" width="3" height="3" fill="#dd1111"/>
<text x="405.0" y="546.6" class="rl">ASN 4 (A)</text>
<rect x="537.8" y="548.5" width="3" height="3" fill="#dd1111"/>
<text x="523.2" y="547.0" class="rl">PRO 181 (A)</text>
<rect x="540.1" y="566.5" width="3" height="3" fill="#dd1111"/>
<text x="526.6" y="565.5" class="rl">LYS 26 (A)</text>
<rect x="574.8" y="579.7" width="3" height="3" fill="#dd1111"/>
<text x="560.8" y="578.8" class="rl">HIS 141 (A)</text>
<rect x="633.2" y="579.3" width="3" height="3" fill="#dd1111"/>
<text x="617.3" y="578.0" class="rl">GLN 167 (A)</text>
<rect x="431.7" y="583.3" width="3" height="3" fill="#dd1111"/>
<text x="418.0" y="580.5" class="rl">ALA 127 (A)</text>
<rect x="421.9" y="586.7" width="3" height="3" fill="#dd1111"/>
<text x="404.0" y="585.5" class="rl">LEU 171 (A)</text>
<rect x="553.0" y="593.4" width="3" height="3" fill="#dd1111"/>
<text x="538.0" y="592.9" class="rl">ASP 108 (A)</text>
<rect x="430.9" y="598.1" width="3" height="3" fill="#dd1111"/>
<text x="417.4" y="596.9" class="rl">CYS 41 (A)</text>
<rect x="561.1" y="610.6" width="3" height="3" fill="#dd1111"/>
<text x="547.4" y="610.4" class="rl">THR 35 (A)</text>
<rect x="502.9" y="610.9" width="3" height="3" fill="#dd1111"/>
<text x="486.0" y="609.7" class="rl">PRO 169 (A)</text>
<rect x="441.7" y="613.6" width="3" height="3" fill="#dd1111"/>
<text x="426.8" y="613.0" class="rl">ASN 102 (A)</text>
<rect x="487.8" y="634.4" width="3" height="3" fill="#dd1111"/>
<text x="474.5" y="633.0" class="rl">PRO 96 (A)</text>
<rect x="663.5" y="629.0" width="3" height="3" fill="#dd1111"/>
<text x="650.0" y="628.5" class="rl">LYS 58 (A)</text>
<text x="425.3" y="397.0" class="rg">B</text>
<text x="417.8" y="425.0" class="rg">b</text>
<text x="424.7" y="500.0" class="rg">a</text>
<text x="457.5" y="514.0" class="rg">A</text>
<text x="561.0" y="464.0" class="rg">L</text>
<text x="650.0" y="408.0" class="rg">b</text>
<text x="524.0" y="425.0" class="rt">-b</text>
<text x="649.0" y="393.0" class="rt">-b</text>
<text x="646.0" y="640.0" class="rt">-b</text>
<text x="413.0" y="621.0" class="rt">-b</text>
<text x="543.0" y="523.0" class="rt">-a</text>
<text x="561.0" y="618.5" class="rt">-p</text>
<text x="575.5" y="632.0" class="rt">p</text>
<text x="432.0" y="629.0" class="rt">b</text>
<text x="512.0" y="534.0" class="rt">-a</text>
<text x="557.0" y="585.0" class="rt">-b</text>
<rect x="411.0" y="385.0" width="255.5" height="267.0" fill="none" stroke="#555" stroke-width="0.9"/>
<line x1="407.5" y1="652.00" x2="411.0" y2="652.00" stroke="#444" stroke-width="0.8"/>
<text x="406.5" y="655.20" class="ax" text-anchor="end">-180</text>
<line x1="411.00" y1="652.0" x2="411.00" y2="655.5" stroke="#444" stroke-width="0.8"/>
<text x="411.00" y="663.50" class="ax" text-anchor="middle">-180</text>
<line x1="407.5" y1="618.62" x2="411.0" y2="618.62" stroke="#444" stroke-width="0.8"/>
<text x="406.5" y="621.83" class="ax" text-anchor="end">-135</text>
<line x1="442.94" y1="652.0" x2="442.94" y2="655.5" stroke="#444" stroke-width="0.8"/>
<text x="442.94" y="663.50" class="ax" text-anchor="middle">-135</text>
<line x1="407.5" y1="585.25" x2="411.0" y2="585.25" stroke="#444" stroke-width="0.8"/>
<text x="406.5" y="588.45" class="ax" text-anchor="end">-90</text>
<line x1="474.88" y1="652.0" x2="474.88" y2="655.5" stroke="#444" stroke-width="0.8"/>
<text x="474.88" y="663.50" class="ax" text-anchor="middle">-90</text>
<line x1="407.5" y1="551.88" x2="411.0" y2="551.88" stroke="#444" stroke-width="0.8"/>
<text x="406.5" y="555.08" class="ax" text-anchor="end">-45</text>
<line x1="506.81" y1="652.0" x2="506.81" y2="655.5" stroke="#444" stroke-width="0.8"/>
<text x="506.81" y="663.50" class="ax" text-anchor="middle">-45</text>
<line x1="407.5" y1="518.50" x2="411.0" y2="518.50" stroke="#444" stroke-width="0.8"/>
<text x="406.5" y="521.70" class="ax" text-anchor="end">0</text>
<line x1="538.75" y1="652.0" x2="538.75" y2="655.5" stroke="#444" stroke-width="0.8"/>
<text x="538.75" y="663.50" class="ax" text-anchor="middle">0</text>
<line x1="407.5" y1="485.12" x2="411.0" y2="485.12" stroke="#444" stroke-width="0.8"/>
<text x="406.5" y="488.32" class="ax" text-anchor="end">45</text>
<line x1="570.69" y1="652.0" x2="570.69" y2="655.5" stroke="#444" stroke-width="0.8"/>
<text x="570.69" y="663.50" class="ax" text-anchor="middle">45</text>
<line x1="407.5" y1="451.75" x2="411.0" y2="451.75" stroke="#444" stroke-width="0.8"/>
<text x="406.5" y="454.95" class="ax" text-anchor="end">90</text>
<line x1="602.62" y1="652.0" x2="602.62" y2="655.5" stroke="#444" stroke-width="0.8"/>
<text x="602.62" y="663.50" class="ax" text-anchor="middle">90</text>
<line x1="407.5" y1="418.38" x2="411.0" y2="418.38" stroke="#444" stroke-width="0.8"/>
<text x="406.5" y="421.57" class="ax" text-anchor="end">135</text>
<line x1="634.56" y1="652.0" x2="634.56" y2="655.5" stroke="#444" stroke-width="0.8"/>
<text x="634.56" y="663.50" class="ax" text-anchor="middle">135</text>
<line x1="407.5" y1="385.00" x2="411.0" y2="385.00" stroke="#444" stroke-width="0.8"/>
<text x="406.5" y="388.20" class="ax" text-anchor="end">180</text>
<line x1="666.50" y1="652.0" x2="666.50" y2="655.5" stroke="#444" stroke-width="0.8"/>
<text x="666.50" y="663.50" class="ax" text-anchor="middle">180</text>
<text x="539" y="675.5" class="axt" text-anchor="middle">Phi (degrees)</text>
<text transform="translate(384.2 519.5) rotate(-90)" class="axt" text-anchor="middle">Psi (degrees)</text>
<polygon points="96.0,745.0 100.0,748.0 110.0,757.0 120.0,764.0 130.0,770.0 140.0,774.0 152.0,778.0 172.0,785.0 193.0,798.0 200.0,806.0 221.0,819.0 242.0,829.0 263.0,842.0 285.0,855.0 306.0,864.0 318.0,872.0 319.0,886.6 306.0,892.0 285.0,894.0 263.0,898.0 242.0,894.0 221.0,888.0 200.0,884.0 172.0,876.0 152.0,865.0 131.0,857.0 110.0,855.0 100.0,856.0 97,830" fill="#adc1df"/>
<path d="M208.3 804.3h0.01M221.9 816.8h0.01M142.4 769.9h0.01M120.2 760.1h0.01M119.3 853.8h0.01M338.6 889.0h0.01M248.4 832.7h0.01M100.7 748.7h0.01M156.5 780.5h0.01M211.1 809.0h0.01M254.5 829.1h0.01M260.0 836.5h0.01M341.9 891.9h0.01M174.6 762.6h0.01M168.1 785.4h0.01M305.3 856.1h0.01M332.7 858.2h0.01M148.6 872.2h0.01M194.8 797.9h0.01M251.8 893.6h0.01M178.8 877.1h0.01M283.5 856.5h0.01M111.7 854.5h0.01M140.7 773.0h0.01M277.0 850.7h0.01M255.4 833.7h0.01M163.4 870.1h0.01M294.6 856.5h0.01M194.0 881.6h0.01M254.9 832.6h0.01M160.5 867.4h0.01M177.9 788.1h0.01M240.4 828.8h0.01M244.9 809.1h0.01M216.0 811.2h0.01M310.2 855.5h0.01M298.2 845.1h0.01M143.7 861.8h0.01M330.7 885.3h0.01M200.7 806.7h0.01M106.5 853.3h0.01M160.2 873.2h0.01M243.7 825.4h0.01M113.9 755.6h0.01M234.6 891.8h0.01M322.7 860.1h0.01M163.2 780.6h0.01M111.9 756.7h0.01M129.4 766.9h0.01M316.2 883.0h0.01M267.0 845.2h0.01M101.4 854.2h0.01M269.4 900.0h0.01M215.6 885.2h0.01M175.5 879.0h0.01M278.3 895.0h0.01M278.3 895.1h0.01M183.6 885.4h0.01M318.6 874.7h0.01M291.5 895.9h0.01M191.1 794.0h0.01M246.8 814.2h0.01M313.4 898.0h0.01M192.6 883.1h0.01M303.2 860.1h0.01M281.6 846.3h0.01M153.6 866.1h0.01M219.3 813.7h0.01M99.8 748.9h0.01M263.8 834.5h0.01M259.4 823.2h0.01M316.4 883.3h0.01M145.8 773.6h0.01M313.5 848.2h0.01M240.4 823.1h0.01M302.9 893.3h0.01M272.0 894.3h0.01M207.9 807.7h0.01M149.7 774.4h0.01M174.6 877.6h0.01M338.6 860.7h0.01M104.7 859.1h0.01M237.4 825.2h0.01M291.7 853.1h0.01M103.1 856.5h0.01M155.4 772.6h0.01M206.8 808.9h0.01M258.1 900.4h0.01M146.0 776.0h0.01M141.0 767.4h0.01M141.1 775.2h0.01M182.1 881.8h0.01M283.0 854.6h0.01M291.8 898.8h0.01M274.7 839.3h0.01M208.6 806.1h0.01M236.9 892.1h0.01M293.0 896.4h0.01M147.4 862.1h0.01M298.3 861.8h0.01M318.4 894.4h0.01M229.1 890.5h0.01M175.8 876.9h0.01M117.4 761.1h0.01M232.4 889.7h0.01M296.0 862.0h0.01M293.8 852.3h0.01M131.6 764.7h0.01M224.1 889.7h0.01M329.7 900.1h0.01M118.2 758.9h0.01M226.6 822.3h0.01M225.6 892.5h0.01M234.8 813.9h0.01M318.5 890.0h0.01M335.2 885.0h0.01M146.4 770.4h0.01M220.8 795.4h0.01M223.9 818.3h0.01M294.1 846.1h0.01M113.2 761.3h0.01M198.8 884.0h0.01M213.4 813.2h0.01M203.7 885.9h0.01M175.0 784.2h0.01M249.0 897.6h0.01M102.6 747.6h0.01M152.9 864.6h0.01M249.5 827.7h0.01M276.8 845.1h0.01M145.6 778.1h0.01M204.4 801.6h0.01M136.3 771.3h0.01M252.3 818.7h0.01M247.5 894.0h0.01M154.2 866.9h0.01M174.7 773.7h0.01M324.0 898.7h0.01M315.3 868.5h0.01M160.8 772.3h0.01M301.7 863.4h0.01M196.1 882.4h0.01M101.4 748.0h0.01M335.2 881.8h0.01M283.5 836.6h0.01M265.7 841.8h0.01M106.2 755.2h0.01M223.6 818.9h0.01M147.2 862.7h0.01M340.6 861.4h0.01M112.2 859.3h0.01M177.4 787.7h0.01M223.8 821.5h0.01M269.5 894.7h0.01M141.6 776.6h0.01M145.0 771.8h0.01M223.1 808.4h0.01M270.3 898.6h0.01M251.8 828.0h0.01M338.7 869.7h0.01M321.2 888.7h0.01M297.4 855.9h0.01M317.6 884.3h0.01M285.7 896.7h0.01M114.4 758.3h0.01M212.3 807.7h0.01M250.5 825.5h0.01M329.4 873.3h0.01M259.3 832.5h0.01M284.4 892.4h0.01M102.6 752.6h0.01M195.8 796.9h0.01M145.1 774.3h0.01M319.8 878.2h0.01M334.9 905.0h0.01M254.0 895.5h0.01M115.7 763.4h0.01M325.8 878.3h0.01M138.6 774.1h0.01M247.3 825.0h0.01M226.6 820.6h0.01M186.9 790.7h0.01M166.7 874.9h0.01M169.8 786.7h0.01M135.5 857.4h0.01M192.9 879.5h0.01M340.2 860.4h0.01M319.8 877.1h0.01M336.4 882.6h0.01M327.6 878.6h0.01M337.8 886.5h0.01M125.3 768.0h0.01M209.1 803.2h0.01M127.6 768.9h0.01M261.3 842.4h0.01M200.2 886.8h0.01M227.6 893.6h0.01M155.6 778.5h0.01M316.6 881.8h0.01M185.4 791.5h0.01M242.6 820.0h0.01M282.3 855.7h0.01M322.3 861.0h0.01M112.0 748.0h0.01M201.6 800.4h0.01M114.8 759.3h0.01M263.4 838.1h0.01M214.7 810.7h0.01M181.6 877.1h0.01M126.5 855.4h0.01M250.4 894.1h0.01M160.5 871.3h0.01M187.8 789.8h0.01M232.0 888.9h0.01M323.5 873.8h0.01M120.9 855.0h0.01M235.8 826.6h0.01M265.6 845.4h0.01M149.5 777.1h0.01M117.1 763.3h0.01M166.6 774.5h0.01M185.0 878.6h0.01M271.5 845.8h0.01M323.0 894.7h0.01M204.7 883.6h0.01M195.3 883.4h0.01M317.1 872.5h0.01M186.9 790.2h0.01M145.0 774.4h0.01M293.1 854.3h0.01M140.4 862.5h0.01M313.7 857.1h0.01M230.9 824.5h0.01M334.7 895.9h0.01M112.8 761.0h0.01M117.1 854.8h0.01M318.2 882.3h0.01M132.4 856.8h0.01M151.2 864.6h0.01M225.3 889.6h0.01M335.2 881.2h0.01M229.2 890.1h0.01M271.2 900.3h0.01M261.0 899.1h0.01M295.3 898.2h0.01M254.5 823.0h0.01M271.7 897.6h0.01M133.0 857.2h0.01M340.8 865.0h0.01M147.3 774.5h0.01M111.6 748.9h0.01M125.2 769.1h0.01M112.3 758.3h0.01M240.7 893.0h0.01M142.4 776.6h0.01M154.9 866.5h0.01M142.5 774.9h0.01M139.4 859.6h0.01M298.0 851.4h0.01M161.1 870.6h0.01M231.6 890.4h0.01M215.7 795.6h0.01M294.1 854.0h0.01M226.8 819.6h0.01M258.8 811.8h0.01M99.7 745.3h0.01M272.5 837.2h0.01M135.7 772.8h0.01M310.8 861.1h0.01M253.7 894.2h0.01M134.1 860.6h0.01M97.3 857.7h0.01M117.3 757.2h0.01M273.3 839.4h0.01M332.1 897.3h0.01M171.7 873.9h0.01M199.6 887.7h0.01M148.3 772.8h0.01M226.3 819.8h0.01M173.4 782.6h0.01M172.2 786.1h0.01M266.0 837.1h0.01M194.0 785.6h0.01M257.9 837.4h0.01M189.8 879.0h0.01M209.7 802.3h0.01M340.9 866.9h0.01M248.6 826.7h0.01M170.4 780.3h0.01M193.5 800.8h0.01M276.9 846.1h0.01M329.5 890.1h0.01M178.6 877.2h0.01M120.2 765.1h0.01M271.2 833.8h0.01M242.8 821.0h0.01M152.7 775.9h0.01M114.9 855.8h0.01M202.0 800.4h0.01M299.0 849.9h0.01M178.5 783.6h0.01M269.2 894.8h0.01M291.3 858.7h0.01M178.4 790.5h0.01M257.1 832.3h0.01M291.0 894.2h0.01M247.4 832.6h0.01M231.9 805.2h0.01M220.1 814.2h0.01M223.9 897.8h0.01M302.5 851.8h0.01M145.7 775.4h0.01M157.2 780.3h0.01M325.5 877.9h0.01M127.5 857.5h0.01M130.4 859.4h0.01M234.8 824.6h0.01M320.7 889.9h0.01M245.0 829.6h0.01M317.7 880.1h0.01M301.4 857.2h0.01M231.8 820.5h0.01M339.8 889.3h0.01M172.7 787.0h0.01M278.5 838.5h0.01M101.0 747.4h0.01M212.1 806.6h0.01M139.7 771.3h0.01M161.9 778.9h0.01M106.3 750.8h0.01M132.6 858.8h0.01M198.2 800.5h0.01M266.6 894.9h0.01M341.7 899.3h0.01M197.6 795.5h0.01M236.2 894.7h0.01M203.3 882.9h0.01M175.9 787.4h0.01M277.1 831.6h0.01M282.0 852.5h0.01M127.6 769.9h0.01M220.6 806.7h0.01M226.5 819.2h0.01M172.3 787.5h0.01M321.2 884.5h0.01M310.2 864.1h0.01M295.1 861.6h0.01M319.2 888.3h0.01M127.5 764.0h0.01M330.9 869.3h0.01M170.6 772.2h0.01M297.6 854.8h0.01M184.7 793.4h0.01M318.0 877.5h0.01M326.7 878.5h0.01M147.8 778.6h0.01M324.0 867.0h0.01M303.1 859.2h0.01M313.4 888.7h0.01M146.7 774.0h0.01M109.3 750.3h0.01M275.5 835.6h0.01M272.4 838.2h0.01M268.2 896.1h0.01M151.9 779.6h0.01M271.8 846.6h0.01M260.5 897.7h0.01M188.6 789.4h0.01M153.3 775.1h0.01M325.0 870.3h0.01M254.4 828.5h0.01M227.0 823.2h0.01M108.2 757.1h0.01M294.6 854.2h0.01M167.1 870.9h0.01M231.8 818.6h0.01M317.7 861.1h0.01M210.6 890.4h0.01M220.0 805.6h0.01M233.8 818.3h0.01M289.6 848.2h0.01M221.4 887.6h0.01M331.1 893.3h0.01M137.6 769.0h0.01M154.9 779.8h0.01M291.6 842.9h0.01M217.3 809.1h0.01M105.7 753.2h0.01M272.8 845.9h0.01M134.3 771.7h0.01M219.0 813.0h0.01M293.4 858.3h0.01M320.2 879.6h0.01M291.7 855.1h0.01M107.4 754.2h0.01M249.8 835.1h0.01M118.8 858.6h0.01M139.2 771.3h0.01M301.4 895.1h0.01M112.0 758.8h0.01M335.8 881.0h0.01M284.3 893.7h0.01M132.6 773.5h0.01M156.2 865.9h0.01M131.8 771.5h0.01M115.8 758.8h0.01M342.0 893.3h0.01M153.5 776.3h0.01M210.5 884.5h0.01M186.5 785.1h0.01M106.8 755.9h0.01M256.8 832.2h0.01M309.6 854.9h0.01M315.0 854.5h0.01M190.8 883.7h0.01M150.0 776.5h0.01M137.3 768.7h0.01M149.8 777.2h0.01M341.4 899.6h0.01M147.3 772.5h0.01M114.9 855.1h0.01M101.6 749.4h0.01M161.5 773.9h0.01M163.1 779.1h0.01M134.8 860.3h0.01M275.0 898.6h0.01M102.0 751.0h0.01M314.1 866.4h0.01M286.6 848.8h0.01M155.6 779.5h0.01M134.1 769.3h0.01M201.3 807.8h0.01M130.5 854.9h0.01M260.9 827.1h0.01M147.4 777.5h0.01M192.1 883.2h0.01M152.6 778.1h0.01M107.0 754.3h0.01M252.1 827.9h0.01M170.3 767.8h0.01M323.1 886.1h0.01M261.0 897.1h0.01M252.6 832.7h0.01M202.2 801.5h0.01M177.7 788.2h0.01M165.8 778.6h0.01M138.0 771.9h0.01M156.0 778.0h0.01M134.1 769.1h0.01M269.5 847.7h0.01M193.3 799.0h0.01M112.5 756.1h0.01M241.1 827.1h0.01M177.1 783.5h0.01M316.4 868.8h0.01M261.3 842.1h0.01M212.4 807.4h0.01M238.7 891.6h0.01M286.8 850.8h0.01M199.2 801.3h0.01M301.1 896.4h0.01M106.4 749.8h0.01M221.7 804.3h0.01M133.9 762.0h0.01M153.2 863.2h0.01M230.8 825.7h0.01M155.9 776.8h0.01M250.6 826.6h0.01M301.5 891.8h0.01M315.0 861.5h0.01M273.1 897.7h0.01M299.8 840.1h0.01M249.9 827.6h0.01M167.3 872.4h0.01M228.4 825.0h0.01M140.7 771.4h0.01M128.0 769.0h0.01M270.4 846.9h0.01M208.1 885.4h0.01M310.1 889.1h0.01M110.1 751.6h0.01M193.5 880.0h0.01M158.9 868.0h0.01M283.8 894.9h0.01M300.8 850.5h0.01M250.3 896.1h0.01M294.1 850.8h0.01M153.8 774.2h0.01M100.4 740.9h0.01M129.9 858.2h0.01M200.1 791.9h0.01M340.2 892.1h0.01M126.1 762.7h0.01M167.4 873.0h0.01M178.2 791.2h0.01M230.5 820.0h0.01M293.9 893.1h0.01M166.8 776.4h0.01M338.3 891.0h0.01M231.3 893.0h0.01M133.1 763.5h0.01M158.8 772.8h0.01M126.6 763.6h0.01M132.3 772.6h0.01M164.4 778.0h0.01M160.9 782.8h0.01M112.8 853.4h0.01M141.9 774.8h0.01M342.3 900.0h0.01M216.1 815.0h0.01M111.2 756.0h0.01M258.6 837.8h0.01M309.7 898.2h0.01M206.0 883.0h0.01M103.6 751.2h0.01M126.2 764.6h0.01M173.3 778.3h0.01M99.6 749.6h0.01M226.7 887.3h0.01M291.9 896.7h0.01M300.6 894.3h0.01M339.5 903.7h0.01M196.0 880.4h0.01M102.8 743.9h0.01M152.9 774.2h0.01M296.4 851.7h0.01M254.0 834.9h0.01M176.1 773.4h0.01M179.4 877.2h0.01M231.4 894.9h0.01M140.6 773.2h0.01M203.0 803.7h0.01M220.6 815.9h0.01M331.3 897.9h0.01M175.9 879.1h0.01M123.7 863.1h0.01M151.0 773.0h0.01M270.7 846.8h0.01M330.1 866.6h0.01M184.9 883.1h0.01M133.4 768.0h0.01M149.2 773.1h0.01M315.4 891.2h0.01M236.7 820.4h0.01M303.0 895.4h0.01M200.2 804.7h0.01M153.6 773.8h0.01M104.9 752.7h0.01M206.9 794.8h0.01M134.4 766.8h0.01M341.2 872.2h0.01M278.2 899.3h0.01M128.2 858.9h0.01M217.8 811.8h0.01M327.7 892.5h0.01M222.9 890.9h0.01M112.9 853.5h0.01M295.6 854.6h0.01M228.9 888.8h0.01M255.4 832.1h0.01M233.5 892.1h0.01M293.8 890.8h0.01M286.6 843.4h0.01M134.3 768.5h0.01M121.7 761.8h0.01M302.1 848.4h0.01M141.7 772.1h0.01M318.8 895.1h0.01M147.9 771.9h0.01M312.6 890.3h0.01M203.0 797.5h0.01M180.5 788.3h0.01M245.4 894.5h0.01M141.4 774.6h0.01M128.8 766.0h0.01M328.5 874.0h0.01M145.3 862.3h0.01M185.6 783.3h0.01M197.4 799.2h0.01M298.8 855.7h0.01M209.4 806.1h0.01M270.1 845.4h0.01M239.5 824.6h0.01M307.2 861.0h0.01M208.9 888.2h0.01M244.9 822.6h0.01M112.8 760.5h0.01M331.8 889.8h0.01M262.3 833.5h0.01M198.2 801.1h0.01M200.5 804.6h0.01M298.8 894.4h0.01M121.5 856.3h0.01M118.7 760.0h0.01M261.6 832.3h0.01M317.9 860.8h0.01M252.7 830.9h0.01M174.7 782.6h0.01M246.0 904.6h0.01M194.2 881.7h0.01M256.9 895.8h0.01M210.7 815.1h0.01M258.4 834.8h0.01M188.0 797.0h0.01M194.1 881.9h0.01M256.6 837.5h0.01M279.5 848.2h0.01M287.9 843.7h0.01M212.3 801.4h0.01M317.4 872.2h0.01M228.8 806.7h0.01M124.4 855.4h0.01M127.6 765.0h0.01M128.9 767.3h0.01M288.3 858.3h0.01M198.8 805.2h0.01M234.3 817.1h0.01M306.3 863.2h0.01M335.7 877.0h0.01M247.6 894.4h0.01M334.1 858.5h0.01M134.8 856.6h0.01M135.5 765.6h0.01M104.0 750.7h0.01M255.2 903.9h0.01M108.3 755.0h0.01M124.5 855.3h0.01M177.9 781.8h0.01M329.8 880.5h0.01M319.4 870.6h0.01M278.9 836.7h0.01M187.5 789.3h0.01M202.9 809.0h0.01M109.2 857.1h0.01M231.7 822.0h0.01M151.8 776.5h0.01M216.1 812.3h0.01M281.4 845.2h0.01M334.7 885.9h0.01M333.4 885.9h0.01M187.7 796.8h0.01M246.9 829.8h0.01M224.0 890.7h0.01M110.0 759.5h0.01M292.7 852.9h0.01M308.6 864.0h0.01M118.0 859.1h0.01M301.6 857.0h0.01M290.9 843.2h0.01M111.0 857.9h0.01M232.8 890.5h0.01M254.1 823.7h0.01M239.6 823.7h0.01M278.3 841.3h0.01M322.5 889.4h0.01M205.4 892.9h0.01M189.9 794.7h0.01M175.7 875.3h0.01M114.6 759.2h0.01M231.8 813.9h0.01M126.1 763.7h0.01M323.9 875.6h0.01M228.9 889.2h0.01M127.3 855.1h0.01M203.3 810.1h0.01M262.9 901.6h0.01M192.4 879.6h0.01M122.9 856.4h0.01M146.7 771.5h0.01M137.3 769.5h0.01M192.6 794.6h0.01M304.2 855.8h0.01M338.2 891.1h0.01M154.5 777.5h0.01M276.7 852.4h0.01M299.9 860.3h0.01M273.3 841.1h0.01M337.0 879.4h0.01M216.8 810.4h0.01M282.3 849.1h0.01M105.6 860.2h0.01M236.7 826.1h0.01M330.9 894.4h0.01M121.0 855.5h0.01M150.7 771.3h0.01M126.7 855.3h0.01M240.3 896.4h0.01M186.5 880.5h0.01M273.8 840.8h0.01M162.1 775.1h0.01M102.0 752.2h0.01M159.2 777.2h0.01M216.3 816.8h0.01M222.3 889.0h0.01M136.4 859.9h0.01M230.8 892.6h0.01M228.5 810.0h0.01M160.9 777.7h0.01M327.4 891.9h0.01M154.4 773.9h0.01M329.1 883.1h0.01M182.8 784.6h0.01M330.7 900.3h0.01M258.7 838.0h0.01M236.1 826.0h0.01M340.3 899.9h0.01M112.1 759.9h0.01M237.4 890.6h0.01M265.5 896.1h0.01M116.0 758.0h0.01M142.4 772.9h0.01M145.6 863.8h0.01M199.6 799.0h0.01M234.2 891.5h0.01M235.1 825.4h0.01M269.7 897.7h0.01M337.1 902.0h0.01M308.2 893.7h0.01M242.3 892.1h0.01M247.7 831.2h0.01M224.7 887.3h0.01M104.8 747.6h0.01M102.9 745.5h0.01M301.1 895.2h0.01M283.3 892.5h0.01M97.2 745.5h0.01M302.0 838.6h0.01M179.5 778.5h0.01M161.5 782.7h0.01M226.4 819.1h0.01M154.7 867.9h0.01M140.2 776.4h0.01M289.8 848.1h0.01M155.6 781.2h0.01M159.7 871.6h0.01M142.4 775.6h0.01M275.7 843.5h0.01M291.4 845.3h0.01M157.1 776.8h0.01M198.9 883.8h0.01M321.1 874.1h0.01M130.3 857.2h0.01M289.4 857.0h0.01M167.6 779.0h0.01M279.4 853.5h0.01M219.7 819.2h0.01M113.0 854.5h0.01M313.0 890.5h0.01M326.1 897.2h0.01M131.9 857.3h0.01M130.4 771.4h0.01M314.1 892.3h0.01M188.6 794.9h0.01M164.2 871.5h0.01M182.5 791.7h0.01M172.5 781.1h0.01M229.9 817.2h0.01M284.5 853.3h0.01M151.8 779.6h0.01M173.1 878.0h0.01M136.4 771.9h0.01M236.8 821.9h0.01M210.1 790.2h0.01M305.1 857.4h0.01M337.6 894.2h0.01M195.5 783.8h0.01M137.1 775.0h0.01M101.8 749.3h0.01M293.6 854.8h0.01M141.9 771.6h0.01M171.9 786.8h0.01M187.9 785.7h0.01M250.5 823.9h0.01M239.9 814.2h0.01M229.9 814.8h0.01M154.4 871.5h0.01M306.8 891.9h0.01M339.2 865.4h0.01M275.0 841.4h0.01M240.6 823.1h0.01M120.8 854.6h0.01M182.4 775.6h0.01M223.5 822.3h0.01M97.4 747.9h0.01M252.4 825.0h0.01M119.1 758.8h0.01M335.7 878.8h0.01M117.8 853.9h0.01M154.7 864.9h0.01M319.1 875.1h0.01M233.6 892.0h0.01M217.5 814.6h0.01M220.7 802.8h0.01M145.3 772.6h0.01M337.8 890.5h0.01M293.2 897.0h0.01M296.2 893.7h0.01M171.6 774.9h0.01M323.2 879.3h0.01M181.4 883.0h0.01M326.4 861.6h0.01M261.1 829.3h0.01M338.6 872.2h0.01M142.7 859.6h0.01M250.2 807.6h0.01M275.8 840.5h0.01M290.2 896.1h0.01M237.0 893.1h0.01M191.6 792.0h0.01M102.6 752.0h0.01M257.8 897.3h0.01M267.8 844.1h0.01M143.1 773.0h0.01M265.8 899.4h0.01M321.2 895.2h0.01M249.4 900.9h0.01M287.4 856.3h0.01M217.0 807.3h0.01M309.2 851.3h0.01M158.4 780.8h0.01M239.9 828.7h0.01M109.8 757.8h0.01M226.6 889.8h0.01M197.1 798.1h0.01M213.6 887.2h0.01M265.7 898.0h0.01M233.5 807.5h0.01M158.8 777.2h0.01M342.3 865.9h0.01M285.5 850.3h0.01M164.1 873.2h0.01M275.8 850.5h0.01M270.7 834.7h0.01M203.4 788.1h0.01M315.6 865.8h0.01M114.5 760.9h0.01M128.5 766.1h0.01M238.0 895.1h0.01M264.6 837.2h0.01M108.4 853.6h0.01M213.5 814.5h0.01M114.9 760.7h0.01M331.6 880.3h0.01M241.6 830.4h0.01M339.0 871.9h0.01M151.4 866.4h0.01M195.1 880.3h0.01M160.3 868.2h0.01M187.0 788.0h0.01M208.4 806.8h0.01M171.7 876.2h0.01M209.0 806.5h0.01M189.5 881.5h0.01M337.2 876.7h0.01M262.1 897.2h0.01M330.6 888.2h0.01M204.0 796.9h0.01M152.6 873.7h0.01M181.1 878.8h0.01M101.1 751.2h0.01M247.9 827.5h0.01M195.0 883.0h0.01M111.7 751.1h0.01M299.0 894.3h0.01M272.2 897.2h0.01M280.7 854.8h0.01M235.1 812.6h0.01M339.8 895.3h0.01M176.9 877.9h0.01M236.5 826.4h0.01M218.8 805.3h0.01M260.2 827.7h0.01M295.3 853.6h0.01M210.2 804.6h0.01M340.8 904.1h0.01M183.7 879.9h0.01M267.2 896.3h0.01M300.8 862.9h0.01M229.2 816.1h0.01M189.1 793.8h0.01M311.7 891.3h0.01M158.4 780.6h0.01M292.3 891.9h0.01M162.0 783.4h0.01M298.4 891.1h0.01M149.0 862.5h0.01M313.1 860.3h0.01M213.6 800.4h0.01M237.2 822.7h0.01M339.8 867.8h0.01M249.4 827.2h0.01M205.3 809.9h0.01M300.6 891.1h0.01M184.4 879.2h0.01M150.2 863.8h0.01M186.6 792.3h0.01M273.8 849.7h0.01M303.9 862.2h0.01M240.5 821.8h0.01M339.2 899.3h0.01M112.4 760.0h0.01M102.1 854.7h0.01M261.1 898.0h0.01M176.3 787.7h0.01M184.5 785.0h0.01M158.2 782.6h0.01M173.4 787.0h0.01M163.1 779.8h0.01M222.9 813.1h0.01M315.2 892.2h0.01M267.3 836.8h0.01M198.6 796.9h0.01M227.1 824.1h0.01M291.0 891.1h0.01M171.1 785.6h0.01M292.9 859.4h0.01M310.7 891.3h0.01M265.2 895.3h0.01M194.8 792.9h0.01M313.6 894.8h0.01M115.3 758.7h0.01M335.9 882.2h0.01M173.2 886.0h0.01M115.6 854.3h0.01M100.3 746.4h0.01M124.2 764.3h0.01M328.1 891.2h0.01M242.6 826.7h0.01M318.5 867.6h0.01M207.0 803.6h0.01M179.8 791.3h0.01M151.1 779.3h0.01M149.7 779.3h0.01M332.6 862.8h0.01M253.7 829.7h0.01M297.3 890.4h0.01M105.4 854.3h0.01M131.6 769.9h0.01M213.5 884.5h0.01M176.0 787.7h0.01M253.2 832.8h0.01M327.1 882.4h0.01M191.2 879.1h0.01M142.6 767.6h0.01M335.2 871.0h0.01M322.7 862.0h0.01M142.9 774.5h0.01M269.3 901.8h0.01M261.7 831.9h0.01M218.4 809.3h0.01M218.0 816.6h0.01M103.9 853.4h0.01M188.3 790.9h0.01M322.0 878.5h0.01M219.9 889.6h0.01M236.0 822.7h0.01M116.2 859.1h0.01M105.2 747.2h0.01M249.4 894.5h0.01M284.2 898.7h0.01M133.3 770.5h0.01M106.2 753.1h0.01M118.3 761.9h0.01M305.2 863.8h0.01M124.7 768.6h0.01M144.0 775.1h0.01M138.4 767.8h0.01M228.7 817.5h0.01M222.0 811.5h0.01M213.7 812.2h0.01M179.6 788.7h0.01M315.4 859.9h0.01M328.2 875.1h0.01M271.2 841.5h0.01M270.9 897.2h0.01M169.0 872.7h0.01M289.9 893.3h0.01M193.8 880.9h0.01M285.3 841.3h0.01M310.0 865.8h0.01M245.9 896.5h0.01M315.9 891.0h0.01M303.5 860.0h0.01M196.3 803.1h0.01M129.4 859.6h0.01M165.8 781.4h0.01M246.3 815.5h0.01M339.8 874.9h0.01M267.7 840.9h0.01M305.9 857.9h0.01M97.3 747.2h0.01M97.5 746.7h0.01M253.9 808.4h0.01M273.1 834.6h0.01M307.7 890.0h0.01M200.6 802.6h0.01M279.4 849.0h0.01M265.6 840.7h0.01M146.9 762.6h0.01M136.9 772.1h0.01M276.8 849.4h0.01M262.9 897.2h0.01M105.8 755.0h0.01M299.8 897.6h0.01M188.6 792.8h0.01M254.8 839.1h0.01M136.8 773.8h0.01M227.8 809.9h0.01M181.7 784.4h0.01M262.1 899.1h0.01M240.2 894.4h0.01M263.6 897.0h0.01M252.7 821.3h0.01M99.6 749.8h0.01M222.3 808.6h0.01M111.5 755.1h0.01M340.7 871.1h0.01M209.1 805.2h0.01M294.8 851.6h0.01M194.9 797.9h0.01M184.9 881.1h0.01M116.5 762.7h0.01M134.1 767.3h0.01M284.8 851.1h0.01M169.6 782.7h0.01M99.8 855.3h0.01M215.8 804.8h0.01M281.3 839.4h0.01M263.1 831.7h0.01M109.5 854.4h0.01M179.5 791.4h0.01M106.1 754.0h0.01M212.6 884.6h0.01M108.1 754.9h0.01M212.7 810.7h0.01M255.2 836.3h0.01M324.2 883.7h0.01M175.8 880.4h0.01M107.0 752.4h0.01M131.4 762.5h0.01M158.2 778.4h0.01M175.1 788.9h0.01M179.8 778.9h0.01M268.3 896.5h0.01M120.5 766.2h0.01M300.3 858.2h0.01M187.8 791.0h0.01M336.8 863.6h0.01M269.9 835.6h0.01M246.7 896.9h0.01M335.5 888.6h0.01M189.1 789.9h0.01M183.7 785.9h0.01M305.3 893.0h0.01M192.0 785.0h0.01M158.8 772.9h0.01M323.6 874.1h0.01M125.8 764.4h0.01M254.0 896.4h0.01M283.7 852.9h0.01M312.9 862.2h0.01M168.5 785.5h0.01M165.4 875.5h0.01M294.4 858.9h0.01M144.1 768.1h0.01M245.3 825.3h0.01M208.5 812.7h0.01M200.6 806.7h0.01M336.2 901.7h0.01M310.5 855.2h0.01M119.2 759.5h0.01M120.9 764.6h0.01M341.0 901.3h0.01M332.3 887.7h0.01M213.4 885.3h0.01M261.7 833.5h0.01M223.8 887.1h0.01M266.5 842.1h0.01M119.7 757.3h0.01M108.6 754.6h0.01M205.0 809.6h0.01M235.8 827.0h0.01M305.0 893.1h0.01M97.3 741.8h0.01M114.1 757.0h0.01M286.1 852.8h0.01M225.1 814.5h0.01M210.7 813.1h0.01M130.8 770.5h0.01M228.1 795.4h0.01M302.5 864.4h0.01M136.1 858.9h0.01M283.0 892.2h0.01M327.6 863.9h0.01M137.5 765.1h0.01M213.5 804.4h0.01M183.7 787.0h0.01M287.9 845.9h0.01M209.4 807.2h0.01M265.6 898.2h0.01M177.3 789.3h0.01M192.2 797.9h0.01M105.0 745.9h0.01M303.0 854.5h0.01M174.9 787.7h0.01M242.2 893.6h0.01M190.9 798.0h0.01M285.3 856.5h0.01M275.1 895.5h0.01M174.6 875.5h0.01M278.3 844.6h0.01M213.0 885.1h0.01M161.4 872.4h0.01M333.0 866.0h0.01M340.9 896.7h0.01M126.8 767.1h0.01M205.8 883.7h0.01M317.9 877.8h0.01M109.5 756.3h0.01M168.9 777.1h0.01M298.6 858.6h0.01M157.4 867.0h0.01M112.5 758.5h0.01M198.4 797.4h0.01M168.6 780.7h0.01M262.9 834.7h0.01M163.4 784.1h0.01M170.0 785.4h0.01M215.2 816.4h0.01M313.2 857.4h0.01M102.9 751.4h0.01M290.2 850.6h0.01M281.8 855.2h0.01M291.9 895.9h0.01M262.8 834.4h0.01M228.2 806.7h0.01M308.1 864.3h0.01M282.0 837.9h0.01M109.2 753.1h0.01M189.3 881.1h0.01M132.5 859.5h0.01M217.3 887.7h0.01M98.7 741.9h0.01M277.4 893.4h0.01M116.9 856.3h0.01M276.9 841.5h0.01M105.2 753.1h0.01M180.2 778.5h0.01M127.5 762.7h0.01M164.3 779.8h0.01M197.9 801.0h0.01M204.1 791.2h0.01M320.2 868.1h0.01M157.1 776.5h0.01M255.3 821.6h0.01M173.8 769.3h0.01M119.3 764.9h0.01M107.3 748.7h0.01M156.6 867.5h0.01M122.2 855.5h0.01M336.0 880.2h0.01M280.7 895.5h0.01M226.2 823.5h0.01M176.8 777.9h0.01M149.0 765.8h0.01M333.2 901.1h0.01M303.9 891.9h0.01M115.3 857.7h0.01M302.6 891.2h0.01M276.7 851.7h0.01M316.8 875.5h0.01M263.2 841.3h0.01M254.3 830.1h0.01M318.4 888.3h0.01M210.7 801.4h0.01M231.9 822.1h0.01M97.9 748.8h0.01M151.5 775.6h0.01M268.0 895.0h0.01M310.4 866.1h0.01M277.0 847.2h0.01M114.6 759.3h0.01M110.3 857.6h0.01M246.1 895.4h0.01M333.1 904.0h0.01M210.1 804.5h0.01M309.3 858.2h0.01M186.4 790.8h0.01M339.4 898.8h0.01M287.0 896.2h0.01M210.7 884.0h0.01M177.2 790.0h0.01M341.1 870.3h0.01M266.9 843.4h0.01M127.6 766.0h0.01M201.0 887.6h0.01M145.1 763.6h0.01M152.7 776.2h0.01M168.7 771.4h0.01M225.9 820.2h0.01M182.9 793.6h0.01M297.6 891.9h0.01M310.2 893.9h0.01M110.6 759.8h0.01M340.4 864.5h0.01M236.5 809.7h0.01M245.8 822.1h0.01M163.1 869.6h0.01M191.7 796.4h0.01M150.7 775.6h0.01M246.4 823.1h0.01M340.7 902.4h0.01M159.3 874.0h0.01M119.1 763.8h0.01M330.4 890.2h0.01M226.7 822.1h0.01M292.1 846.6h0.01M219.1 808.3h0.01M103.9 857.9h0.01M324.6 863.8h0.01M274.4 894.6h0.01M178.0 878.9h0.01M226.4 819.1h0.01M167.6 875.1h0.01M187.2 785.3h0.01M97.3 853.6h0.01M241.9 803.1h0.01M137.2 769.1h0.01M332.1 868.9h0.01M151.4 774.4h0.01M104.0 750.6h0.01M331.0 895.4h0.01M228.0 820.2h0.01M104.3 753.4h0.01M269.7 846.2h0.01M266.0 895.4h0.01M135.4 859.1h0.01M322.3 880.1h0.01M109.6 757.8h0.01M169.6 785.2h0.01M313.6 860.9h0.01M147.1 775.9h0.01M248.6 825.4h0.01M110.8 756.9h0.01M295.8 858.8h0.01M193.7 882.4h0.01M97.9 742.9h0.01M330.2 868.3h0.01M146.0 776.2h0.01M166.2 776.0h0.01M199.5 800.5h0.01M126.7 858.9h0.01M192.9 886.2h0.01M138.8 860.0h0.01M98.0 748.1h0.01M117.6 856.8h0.01M125.2 765.9h0.01M130.7 766.2h0.01M294.0 893.8h0.01M130.7 768.8h0.01M104.0 856.8h0.01M264.7 904.0h0.01M302.4 890.5h0.01M295.3 860.0h0.01M285.0 854.7h0.01M339.7 878.1h0.01M310.1 889.2h0.01M324.2 883.7h0.01M112.6 751.8h0.01M331.3 864.9h0.01M237.0 825.2h0.01M199.7 881.8h0.01M278.9 896.8h0.01M110.5 853.7h0.01M237.2 822.4h0.01M112.5 757.2h0.01M116.5 758.2h0.01M247.1 898.2h0.01M233.2 824.1h0.01M240.9 812.1h0.01M252.6 834.8h0.01M304.7 893.7h0.01M242.4 819.5h0.01M197.6 882.3h0.01M147.8 777.6h0.01M295.6 890.6h0.01M134.8 770.6h0.01M248.2 894.1h0.01M280.8 848.5h0.01M283.9 851.7h0.01M310.9 861.0h0.01M331.7 869.9h0.01M256.1 834.5h0.01M124.9 766.4h0.01M121.6 855.5h0.01M131.9 855.4h0.01M326.4 893.4h0.01M338.2 902.7h0.01M250.1 827.1h0.01M176.7 785.0h0.01M254.9 895.2h0.01M274.2 841.7h0.01M203.8 882.9h0.01M231.6 816.5h0.01M263.8 837.2h0.01M233.0 819.5h0.01M315.1 891.0h0.01M169.1 778.3h0.01M140.8 858.8h0.01M118.0 764.5h0.01M144.6 773.9h0.01M225.8 815.3h0.01M250.7 826.3h0.01M247.7 820.1h0.01M150.0 863.1h0.01M241.0 895.0h0.01M286.0 849.5h0.01M188.6 796.5h0.01M142.6 865.3h0.01M338.6 905.7h0.01M249.8 834.8h0.01M242.4 892.0h0.01M248.5 898.8h0.01M245.6 827.3h0.01M231.9 822.6h0.01M263.0 896.1h0.01M202.3 884.3h0.01M222.8 821.6h0.01M137.7 859.8h0.01M138.8 767.6h0.01M342.2 899.5h0.01M98.5 857.2h0.01M253.9 832.9h0.01M137.3 764.4h0.01M125.1 765.7h0.01M213.0 813.1h0.01M176.6 880.0h0.01M244.3 813.7h0.01M108.4 755.5h0.01M216.9 815.1h0.01M204.6 805.7h0.01M244.9 825.1h0.01M292.7 893.9h0.01M155.3 867.8h0.01M159.6 867.7h0.01M204.4 882.6h0.01M162.1 876.0h0.01M204.9 801.6h0.01M231.8 820.9h0.01M330.7 862.5h0.01M340.0 859.4h0.01M298.3 857.1h0.01M218.8 885.5h0.01M101.9 750.8h0.01M174.5 788.9h0.01M335.3 898.4h0.01M242.3 892.9h0.01M188.6 792.2h0.01M124.0 856.5h0.01M217.9 885.2h0.01M164.3 780.3h0.01M143.1 775.0h0.01M266.2 841.4h0.01M281.7 897.0h0.01M179.0 880.1h0.01M140.7 774.7h0.01M255.8 835.9h0.01M230.5 825.1h0.01M161.8 870.0h0.01M264.1 896.0h0.01M250.0 821.3h0.01M303.2 891.2h0.01M158.1 867.5h0.01M221.8 818.7h0.01M235.1 818.2h0.01M297.6 891.8h0.01M208.3 887.1h0.01M127.6 770.8h0.01M323.7 871.7h0.01M226.2 810.6h0.01M98.6 745.2h0.01M222.9 821.6h0.01M196.2 797.5h0.01M244.0 828.5h0.01M289.8 849.9h0.01M122.8 768.1h0.01M330.2 891.1h0.01M135.4 769.8h0.01M126.1 769.3h0.01M320.2 873.2h0.01M100.1 854.1h0.01M260.1 842.3h0.01M154.3 865.3h0.01M285.7 839.9h0.01M245.5 832.7h0.01M142.5 774.5h0.01M243.6 821.2h0.01M253.5 832.3h0.01M304.1 857.5h0.01M313.6 891.5h0.01M266.7 831.5h0.01M157.9 779.8h0.01M247.6 828.6h0.01M246.4 833.6h0.01M268.4 897.9h0.01M175.4 781.8h0.01M252.6 894.9h0.01M285.9 893.1h0.01M207.4 788.3h0.01M257.3 836.0h0.01M234.0 818.6h0.01M186.6 794.9h0.01M331.0 898.8h0.01M336.3 870.9h0.01M101.7 857.8h0.01M113.8 755.7h0.01M299.6 892.4h0.01M140.8 771.9h0.01M219.0 887.3h0.01M168.2 782.5h0.01M111.4 757.8h0.01M241.2 899.5h0.01M274.7 840.1h0.01M311.9 865.1h0.01M244.4 896.9h0.01M264.1 834.6h0.01M147.6 862.4h0.01M251.5 896.2h0.01M212.7 814.0h0.01M183.6 791.0h0.01M126.1 766.9h0.01M226.2 894.1h0.01M246.7 822.0h0.01M167.4 875.4h0.01M157.0 871.6h0.01M265.0 845.0h0.01M191.8 794.8h0.01M179.3 787.8h0.01M120.0 856.9h0.01M184.0 886.7h0.01M313.4 893.0h0.01M303.9 893.4h0.01M242.9 827.7h0.01M186.6 795.8h0.01M282.5 855.2h0.01M201.0 802.1h0.01M133.3 767.1h0.01M154.8 767.1h0.01M207.5 801.0h0.01M173.3 875.6h0.01M228.6 819.1h0.01M328.4 872.8h0.01M274.9 846.1h0.01M119.7 759.3h0.01M140.6 774.7h0.01M125.1 765.6h0.01M226.0 887.9h0.01M276.1 848.5h0.01M131.5 770.2h0.01M221.5 805.0h0.01M189.0 794.4h0.01M300.4 855.2h0.01M203.3 808.5h0.01M327.1 900.7h0.01M230.9 889.6h0.01M244.9 826.6h0.01M206.0 800.5h0.01M107.3 751.5h0.01M214.9 806.9h0.01M289.2 856.8h0.01M97.5 744.9h0.01M106.0 856.5h0.01M328.5 887.9h0.01M122.8 763.7h0.01M247.3 829.5h0.01M258.1 833.9h0.01M217.4 816.0h0.01M156.6 865.3h0.01M137.9 767.6h0.01M277.6 893.0h0.01M335.2 876.5h0.01M282.7 848.3h0.01M234.0 889.8h0.01M308.8 866.0h0.01M259.3 896.3h0.01M248.4 825.2h0.01M141.0 776.4h0.01M292.5 847.3h0.01M301.3 861.2h0.01M141.3 860.4h0.01M210.2 804.5h0.01M162.6 783.2h0.01M255.8 837.5h0.01M158.9 870.2h0.01M325.1 877.9h0.01M280.8 894.3h0.01M172.8 786.6h0.01M244.7 816.7h0.01M280.1 850.5h0.01M253.6 825.4h0.01M186.8 878.6h0.01M198.7 881.8h0.01M251.9 821.0h0.01M304.3 893.4h0.01M147.9 863.4h0.01M175.7 874.7h0.01M105.7 754.9h0.01M162.9 772.3h0.01M307.1 893.7h0.01M117.9 856.1h0.01M256.8 894.6h0.01M337.3 878.9h0.01M253.8 898.5h0.01M241.6 892.5h0.01M313.1 847.8h0.01M104.0 746.4h0.01M234.3 896.2h0.01M283.8 851.4h0.01M150.2 773.8h0.01M186.2 880.9h0.01M110.6 853.7h0.01M282.4 892.3h0.01M166.2 782.9h0.01M170.1 872.6h0.01M208.0 811.9h0.01M104.0 750.0h0.01M114.3 758.9h0.01M225.6 822.7h0.01M215.9 812.7h0.01M241.0 828.8h0.01M160.6 872.6h0.01M147.2 777.9h0.01M227.6 894.5h0.01M339.6 874.5h0.01M162.6 781.1h0.01M120.2 764.4h0.01M192.3 881.0h0.01M180.8 783.7h0.01M109.9 756.8h0.01M99.0 855.9h0.01M190.5 888.9h0.01M116.8 760.6h0.01M256.2 832.4h0.01M263.8 840.4h0.01M116.3 761.1h0.01M322.3 863.0h0.01M288.2 835.7h0.01M289.5 853.8h0.01M132.2 772.0h0.01M203.3 807.8h0.01M283.8 855.9h0.01M122.4 854.7h0.01M240.9 817.8h0.01M183.1 791.7h0.01M244.8 895.7h0.01M115.7 756.8h0.01M249.8 817.8h0.01M209.8 811.0h0.01M130.9 772.7h0.01M229.3 818.0h0.01M269.9 844.2h0.01M304.0 861.8h0.01M251.5 830.0h0.01M321.4 875.0h0.01M114.9 759.9h0.01M140.8 775.9h0.01M254.4 836.6h0.01M155.9 772.8h0.01M267.9 897.3h0.01M149.3 767.7h0.01M244.6 824.2h0.01M154.5 775.3h0.01M117.8 763.2h0.01M312.6 889.2h0.01M133.0 855.6h0.01M191.3 798.8h0.01M173.0 788.1h0.01M207.3 811.3h0.01M154.0 867.1h0.01M294.2 853.7h0.01M282.2 895.9h0.01M183.4 783.8h0.01M200.1 807.2h0.01M219.4 888.2h0.01M244.2 892.9h0.01M279.2 898.6h0.01M323.0 885.0h0.01M232.3 819.0h0.01M143.8 775.9h0.01M173.7 874.1h0.01M148.4 779.0h0.01M194.5 798.0h0.01M266.6 895.2h0.01M119.6 761.0h0.01M221.3 812.7h0.01M340.4 878.3h0.01M297.0 850.7h0.01M114.6 747.1h0.01M154.1 866.2h0.01M216.4 885.9h0.01M274.7 833.6h0.01M119.4 859.0h0.01M168.7 786.2h0.01M172.4 876.9h0.01M291.7 895.5h0.01M278.9 895.7h0.01M275.5 846.9h0.01M160.7 781.0h0.01M176.4 780.0h0.01M297.4 854.9h0.01M223.4 889.3h0.01M296.5 852.9h0.01M311.8 888.9h0.01M218.0 888.6h0.01M112.1 753.7h0.01M133.7 763.2h0.01M210.2 888.8h0.01M109.8 756.7h0.01M241.1 892.7h0.01M174.4 787.1h0.01M179.0 781.6h0.01M331.6 899.8h0.01M128.2 767.9h0.01M186.8 882.2h0.01M322.0 864.7h0.01M204.6 804.0h0.01M234.8 825.1h0.01M98.9 857.1h0.01M128.1 769.5h0.01M287.0 891.5h0.01M125.9 765.5h0.01M120.0 762.0h0.01M207.8 801.1h0.01M179.5 777.1h0.01M148.5 863.0h0.01M144.3 774.8h0.01M302.8 860.7h0.01M240.1 820.2h0.01M197.7 884.6h0.01M159.2 779.2h0.01M180.2 790.5h0.01M155.6 780.9h0.01M141.5 861.8h0.01M129.7 761.7h0.01M174.1 781.4h0.01M308.5 851.0h0.01M103.7 753.4h0.01M183.2 794.0h0.01M311.9 865.9h0.01M305.7 860.7h0.01M205.1 811.0h0.01M272.7 906.7h0.01M184.4 882.6h0.01M152.9 778.8h0.01M231.0 803.0h0.01M298.0 835.9h0.01M339.2 858.8h0.01M148.1 862.9h0.01M259.8 826.8h0.01M327.4 891.3h0.01M229.7 803.6h0.01M302.4 861.3h0.01M306.7 861.6h0.01M108.6 755.1h0.01M97.5 855.4h0.01M112.2 756.2h0.01M287.1 849.6h0.01M239.2 824.3h0.01M189.7 798.2h0.01M340.9 893.9h0.01M116.5 857.2h0.01M231.0 818.1h0.01M129.0 861.9h0.01M332.9 894.6h0.01M274.2 844.5h0.01M297.7 892.5h0.01M329.6 883.5h0.01M270.6 828.0h0.01M289.1 892.2h0.01M178.8 790.4h0.01M274.8 895.0h0.01M210.9 889.2h0.01M144.8 768.6h0.01M168.9 785.8h0.01M320.9 895.9h0.01M277.5 905.2h0.01M119.4 763.7h0.01M318.8 868.6h0.01M117.1 764.3h0.01M179.8 878.6h0.01M135.8 770.2h0.01M266.3 834.6h0.01M198.0 881.1h0.01M110.6 758.9h0.01M178.6 785.0h0.01M169.8 876.5h0.01M272.7 843.1h0.01M276.4 849.1h0.01M175.1 786.9h0.01M247.4 822.7h0.01M309.9 864.9h0.01M148.2 778.9h0.01M115.3 761.0h0.01M313.9 895.1h0.01M305.7 855.5h0.01M190.7 884.2h0.01M252.0 832.6h0.01M119.3 765.2h0.01M258.2 827.5h0.01M321.1 867.3h0.01M121.6 762.5h0.01M293.6 855.4h0.01M184.2 878.7h0.01M244.4 817.4h0.01M104.1 750.2h0.01M165.5 870.3h0.01M242.1 897.1h0.01M192.9 799.2h0.01M168.6 785.2h0.01M125.8 767.9h0.01M340.5 889.9h0.01M279.4 852.3h0.01M224.9 823.3h0.01M125.4 766.4h0.01M150.7 773.9h0.01M126.9 862.9h0.01M130.6 771.6h0.01M313.2 860.3h0.01M334.2 897.7h0.01M175.1 879.1h0.01M327.4 899.7h0.01M284.5 892.8h0.01M238.0 894.4h0.01M237.7 810.3h0.01M271.4 842.9h0.01M326.8 868.2h0.01M269.6 903.7h0.01M203.2 882.5h0.01M100.1 749.6h0.01M258.8 897.3h0.01M256.8 896.8h0.01M195.7 882.4h0.01M278.6 896.1h0.01M278.9 896.1h0.01M225.0 812.0h0.01M135.7 766.1h0.01M270.9 897.0h0.01M283.2 838.3h0.01M135.1 772.1h0.01M320.3 890.3h0.01M329.6 889.2h0.01M232.2 890.4h0.01M206.2 810.4h0.01M175.8 882.3h0.01M105.5 859.3h0.01M330.7 884.7h0.01M198.8 805.4h0.01M303.4 864.5h0.01M137.1 773.8h0.01M297.8 853.3h0.01M192.1 879.8h0.01M308.3 866.8h0.01M285.5 848.3h0.01M114.3 757.9h0.01M233.6 891.2h0.01M195.9 797.7h0.01M144.5 769.7h0.01M163.8 875.2h0.01M334.3 875.3h0.01M280.3 841.3h0.01M331.3 887.0h0.01M265.4 840.3h0.01M202.4 886.6h0.01M287.5 853.3h0.01M333.5 879.0h0.01M334.3 898.4h0.01M220.8 815.7h0.01M188.5 790.3h0.01M215.0 886.9h0.01M228.0 818.3h0.01M223.9 809.3h0.01M218.4 814.1h0.01M109.0 753.2h0.01M158.5 771.4h0.01M334.3 887.0h0.01M221.9 818.0h0.01M276.7 842.9h0.01M162.1 871.7h0.01M231.4 892.9h0.01M176.4 789.0h0.01M256.4 830.4h0.01M188.1 879.7h0.01M233.3 821.1h0.01M115.4 761.7h0.01M321.0 890.0h0.01M247.2 833.2h0.01M206.0 885.0h0.01M233.3 890.6h0.01M242.4 819.8h0.01M320.1 866.3h0.01M318.8 872.7h0.01M280.2 850.6h0.01M252.2 897.9h0.01M316.1 873.3h0.01M272.9 840.5h0.01M165.7 780.4h0.01M138.1 775.7h0.01M236.1 893.1h0.01M254.7 838.6h0.01M202.3 800.9h0.01M147.8 868.2h0.01M113.0 856.7h0.01M152.1 776.0h0.01M141.1 773.1h0.01M229.0 811.5h0.01M288.2 891.6h0.01M270.7 899.7h0.01M124.7 768.0h0.01M208.4 884.1h0.01M168.2 767.5h0.01M212.3 885.6h0.01M253.0 832.0h0.01M181.4 785.8h0.01M239.3 824.9h0.01M327.2 888.1h0.01M113.2 756.5h0.01M205.0 891.2h0.01M104.2 750.3h0.01M106.4 755.9h0.01M186.2 791.1h0.01M213.7 811.4h0.01M142.0 770.1h0.01M279.0 847.9h0.01M149.4 864.0h0.01M199.6 802.8h0.01M148.9 862.9h0.01M246.9 822.6h0.01M203.1 796.1h0.01M307.1 891.0h0.01M124.9 766.9h0.01M329.3 896.4h0.01M113.5 758.0h0.01M268.3 902.4h0.01M283.9 856.3h0.01M271.3 833.1h0.01M304.7 895.2h0.01M154.8 868.6h0.01M171.4 785.2h0.01M191.2 786.2h0.01M258.8 835.1h0.01M145.8 775.4h0.01M221.0 889.2h0.01M338.6 871.5h0.01M224.5 821.3h0.01M243.1 830.1h0.01M191.2 879.3h0.01M123.3 767.6h0.01M278.5 897.7h0.01M137.1 765.7h0.01M237.5 827.2h0.01M318.8 884.5h0.01M238.3 821.4h0.01M235.6 893.2h0.01M172.8 787.4h0.01M286.8 847.9h0.01M313.1 857.2h0.01M101.7 748.2h0.01M221.5 813.1h0.01M236.4 895.3h0.01M211.6 887.5h0.01M286.2 855.3h0.01M337.8 860.7h0.01M225.1 815.4h0.01M244.3 823.4h0.01M300.8 857.8h0.01M315.4 859.4h0.01M328.8 881.7h0.01M186.4 793.9h0.01M163.5 784.3h0.01M186.8 793.4h0.01M260.3 835.6h0.01M163.8 781.1h0.01M168.8 874.7h0.01M107.3 747.8h0.01M314.1 888.6h0.01M185.6 784.1h0.01M164.6 776.6h0.01M160.0 772.4h0.01M236.5 897.9h0.01M324.5 875.4h0.01M335.4 883.0h0.01M288.3 856.4h0.01M224.5 822.4h0.01M99.1 857.4h0.01M299.7 896.7h0.01M123.4 767.0h0.01M323.8 893.8h0.01M293.0 856.8h0.01M257.7 825.5h0.01M227.3 816.7h0.01M100.3 746.9h0.01M99.5 858.3h0.01M97.6 857.6h0.01M161.9 783.2h0.01M125.5 763.1h0.01M276.8 836.1h0.01M197.6 791.3h0.01M257.0 838.4h0.01M300.9 893.7h0.01M140.8 773.9h0.01M321.5 882.6h0.01M111.8 853.4h0.01M338.2 863.5h0.01M260.1 835.8h0.01M134.3 856.2h0.01M245.6 892.5h0.01M232.3 816.8h0.01M258.1 839.7h0.01M190.9 792.2h0.01M106.6 751.9h0.01M190.3 879.2h0.01M107.5 859.0h0.01M185.1 786.9h0.01M247.2 829.5h0.01M264.1 895.5h0.01M341.4 894.9h0.01M181.3 791.8h0.01M321.9 875.6h0.01M320.5 889.7h0.01M228.4 814.9h0.01M274.2 825.4h0.01M119.6 863.0h0.01M274.4 900.0h0.01M107.8 756.3h0.01M310.0 866.9h0.01M220.4 891.6h0.01M216.1 802.3h0.01M137.4 774.1h0.01M302.3 858.9h0.01M186.3 880.4h0.01M238.1 823.8h0.01M315.9 891.3h0.01M273.6 897.0h0.01M136.6 763.2h0.01M304.5 855.8h0.01M322.9 868.1h0.01M112.9 760.8h0.01M232.8 824.0h0.01M185.4 878.0h0.01M168.1 778.5h0.01M310.8 846.8h0.01M178.1 778.5h0.01M331.3 888.9h0.01M125.8 859.9h0.01M138.2 857.9h0.01M258.9 839.8h0.01M315.4 864.3h0.01M108.7 754.2h0.01M173.1 875.1h0.01M137.8 761.9h0.01M188.9 794.1h0.01M98.4 743.0h0.01M129.7 770.7h0.01M328.0 877.0h0.01M340.5 866.0h0.01M253.5 898.0h0.01M275.1 850.1h0.01M330.3 893.9h0.01M229.8 891.6h0.01M212.5 893.1h0.01M175.1 782.8h0.01M234.9 817.4h0.01M141.7 865.0h0.01M226.3 807.7h0.01M340.3 885.0h0.01M117.4 757.6h0.01M178.0 785.8h0.01M198.6 800.9h0.01M129.5 857.1h0.01M207.5 810.9h0.01M216.4 817.9h0.01M251.6 902.6h0.01M297.5 847.7h0.01M187.4 795.2h0.01M208.2 883.6h0.01M300.3 861.5h0.01M224.6 821.0h0.01M248.3 895.5h0.01M314.5 866.8h0.01M118.0 764.6h0.01M140.3 769.7h0.01M185.4 782.8h0.01M290.0 856.7h0.01M216.3 884.6h0.01M236.4 821.0h0.01M219.5 811.8h0.01M272.0 904.0h0.01M296.4 891.9h0.01M293.8 855.0h0.01M204.2 794.3h0.01M280.3 851.5h0.01M143.6 868.2h0.01M162.6 872.1h0.01M265.2 898.6h0.01M148.0 776.8h0.01M288.4 852.5h0.01M198.8 802.4h0.01M185.8 878.7h0.01M206.6 805.4h0.01M123.1 767.5h0.01M134.9 768.6h0.01M257.4 828.2h0.01M174.4 779.4h0.01M129.6 770.2h0.01M251.1 834.0h0.01M121.1 764.5h0.01M307.9 857.8h0.01M252.3 836.8h0.01M301.6 851.7h0.01M143.4 860.1h0.01M231.3 826.4h0.01M264.8 896.1h0.01M254.1 821.7h0.01M305.3 858.9h0.01M325.3 863.4h0.01M314.8 866.3h0.01M148.7 775.5h0.01M108.3 854.2h0.01M183.5 882.7h0.01M234.9 827.3h0.01M207.9 801.3h0.01M293.7 832.2h0.01M211.2 886.3h0.01M137.3 772.3h0.01M342.1 888.8h0.01M273.9 845.3h0.01M287.0 896.3h0.01M258.0 838.1h0.01M108.3 751.8h0.01M307.5 864.8h0.01M138.3 773.4h0.01M217.3 887.4h0.01M123.0 762.1h0.01M140.3 775.3h0.01M235.9 895.1h0.01M118.8 763.7h0.01M163.7 774.8h0.01M258.5 834.7h0.01M153.8 869.3h0.01M157.5 867.5h0.01M273.8 842.7h0.01M103.1 750.4h0.01M289.3 856.8h0.01M335.1 877.5h0.01M228.0 816.0h0.01M235.5 824.7h0.01M342.3 871.4h0.01M178.0 784.9h0.01M136.9 773.3h0.01M153.4 775.2h0.01M290.7 857.5h0.01M335.4 861.0h0.01M302.7 897.5h0.01M101.3 749.3h0.01M140.4 862.0h0.01M149.2 773.1h0.01M271.0 821.5h0.01M102.0 747.0h0.01M125.4 758.3h0.01M263.1 837.4h0.01M189.1 880.4h0.01M230.6 813.0h0.01M133.7 857.5h0.01M287.5 841.8h0.01M301.0 898.6h0.01M185.5 792.9h0.01M107.6 757.3h0.01M341.1 867.0h0.01M101.7 749.6h0.01M163.2 871.5h0.01M268.5 836.3h0.01M174.6 875.3h0.01M151.0 862.7h0.01M115.7 756.8h0.01M295.3 890.9h0.01M283.4 897.7h0.01M130.5 764.9h0.01M185.1 879.6h0.01M137.5 774.6h0.01M242.2 895.8h0.01M144.1 861.9h0.01M268.4 845.8h0.01M303.9 890.9h0.01M256.6 900.4h0.01M218.9 814.5h0.01M321.7 874.9h0.01M302.5 892.0h0.01M142.3 771.1h0.01M234.2 827.1h0.01M274.1 846.5h0.01M251.0 832.8h0.01M290.5 859.5h0.01M310.7 891.1h0.01M184.6 793.9h0.01M337.8 858.4h0.01M99.1 747.2h0.01M208.8 804.2h0.01M130.2 860.8h0.01M209.9 810.6h0.01M142.8 773.7h0.01M230.9 825.6h0.01M114.0 854.8h0.01M204.9 793.5h0.01M100.1 861.9h0.01M107.7 752.6h0.01M270.3 847.8h0.01M269.6 846.3h0.01M215.4 810.5h0.01M123.6 767.0h0.01M256.2 894.7h0.01M243.0 823.2h0.01M166.7 873.6h0.01M161.7 778.8h0.01M324.0 888.0h0.01M217.5 817.3h0.01M184.2 791.5h0.01M103.2 748.7h0.01M125.4 758.4h0.01M311.6 890.2h0.01M206.4 809.8h0.01M190.4 795.4h0.01M296.9 892.7h0.01M302.8 891.0h0.01M231.0 822.4h0.01M329.7 874.6h0.01M229.5 814.9h0.01M318.7 874.2h0.01M187.4 790.7h0.01M249.7 823.6h0.01M262.2 828.8h0.01M276.5 893.9h0.01M152.5 868.2h0.01M298.9 860.8h0.01M143.2 764.8h0.01M183.1 878.5h0.01M301.3 830.0h0.01M220.0 887.9h0.01M308.9 847.5h0.01M326.1 886.1h0.01M99.8 854.3h0.01M247.4 893.9h0.01M141.1 771.6h0.01M309.7 860.9h0.01M133.2 772.8h0.01M171.8 781.8h0.01M153.2 864.3h0.01M327.7 871.4h0.01M199.0 797.9h0.01M157.5 777.6h0.01M295.1 848.4h0.01M279.7 894.8h0.01M335.7 893.0h0.01M103.1 753.2h0.01M134.5 771.3h0.01M296.8 895.4h0.01M280.9 855.0h0.01M116.0 762.1h0.01M337.5 872.9h0.01M240.1 819.8h0.01M172.2 770.1h0.01M109.2 852.7h0.01M234.0 893.7h0.01M102.7 749.1h0.01M256.6 812.2h0.01M234.9 824.9h0.01M235.8 818.8h0.01M102.9 752.7h0.01M199.0 804.2h0.01M328.5 871.0h0.01M231.8 824.9h0.01M192.7 888.1h0.01M285.5 894.0h0.01M137.0 864.1h0.01M107.8 756.5h0.01M97.5 744.1h0.01M260.3 832.9h0.01M276.6 850.8h0.01M212.8 811.1h0.01M113.9 760.5h0.01M277.6 893.7h0.01M315.9 891.4h0.01M213.7 807.1h0.01M245.0 829.6h0.01M204.0 799.9h0.01M271.4 896.5h0.01M157.1 772.4h0.01M126.7 768.4h0.01M213.4 884.1h0.01M205.4 885.4h0.01M162.2 777.7h0.01M239.1 825.2h0.01M276.1 895.8h0.01M150.4 771.5h0.01M293.0 891.7h0.01M259.3 821.2h0.01M97.7 854.5h0.01M256.5 832.1h0.01M287.6 857.3h0.01M118.1 854.5h0.01M269.1 842.7h0.01M245.9 815.9h0.01M267.6 830.0h0.01M318.3 888.9h0.01M286.9 855.9h0.01M296.5 892.7h0.01M238.1 817.6h0.01M205.4 810.2h0.01M339.6 866.3h0.01M306.4 862.7h0.01M155.2 773.8h0.01M103.2 750.3h0.01M122.0 855.1h0.01M150.5 771.7h0.01M181.2 877.2h0.01M144.7 776.6h0.01M217.7 816.9h0.01M168.6 784.5h0.01M99.3 750.0h0.01M189.9 796.4h0.01M246.8 824.4h0.01M271.9 899.6h0.01M233.9 821.9h0.01M302.2 848.9h0.01M220.3 887.0h0.01M199.6 791.7h0.01M286.5 844.2h0.01M203.1 885.6h0.01M269.8 841.8h0.01M232.7 825.5h0.01M339.1 867.7h0.01M147.0 863.6h0.01M262.1 832.3h0.01M280.6 845.6h0.01M272.8 832.8h0.01M311.3 864.9h0.01M191.2 886.3h0.01M304.4 863.1h0.01M312.3 891.2h0.01M297.1 898.7h0.01M317.9 865.9h0.01M295.2 851.7h0.01M301.3 850.1h0.01M198.5 886.7h0.01M182.3 793.6h0.01M143.1 776.7h0.01M280.0 847.6h0.01M237.9 828.0h0.01M229.3 824.5h0.01M315.3 889.4h0.01M308.3 862.5h0.01M334.0 862.2h0.01M109.8 757.0h0.01M250.4 826.3h0.01M242.9 827.7h0.01M153.3 770.5h0.01M256.7 901.9h0.01M272.5 842.0h0.01M135.4 763.9h0.01M104.5 752.9h0.01M114.7 856.9h0.01M286.9 893.8h0.01M293.0 892.4h0.01M230.2 812.3h0.01M243.5 820.2h0.01M256.1 898.9h0.01M325.0 863.6h0.01M220.9 816.0h0.01M145.4 765.0h0.01M311.0 891.5h0.01M191.8 789.8h0.01M253.7 896.8h0.01M218.6 814.5h0.01M339.6 902.1h0.01M335.3 894.4h0.01M124.5 767.8h0.01M239.3 891.9h0.01M182.6 790.4h0.01M159.7 868.2h0.01M253.7 832.2h0.01M283.0 838.4h0.01M229.9 804.8h0.01M116.7 759.9h0.01M306.6 864.9h0.01M133.9 773.4h0.01M253.4 899.6h0.01M142.6 863.4h0.01M108.4 757.5h0.01M147.0 861.3h0.01M335.6 905.3h0.01M278.6 848.3h0.01M165.4 871.5h0.01M148.0 773.5h0.01M171.7 787.2h0.01M120.9 756.7h0.01M160.4 775.4h0.01M112.7 853.3h0.01M188.2 879.6h0.01M322.8 881.8h0.01M115.0 853.1h0.01M303.6 858.0h0.01M215.8 811.5h0.01M230.7 823.0h0.01M100.9 750.2h0.01M223.1 811.9h0.01M159.8 773.5h0.01M277.1 843.7h0.01M246.4 820.7h0.01M294.7 857.1h0.01M239.4 897.4h0.01M163.9 870.4h0.01M175.3 784.6h0.01M315.0 861.5h0.01M143.3 772.5h0.01M265.9 900.1h0.01M245.2 825.7h0.01M98.4 748.4h0.01M336.8 894.0h0.01M250.3 808.2h0.01M257.8 832.3h0.01M319.6 893.6h0.01M305.7 854.3h0.01M175.6 875.5h0.01M128.4 856.5h0.01M246.8 825.3h0.01M246.6 831.1h0.01M311.8 889.9h0.01M290.5 893.0h0.01M112.2 857.5h0.01M290.8 855.9h0.01M261.2 895.8h0.01M111.7 758.6h0.01M320.3 860.3h0.01M117.6 855.0h0.01M144.4 861.1h0.01M297.9 861.4h0.01M129.3 770.1h0.01M219.0 809.7h0.01M117.0 760.5h0.01M274.9 896.1h0.01M243.2 892.2h0.01M223.2 888.9h0.01M335.9 887.9h0.01M168.3 781.4h0.01M191.4 771.9h0.01M118.2 859.7h0.01M156.0 775.4h0.01M107.3 753.1h0.01M178.7 876.4h0.01M153.6 871.1h0.01M106.9 854.4h0.01M291.1 892.6h0.01M263.5 842.5h0.01M216.5 886.2h0.01M252.5 897.0h0.01M340.7 869.7h0.01M200.8 805.4h0.01M187.1 878.2h0.01M189.5 882.2h0.01M322.5 859.8h0.01M242.3 894.6h0.01M173.3 779.1h0.01M235.6 811.6h0.01M243.8 896.9h0.01M207.0 811.6h0.01M335.4 881.2h0.01M119.1 760.5h0.01M149.0 777.5h0.01M151.4 777.2h0.01M158.9 867.1h0.01M122.0 856.0h0.01M287.1 854.7h0.01M187.4 788.5h0.01M218.6 798.9h0.01M242.1 820.0h0.01M252.3 821.6h0.01M309.2 851.0h0.01M306.6 860.9h0.01M338.6 870.1h0.01M223.5 811.8h0.01M288.8 856.3h0.01M204.0 805.5h0.01M184.3 791.1h0.01M162.9 779.5h0.01M301.4 891.0h0.01M217.3 810.0h0.01M304.8 857.5h0.01M159.7 869.6h0.01M285.5 847.0h0.01M178.3 767.7h0.01M188.4 772.4h0.01M295.4 833.8h0.01M290.3 846.5h0.01M172.9 762.8h0.01M258.2 811.4h0.01M212.6 804.5h0.01M127.2 759.3h0.01M235.4 810.7h0.01M118.7 735.1h0.01M125.1 751.4h0.01M290.5 834.3h0.01M160.9 752.0h0.01M214.2 788.7h0.01M208.3 788.9h0.01M332.7 856.9h0.01M242.3 808.2h0.01M335.4 844.5h0.01M171.0 773.6h0.01M239.0 815.9h0.01M191.7 768.1h0.01M152.6 765.7h0.01M266.0 824.7h0.01M321.6 852.3h0.01M286.7 838.6h0.01M341.7 836.3h0.01M155.2 762.9h0.01M220.5 800.3h0.01M247.8 809.4h0.01M144.8 753.3h0.01M301.9 845.2h0.01M172.8 771.9h0.01M251.5 824.3h0.01M159.2 765.9h0.01M270.5 822.1h0.01M236.7 815.2h0.01M192.4 788.3h0.01M342.2 846.2h0.01M305.2 850.3h0.01M174.3 775.3h0.01M200.4 783.1h0.01M238.5 812.2h0.01M139.9 760.0h0.01M289.3 845.0h0.01M341.1 838.2h0.01M98.0 703.0h0.01M100.0 712.0h0.01M103.0 726.0h0.01M108.0 708.0h0.01M128.0 702.0h0.01M134.0 716.0h0.01M151.0 719.0h0.01M165.0 733.0h0.01M184.0 740.0h0.01M192.0 733.0h0.01M230.0 756.0h0.01M252.0 781.0h0.01M300.0 788.0h0.01M301.0 795.0h0.01M297.0 808.0h0.01M320.0 812.0h0.01M328.0 828.0h0.01M339.0 836.0h0.01M250.0 906.0h0.01M260.0 912.0h0.01M300.0 917.0h0.01M305.0 921.0h0.01M310.0 909.0h0.01M275.0 903.0h0.01M236.0 905.0h0.01M157.0 871.0h0.01M140.0 867.0h0.01M125.0 862.0h0.01" stroke="#adc1df" stroke-width="2.2" stroke-linecap="round" fill="none"/>
<polygon points="95.5,745.0 102.7,742.5 110.9,754.7 119.0,765.0 127.2,773.1 135.4,781.3 140.5,787.4 143.6,793.6 147.7,801.7 153.8,812.0 155.8,826.3 155.8,842.6 153.8,850.8 147.7,846.7 139.5,850.8 131.3,852.8 123.1,848.8 115.0,850.8 106.8,852.8 103.7,861.0 101.7,852.8 100.7,842.6 98.6,822.2 96.6,801.7 95.5,777.2" fill="#4f7db5"/>
<path d="M96.0 704.4h0.01M100.0 703.1h0.01M100.7 697.5h0.01M98.7 739.3h0.01M98.3 745.7h0.01M97.4 722.7h0.01M98.3 732.5h0.01M99.0 720.3h0.01M96.0 699.6h0.01M99.8 714.4h0.01M97.0 710.2h0.01M100.6 705.6h0.01M98.1 713.6h0.01M97.0 718.0h0.01M99.5 706.4h0.01M100.9 736.8h0.01M96.1 703.5h0.01M96.8 705.8h0.01M98.7 732.6h0.01M97.2 747.9h0.01M101.5 737.2h0.01M97.8 715.3h0.01M96.8 717.6h0.01M101.3 739.1h0.01M100.7 706.4h0.01M100.5 701.8h0.01M97.1 722.2h0.01M100.2 743.6h0.01M100.5 724.3h0.01M99.6 735.5h0.01M98.6 724.7h0.01M101.2 733.6h0.01M99.2 701.3h0.01M100.7 704.9h0.01M97.6 723.4h0.01M98.0 699.4h0.01M105.0 731.4h0.01M105.7 757.2h0.01M106.6 754.3h0.01M105.1 720.9h0.01M105.4 729.8h0.01M106.4 751.5h0.01M103.0 727.6h0.01M106.6 726.3h0.01M104.5 748.2h0.01M105.9 741.9h0.01M101.4 738.2h0.01M106.2 758.2h0.01M104.5 739.8h0.01M101.9 728.3h0.01M105.3 722.2h0.01M102.1 752.5h0.01M103.5 727.8h0.01M106.1 731.4h0.01M102.1 729.9h0.01M106.9 736.2h0.01M100.9 748.5h0.01M100.4 725.6h0.01M105.2 746.8h0.01M102.3 726.7h0.01M100.4 754.1h0.01M106.6 749.3h0.01M102.5 746.2h0.01M107.4 749.6h0.01M105.0 742.3h0.01M107.4 744.0h0.01M105.3 759.0h0.01M101.0 739.5h0.01M103.4 739.5h0.01M103.9 747.2h0.01M101.6 729.7h0.01M104.6 750.0h0.01M101.5 750.8h0.01M100.9 737.8h0.01M102.8 726.9h0.01M107.6 731.0h0.01" stroke="#adc1df" stroke-width="2.2" stroke-linecap="round" fill="none"/>
<path d="M99.2 697.8h0.01M99.2 717.1h0.01M100.8 734.9h0.01M100.3 710.3h0.01M97.8 747.4h0.01M96.4 696.0h0.01M100.6 745.9h0.01M99.0 716.3h0.01M96.8 698.5h0.01M98.5 720.3h0.01M98.2 745.7h0.01M99.7 721.8h0.01M99.5 716.3h0.01M98.8 746.4h0.01M98.2 736.4h0.01M100.5 734.0h0.01M99.1 713.3h0.01M99.1 720.3h0.01M97.0 703.0h0.01M98.3 706.3h0.01M96.5 710.4h0.01M97.5 703.7h0.01M97.6 713.0h0.01M100.1 722.0h0.01M100.0 747.2h0.01M97.6 714.7h0.01M98.6 711.4h0.01M98.6 726.1h0.01M97.7 711.8h0.01M97.6 696.4h0.01M98.1 727.6h0.01M99.8 704.4h0.01M100.8 713.7h0.01M101.2 722.7h0.01M98.7 741.5h0.01M99.9 721.0h0.01M100.4 733.2h0.01M100.5 729.8h0.01M98.7 704.9h0.01M100.1 746.5h0.01M98.0 727.1h0.01M99.2 730.1h0.01M101.0 746.6h0.01M97.4 728.4h0.01M101.3 737.0h0.01M100.2 736.4h0.01M97.7 703.2h0.01M96.9 706.2h0.01M97.3 704.4h0.01M96.5 706.6h0.01M96.9 713.3h0.01M96.6 716.7h0.01M99.6 697.8h0.01M97.0 720.1h0.01M100.4 746.6h0.01M99.7 699.9h0.01M98.8 739.3h0.01M99.4 714.0h0.01M97.8 726.9h0.01M100.6 707.7h0.01M98.4 716.6h0.01M99.3 700.9h0.01M97.7 710.1h0.01M101.2 731.5h0.01M98.6 724.3h0.01M97.0 712.8h0.01M97.5 727.3h0.01M100.3 704.0h0.01M96.7 718.4h0.01M97.0 706.5h0.01M97.7 708.6h0.01M99.7 744.3h0.01M99.9 696.8h0.01M100.2 732.9h0.01M98.7 708.1h0.01M99.2 707.9h0.01M98.9 695.9h0.01M96.9 743.2h0.01M98.3 703.5h0.01M98.9 728.1h0.01M96.3 706.5h0.01M96.2 710.9h0.01M100.2 730.4h0.01M98.0 737.2h0.01M99.2 706.3h0.01M98.1 719.7h0.01M100.1 726.5h0.01M99.0 702.3h0.01M99.0 725.1h0.01M98.0 712.4h0.01M97.0 709.9h0.01M96.6 699.8h0.01M96.0 703.0h0.01M98.3 740.9h0.01M98.3 714.4h0.01M97.1 744.9h0.01M100.5 733.0h0.01M96.2 710.2h0.01M100.9 724.9h0.01M98.4 726.9h0.01M99.2 746.4h0.01M98.4 725.5h0.01M99.9 715.1h0.01M101.2 728.1h0.01" stroke="#4f7db5" stroke-width="2.3" stroke-linecap="round" fill="none"/>
<path d="M122.5 850.7h0.01M134.2 851.4h0.01M120.6 766.9h0.01M114.3 851.1h0.01M130.8 852.4h0.01M148.2 800.2h0.01M146.6 848.3h0.01M101.4 847.9h0.01M100.3 847.5h0.01M135.0 850.5h0.01M133.6 780.5h0.01M151.1 849.0h0.01M137.0 784.5h0.01M100.7 855.8h0.01M121.1 769.7h0.01M110.1 754.0h0.01M129.8 851.9h0.01M139.9 852.9h0.01M103.8 849.1h0.01M153.5 851.2h0.01M135.8 852.7h0.01M154.7 849.2h0.01M111.4 752.8h0.01M99.5 835.6h0.01M109.1 754.4h0.01M96.9 740.5h0.01M100.9 853.8h0.01M108.0 852.2h0.01M127.5 773.8h0.01M147.1 799.8h0.01M145.5 846.7h0.01M101.0 851.5h0.01M113.6 760.4h0.01M100.3 742.5h0.01M123.0 770.6h0.01M118.9 764.0h0.01M111.4 757.0h0.01M105.6 854.6h0.01M152.6 811.1h0.01M98.3 815.0h0.01M148.3 845.9h0.01M156.0 848.0h0.01M127.9 852.6h0.01M96.1 780.9h0.01M142.8 849.0h0.01M98.3 842.3h0.01M142.9 849.3h0.01M145.1 846.4h0.01M126.9 770.3h0.01M146.7 795.9h0.01M151.1 804.4h0.01M136.3 783.6h0.01M151.7 806.4h0.01M105.3 858.6h0.01M99.8 826.6h0.01M153.8 849.6h0.01M102.1 853.0h0.01M127.2 774.7h0.01M106.2 858.5h0.01M144.8 848.2h0.01M153.8 834.2h0.01M145.0 796.8h0.01M117.8 854.0h0.01M118.2 765.3h0.01M141.9 794.7h0.01M107.7 748.1h0.01M119.4 849.9h0.01M108.6 752.6h0.01M114.0 851.9h0.01M115.5 763.2h0.01M144.4 789.9h0.01M128.7 775.4h0.01M154.9 834.1h0.01M108.3 751.5h0.01M119.8 850.7h0.01M104.4 856.8h0.01M143.7 850.2h0.01M120.5 765.2h0.01M103.9 860.9h0.01M120.7 765.2h0.01M99.1 822.5h0.01M106.0 859.8h0.01M134.5 851.5h0.01M154.3 829.5h0.01M100.1 824.1h0.01M143.1 793.3h0.01M141.6 790.2h0.01M157.5 831.3h0.01M145.2 801.2h0.01M148.3 847.3h0.01M136.1 784.1h0.01M155.8 815.2h0.01M148.8 845.7h0.01M155.4 823.3h0.01M135.6 853.7h0.01M132.0 777.6h0.01M139.0 849.6h0.01M140.7 851.1h0.01M140.7 786.3h0.01M139.4 784.6h0.01M115.9 758.8h0.01M142.0 793.1h0.01M99.4 846.6h0.01M111.1 754.0h0.01M110.3 754.5h0.01M132.4 778.9h0.01M137.6 849.4h0.01M116.5 763.4h0.01M102.7 858.1h0.01M156.3 849.6h0.01M154.7 814.0h0.01M119.1 850.5h0.01M98.6 798.0h0.01M155.8 831.8h0.01M137.9 849.8h0.01M98.2 807.9h0.01M135.6 853.0h0.01M156.6 841.9h0.01M126.7 771.0h0.01M140.6 787.0h0.01M129.0 852.2h0.01M101.0 839.8h0.01M118.2 848.1h0.01M107.0 752.9h0.01M98.7 824.6h0.01M140.8 788.2h0.01M115.7 758.0h0.01M114.6 758.0h0.01M96.5 746.6h0.01M103.1 854.9h0.01M100.5 744.2h0.01M156.7 846.7h0.01M144.7 793.6h0.01M142.5 846.2h0.01M107.0 854.9h0.01M95.5 781.8h0.01M151.5 808.7h0.01M97.1 809.8h0.01M98.2 835.0h0.01M150.9 807.8h0.01M155.0 839.1h0.01M130.3 777.1h0.01M149.3 845.9h0.01M98.4 744.6h0.01M151.1 808.1h0.01M137.2 782.0h0.01M103.3 849.5h0.01M102.2 742.5h0.01M146.1 796.9h0.01M109.1 854.8h0.01M100.2 815.6h0.01M147.5 847.2h0.01M156.6 837.4h0.01M117.8 849.3h0.01M113.2 852.6h0.01M106.6 746.7h0.01M137.2 782.3h0.01M96.8 745.7h0.01M96.6 795.4h0.01M148.2 848.1h0.01M185.5 790.5h0.01M173.2 773.0h0.01M126.0 798.0h0.01M238.0 859.0h0.01M96.0 694.6h0.01" stroke="#4f7db5" stroke-width="2.2" stroke-linecap="round" fill="none"/>
<line x1="119" y1="751.7" x2="119" y2="764" stroke="#4f7db5" stroke-width="2.3" stroke-linecap="round"/>
<line x1="148.7" y1="793.6" x2="148.7" y2="801.7" stroke="#4f7db5" stroke-width="2.3" stroke-linecap="round"/>
<line x1="160" y1="791.5" x2="160" y2="801.7" stroke="#4f7db5" stroke-width="2.3" stroke-linecap="round"/>
<line x1="166" y1="797.7" x2="166" y2="826.3" stroke="#4f7db5" stroke-width="2.3" stroke-linecap="round"/>
<line x1="170" y1="781" x2="170" y2="789.5" stroke="#4f7db5" stroke-width="2.3" stroke-linecap="round"/>
<line x1="176.3" y1="812" x2="176.3" y2="842.6" stroke="#4f7db5" stroke-width="2.3" stroke-linecap="round"/>
<line x1="157.9" y1="822" x2="157.9" y2="850.8" stroke="#4f7db5" stroke-width="2.3" stroke-linecap="round"/>
<line x1="187.5" y1="840.6" x2="187.5" y2="875" stroke="#4f7db5" stroke-width="2.3" stroke-linecap="round"/>
<line x1="181.4" y1="840.6" x2="181.4" y2="846.7" stroke="#4f7db5" stroke-width="2.3" stroke-linecap="round"/>
<line x1="149.7" y1="850.8" x2="149.7" y2="861" stroke="#4f7db5" stroke-width="2.3" stroke-linecap="round"/>
<line x1="238.4" y1="870" x2="238.4" y2="873" stroke="#4f7db5" stroke-width="2.3" stroke-linecap="round"/>
<line x1="275.2" y1="861.8" x2="275.2" y2="869.2" stroke="#4f7db5" stroke-width="2.3" stroke-linecap="round"/>
<line x1="301.8" y1="875" x2="301.8" y2="880.6" stroke="#4f7db5" stroke-width="2.3" stroke-linecap="round"/>
<line x1="162" y1="836" x2="162" y2="852" stroke="#4f7db5" stroke-width="2.3" stroke-linecap="round"/>
<line x1="104" y1="855" x2="104" y2="864" stroke="#4f7db5" stroke-width="2.3" stroke-linecap="round"/>
<circle cx="140.8" cy="789.9" r="2.1" fill="#000"/>
<rect x="70.6" y="693.8" width="273.6" height="250.7" fill="none" stroke="#8a8a8a" stroke-width="1"/>
<line x1="67.1" y1="693.8" x2="70.6" y2="693.8" stroke="#666" stroke-width="0.8"/>
<text x="65.8" y="696.3" class="mp" text-anchor="end">10</text>
<line x1="67.1" y1="735.6" x2="70.6" y2="735.6" stroke="#666" stroke-width="0.8"/>
<text x="65.8" y="738.1" class="mp" text-anchor="end">5</text>
<line x1="67.1" y1="777.4" x2="70.6" y2="777.4" stroke="#666" stroke-width="0.8"/>
<text x="65.8" y="779.9" class="mp" text-anchor="end">0</text>
<line x1="67.1" y1="819.2" x2="70.6" y2="819.2" stroke="#666" stroke-width="0.8"/>
<text x="65.8" y="821.7" class="mp" text-anchor="end">−5</text>
<line x1="67.1" y1="860.9" x2="70.6" y2="860.9" stroke="#666" stroke-width="0.8"/>
<text x="65.8" y="863.4" class="mp" text-anchor="end">−10</text>
<line x1="67.1" y1="902.7" x2="70.6" y2="902.7" stroke="#666" stroke-width="0.8"/>
<text x="65.8" y="905.2" class="mp" text-anchor="end">−15</text>
<line x1="67.1" y1="944.5" x2="70.6" y2="944.5" stroke="#666" stroke-width="0.8"/>
<text x="65.8" y="947.0" class="mp" text-anchor="end">−20</text>
<line x1="96.6" y1="944.5" x2="96.6" y2="948.0" stroke="#666" stroke-width="0.8"/>
<text x="96.6" y="956.0" class="mp" text-anchor="middle">0</text>
<line x1="146.1" y1="944.5" x2="146.1" y2="948.0" stroke="#666" stroke-width="0.8"/>
<text x="146.1" y="956.0" class="mp" text-anchor="middle">200</text>
<line x1="195.6" y1="944.5" x2="195.6" y2="948.0" stroke="#666" stroke-width="0.8"/>
<text x="195.6" y="956.0" class="mp" text-anchor="middle">400</text>
<line x1="245.2" y1="944.5" x2="245.2" y2="948.0" stroke="#666" stroke-width="0.8"/>
<text x="245.2" y="956.0" class="mp" text-anchor="middle">600</text>
<line x1="294.7" y1="944.5" x2="294.7" y2="948.0" stroke="#666" stroke-width="0.8"/>
<text x="294.7" y="956.0" class="mp" text-anchor="middle">800</text>
<line x1="344.2" y1="944.5" x2="344.2" y2="948.0" stroke="#666" stroke-width="0.8"/>
<text x="344.2" y="956.0" class="mp" text-anchor="middle">1000</text>
<text x="207.4" y="963" class="mpt" text-anchor="middle">Number of residues</text>
<text transform="translate(44.8 820) rotate(-90)" class="mpt" text-anchor="middle">Z-score</text>
<rect x="295" y="695.8" width="46.5" height="23" rx="1.5" fill="#fff" stroke="#ddd" stroke-width="0.7"/>
<rect x="298" y="699.9" width="17" height="5.9" fill="#adc1df"/>
<rect x="298" y="709.3" width="17" height="6.2" fill="#4f7db5"/>
<text x="318.3" y="705.3" class="mp2">X-ray</text>
<text x="318.3" y="715" class="mp2">NMR</text>
<clipPath id="clipE"><rect x="398.7" y="695.5" width="274.9" height="248.3"/></clipPath>
<line x1="398.7" y1="819.7" x2="673.6" y2="819.7" stroke="#555" stroke-width="1.1"/>
<path d="M410.1 818.3L412.0 826.9L413.6 848.4L414.9 850.5L416.8 848.4L418.1 850.5L419.5 845.7L420.8 848.4L422.2 864.5L423.8 872.0L424.8 861.8L425.9 829.6L427.0 802.8L428.1 800.6L429.1 818.9L430.2 821.5L431.8 830.9L432.9 824.2L434.5 808.1L436.1 767.9L437.7 761.1L438.8 770.5L439.9 800.1L441.0 813.5L442.0 816.2L443.1 805.4L444.2 818.9L445.2 824.2L446.9 813.5L447.9 818.9L449.0 840.3L450.6 861.8L451.7 867.2L452.8 864.5L453.8 877.9L454.9 899.4L456.0 906.1L457.1 894.0L458.7 851.1L459.7 792.0L460.8 757.1L461.9 741.0L463.0 738.3L464.0 722.2L465.7 719.5L466.7 730.3L467.8 711.5L468.9 698.1L469.9 693.2L470.5 698.1L471.6 719.5L472.7 743.7L473.8 767.9L474.8 784.0L475.9 792.0L477.0 796.0L478.6 801.4L480.2 805.4L481.8 792.0L483.4 775.9L484.5 770.5L485.6 773.2L486.6 778.6L487.7 784.0L489.3 785.3L490.9 789.3L492.0 800.1L493.1 797.4L494.2 802.8L495.2 792.0L496.3 781.3L497.9 775.9L499.0 779.9L500.1 782.6L501.1 770.5L502.2 759.8L503.3 754.4L504.9 753.1L506.5 754.4L508.1 751.7L509.2 743.7L510.3 741.0L511.3 733.0L512.4 730.3L513.5 738.3L514.6 749.1L515.6 759.8L517.2 757.1L518.9 751.7L519.9 743.7L521.0 730.3L522.1 716.8L523.2 698.1L524.8 695.4L525.8 719.5L526.9 733.0L528.0 719.5L529.6 706.1L531.2 702.1L532.8 700.7L533.9 706.1L535.0 724.9L536.0 757.1L537.1 802.8L538.2 824.2L539.3 864.5L540.3 873.9L541.4 859.1L542.5 856.4L543.6 875.2L544.6 899.4L545.7 920.9L546.8 939.7L547.9 943.7L548.8 931.6L550.4 910.1L552.0 894.0L553.1 877.9L554.1 869.9L555.2 877.9L556.3 864.5L557.3 859.1L559.0 851.1L560.6 835.0L562.2 821.5L563.8 813.5L565.4 809.5L566.5 813.5L567.6 824.2L568.6 837.7L569.7 845.7L570.8 848.4L571.8 840.3L572.9 832.3L574.0 840.3L575.6 843.0L577.2 851.1L578.8 867.2L579.9 856.4L581.0 829.6L582.0 805.4L583.1 786.6L584.7 781.3L585.8 779.9L587.4 784.0L589.0 781.3L590.6 778.6L592.2 778.6L593.3 784.0L594.4 802.8L595.5 816.2L596.5 829.6L598.2 851.1L599.8 867.2L600.8 881.9L601.9 877.9L603.0 872.6L604.6 868.5L606.2 875.2L607.8 872.6L609.4 864.5L611.0 859.1L612.7 851.1L614.3 835.0L615.3 816.2L616.4 802.8L618.0 801.4L619.1 808.1L620.2 818.9L621.2 829.6L622.9 840.3L623.1 829.6L624.7 839.0L626.3 848.4L627.9 859.1L629.5 867.2L631.1 880.6L632.2 894.0L633.3 898.1L634.4 896.7L635.4 877.9L636.5 851.1L637.6 832.3L638.7 826.9L640.3 828.3L641.9 825.6L643.0 824.2L644.0 835.0L645.1 853.8L646.2 856.4L647.2 826.9L648.3 825.6L649.4 835.0L650.5 848.4L651.5 832.3L652.6 853.8L653.7 857.8L655.3 857.8L656.9 864.5L658.0 859.1L659.1 857.8L660.7 859.7L661.7 859.1" stroke="#4ca046" stroke-width="1.35" fill="none" stroke-linejoin="round" clip-path="url(#clipE)"/>
<path d="M431.8 836.3L433.4 839.0L435.0 835.0L436.1 824.2L437.7 816.2L439.6 810.8L441.0 808.1L442.6 804.1L444.2 806.8L446.3 802.8L448.5 800.1L450.3 797.4L453.0 796.0L455.7 794.7L457.6 792.0L459.2 789.3L461.1 790.7L462.4 792.0L464.0 789.3L465.7 788.0L467.3 789.3L468.9 786.1L470.5 792.0L472.6 797.4L474.5 797.4L475.9 790.7L476.4 785.3L478.1 784.0L479.7 775.9L481.3 770.5L482.9 770.5L484.5 767.9L486.1 769.2L487.7 766.5L489.3 759.8L490.4 749.1L491.5 742.3L492.6 743.7L493.6 751.7L494.7 762.5L496.3 767.9L497.9 773.2L499.5 770.5L501.1 762.5L502.8 757.1L504.4 754.4L506.0 753.1L507.6 751.7L509.2 750.4L510.3 751.7L511.9 755.8L513.5 759.8L515.1 765.2L516.7 770.5L518.3 773.2L519.4 775.9L521.0 781.3L522.6 785.3L524.8 788.0L526.9 789.3L529.1 790.7L531.2 792.0L532.8 796.0L534.4 800.1L536.0 802.8L537.7 808.1L539.3 808.1L540.9 805.4L542.5 806.0L544.1 808.1L545.7 812.1L547.3 818.9L548.4 828.3L548.8 828.3L550.4 826.9L552.0 829.6L553.6 832.3L555.7 836.3L557.3 837.7L559.0 843.0L560.6 845.7L561.6 843.0L563.3 841.7L564.9 843.0L566.5 845.7L568.1 849.7L569.7 848.4L571.3 844.4L572.9 843.0L574.5 840.3L576.1 842.5L577.8 840.3L579.4 837.7L581.0 835.0L582.6 832.3L584.2 832.3L585.8 833.6L587.4 834.4L589.0 833.6L590.6 835.0L592.2 832.3L593.9 826.9L595.5 824.2L597.1 826.9L598.2 830.9L599.8 835.0L601.4 837.7L603.0 839.0L604.6 837.7L606.2 836.3L607.8 837.1L609.4 837.1L611.0 837.7L612.7 836.3L614.3 835.0L615.9 832.3L617.5 836.3L619.1 841.7L620.7 845.7L622.3 853.8L622.6 853.8L624.2 851.1L625.8 852.4L626.8 851.1L627.9 848.4L629.0 850.5L630.1 845.7L631.7 846.2L633.3 847.0L634.9 847.0L636.5 848.4L638.1 850.5L639.7 851.1" stroke="#2f7f26" stroke-width="2.6" fill="none" stroke-linejoin="round"/>
<rect x="398.7" y="695.5" width="274.9" height="248.3" fill="none" stroke="#8a8a8a" stroke-width="1"/>
<line x1="395.2" y1="695.5" x2="398.7" y2="695.5" stroke="#666" stroke-width="0.8"/>
<text x="393.9" y="698.0" class="mp" text-anchor="end">3</text>
<line x1="395.2" y1="736.9" x2="398.7" y2="736.9" stroke="#666" stroke-width="0.8"/>
<text x="393.9" y="739.4" class="mp" text-anchor="end">2</text>
<line x1="395.2" y1="778.3" x2="398.7" y2="778.3" stroke="#666" stroke-width="0.8"/>
<text x="393.9" y="780.8" class="mp" text-anchor="end">1</text>
<line x1="395.2" y1="819.7" x2="398.7" y2="819.7" stroke="#666" stroke-width="0.8"/>
<text x="393.9" y="822.2" class="mp" text-anchor="end">0</text>
<line x1="395.2" y1="861.0" x2="398.7" y2="861.0" stroke="#666" stroke-width="0.8"/>
<text x="393.9" y="863.5" class="mp" text-anchor="end">−1</text>
<line x1="395.2" y1="902.4" x2="398.7" y2="902.4" stroke="#666" stroke-width="0.8"/>
<text x="393.9" y="904.9" class="mp" text-anchor="end">−2</text>
<line x1="395.2" y1="943.8" x2="398.7" y2="943.8" stroke="#666" stroke-width="0.8"/>
<text x="393.9" y="946.3" class="mp" text-anchor="end">−3</text>
<line x1="405.1" y1="943.8" x2="405.1" y2="947.3" stroke="#666" stroke-width="0.8"/>
<text x="405.1" y="955.3" class="mp" text-anchor="middle">1</text>
<line x1="668.5" y1="943.8" x2="668.5" y2="947.3" stroke="#666" stroke-width="0.8"/>
<text x="668.5" y="955.3" class="mp" text-anchor="middle">182</text>
<text x="535" y="962.3" class="mpt" text-anchor="middle">Sequence position</text>
<text transform="translate(376 820) rotate(-90)" class="mpt" text-anchor="middle">Knowledge-based energy</text>
<rect x="664.3" y="699.6" width="6.4" height="4.6" rx="1" fill="#fff" stroke="#ccc" stroke-width="0.6"/>
<text x="4" y="409.5" class="pl" textLength="28.1" lengthAdjust="spacingAndGlyphs">(B)</text>
<text x="354.6" y="407.6" class="pl" textLength="29.3" lengthAdjust="spacingAndGlyphs">(C)</text>
<text x="6.6" y="713.4" class="pl" textLength="27.7" lengthAdjust="spacingAndGlyphs">(D)</text>
<text x="359.1" y="713.4" class="pl" textLength="27.4" lengthAdjust="spacingAndGlyphs">(E)</text>
</svg>
</body></html>
